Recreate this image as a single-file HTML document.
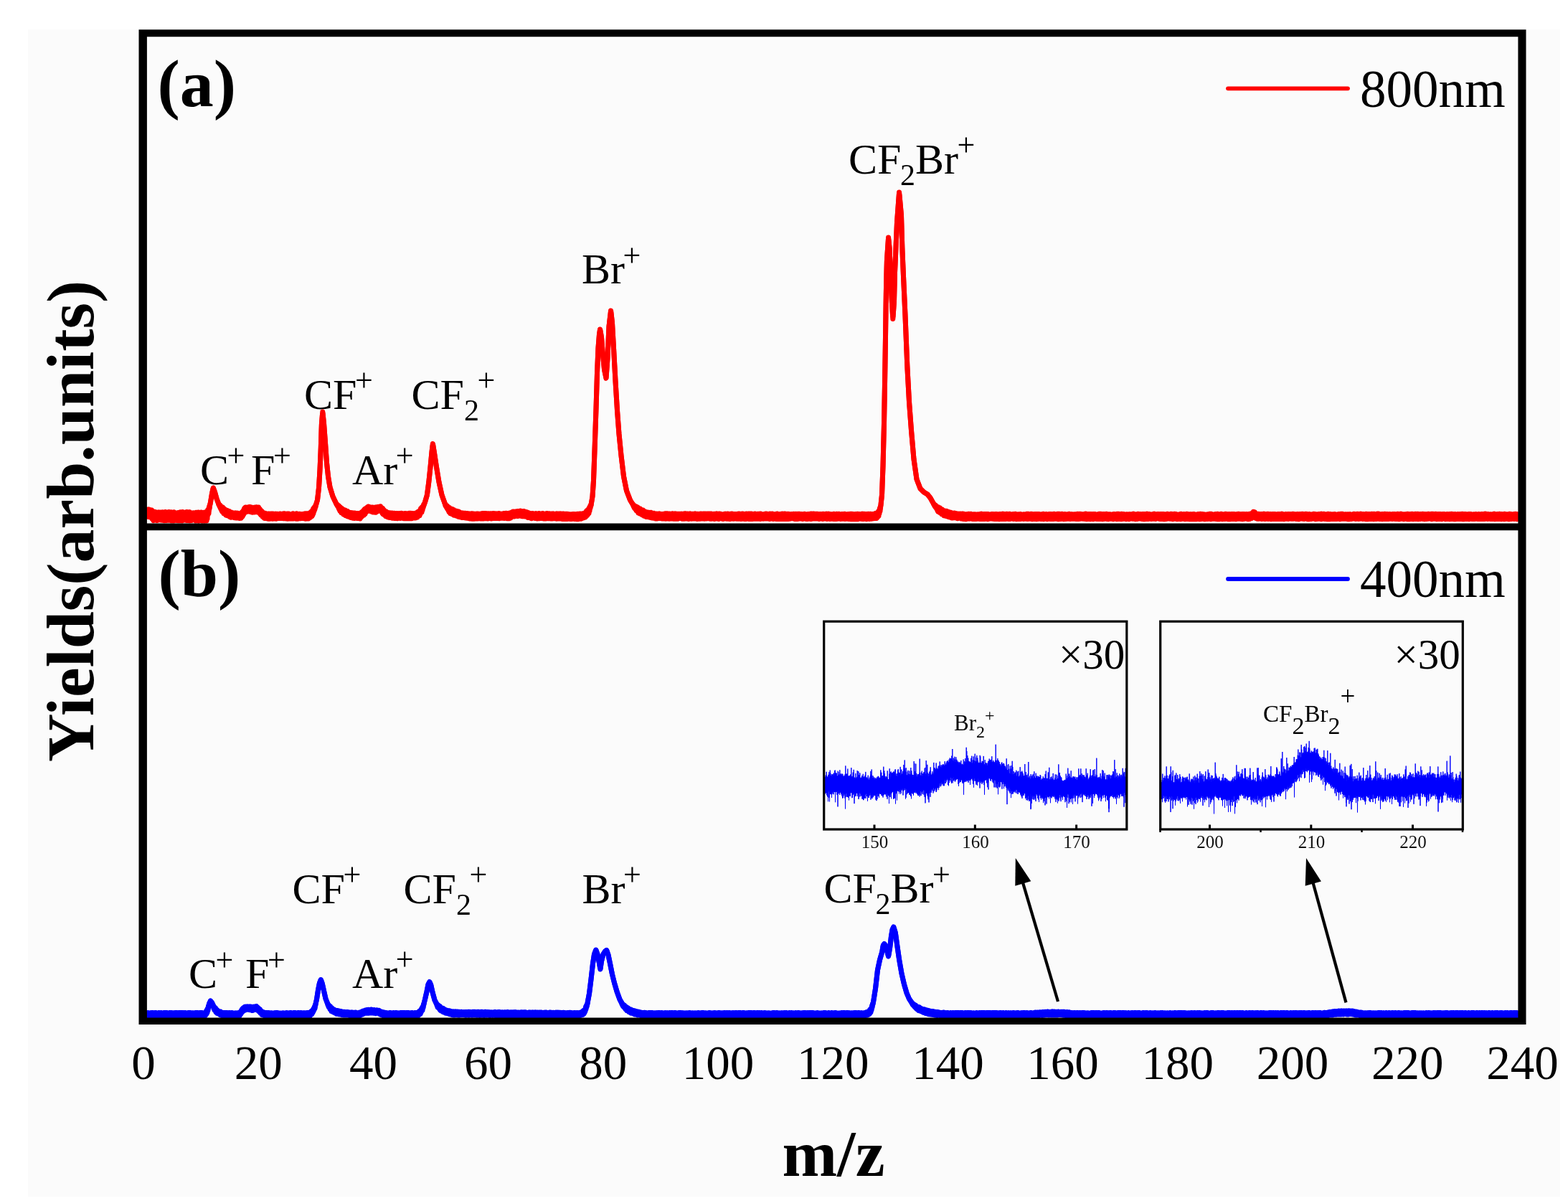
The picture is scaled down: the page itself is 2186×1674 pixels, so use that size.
<!DOCTYPE html>
<html><head><meta charset="utf-8"><title>Mass spectra</title>
<style>html,body{margin:0;padding:0;background:#fff;}svg{display:block}</style></head>
<body><svg width="2186" height="1674" viewBox="0 0 2186 1674">
<rect x="39" y="41" width="2136" height="1627" fill="#fbfbfb"/><path d="M205.5,710.5 L206.0,720.2 L206.5,709.9 L207.0,720.0 L207.5,710.1 L208.0,720.6 L208.5,711.0 L209.0,720.9 L209.5,711.0 L210.0,720.7 L210.5,711.0 L211.0,720.1 L211.5,711.1 L212.0,723.1 L212.5,713.3 L213.0,723.5 L213.5,713.9 L214.0,725.7 L214.5,714.0 L215.0,724.7 L215.5,713.3 L216.0,724.0 L216.5,713.5 L217.0,724.5 L217.5,714.8 L218.0,724.2 L218.5,714.5 L219.0,725.5 L219.5,714.8 L220.0,725.1 L220.5,713.9 L221.0,724.7 L221.5,714.1 L222.0,724.1 L222.5,715.0 L223.0,724.4 L223.5,713.9 L224.0,724.8 L224.5,714.6 L225.0,725.1 L225.5,714.3 L226.0,724.6 L226.5,713.7 L227.0,725.3 L227.5,714.7 L228.0,725.1 L228.5,714.2 L229.0,725.7 L229.5,713.8 L230.0,724.6 L230.5,713.4 L231.0,724.3 L231.5,714.4 L232.0,725.5 L232.5,714.9 L233.0,725.0 L233.5,715.2 L234.0,725.3 L234.5,713.8 L235.0,725.1 L235.5,713.6 L236.0,724.7 L236.5,713.9 L237.0,725.2 L237.5,714.2 L238.0,724.9 L238.5,713.7 L239.0,725.9 L239.5,714.4 L240.0,725.3 L240.5,715.2 L241.0,725.4 L241.5,714.1 L242.0,726.0 L242.5,713.7 L243.0,724.6 L243.5,714.6 L244.0,725.4 L244.5,715.3 L245.0,725.0 L245.5,715.0 L246.0,724.3 L246.5,715.2 L247.0,725.6 L247.5,715.1 L248.0,724.6 L248.5,714.6 L249.0,725.8 L249.5,715.2 L250.0,725.0 L250.5,714.3 L251.0,725.8 L251.5,713.8 L252.0,725.8 L252.5,714.8 L253.0,725.0 L253.5,714.7 L254.0,725.9 L254.5,713.6 L255.0,724.5 L255.5,715.0 L256.0,724.6 L256.5,714.9 L257.0,725.1 L257.5,714.3 L258.0,724.7 L258.5,715.4 L259.0,725.0 L259.5,714.7 L260.0,725.3 L260.5,713.6 L261.0,725.5 L261.5,714.4 L262.0,725.4 L262.5,714.1 L263.0,724.3 L263.5,713.7 L264.0,725.7 L264.5,713.8 L265.0,725.8 L265.5,714.7 L266.0,725.0 L266.5,715.3 L267.0,725.5 L267.5,715.3 L268.0,724.4 L268.5,715.1 L269.0,724.6 L269.5,714.8 L270.0,724.4 L270.5,715.5 L271.0,724.6 L271.5,715.3 L272.0,725.0 L272.5,715.4 L273.0,726.0 L273.5,714.3 L274.0,724.6 L274.5,715.0 L275.0,725.0 L275.5,714.8 L276.0,724.6 L276.5,713.9 L277.0,726.2 L277.5,714.6 L278.0,725.3 L278.5,715.4 L279.0,724.5 L279.5,714.9 L280.0,724.9 L280.5,714.0 L281.0,724.7 L281.5,715.5 L282.0,726.2 L282.5,714.6 L283.0,724.7 L283.5,714.5 L284.0,724.4 L284.5,714.6 L285.0,726.2 L285.5,713.9 L286.0,725.7 L286.5,715.1 L287.0,725.1 L287.5,715.3 L288.0,725.9 L288.5,713.3 L289.0,723.2 L289.5,711.0 L290.0,717.6 L290.5,709.7 L291.0,715.8 L291.5,706.5 L292.0,709.4 L292.5,703.4 L293.0,702.9 L293.5,700.0 L294.0,697.0 L294.5,694.0 L295.0,691.0 L295.5,688.0 L296.0,685.8 L296.5,683.6 L297.0,681.3 L297.5,680.5 L298.0,681.9 L298.5,683.3 L299.0,684.6 L299.5,686.0 L300.0,687.8 L300.5,689.6 L301.0,691.4 L301.5,693.2 L302.0,695.0 L302.5,696.3 L303.0,697.7 L303.5,699.0 L304.0,700.3 L304.5,701.4 L305.0,703.7 L305.5,703.0 L306.0,705.7 L306.5,703.7 L307.0,707.8 L307.5,704.7 L308.0,709.6 L308.5,706.2 L309.0,711.8 L309.5,706.9 L310.0,713.2 L310.5,706.9 L311.0,714.1 L311.5,708.4 L312.0,715.7 L312.5,709.0 L313.0,715.9 L313.5,710.7 L314.0,716.8 L314.5,710.5 L315.0,718.0 L315.5,711.8 L316.0,718.5 L316.5,711.3 L317.0,718.7 L317.5,712.5 L318.0,719.0 L318.5,713.2 L319.0,718.9 L319.5,712.6 L320.0,720.0 L320.5,713.6 L321.0,720.8 L321.5,714.1 L322.0,721.2 L322.5,714.0 L323.0,720.5 L323.5,714.7 L324.0,720.7 L324.5,714.8 L325.0,721.1 L325.5,714.9 L326.0,721.1 L326.5,715.2 L327.0,721.7 L327.5,715.0 L328.0,721.3 L328.5,714.9 L329.0,721.9 L329.5,715.2 L330.0,722.1 L330.5,715.2 L331.0,721.7 L331.5,715.3 L332.0,721.3 L332.5,715.5 L333.0,721.5 L333.5,716.1 L334.0,722.4 L334.5,716.0 L335.0,722.1 L335.5,715.5 L336.0,722.3 L336.5,715.3 L337.0,720.9 L337.5,713.7 L338.0,719.9 L338.5,712.9 L339.0,718.3 L339.5,711.3 L340.0,716.4 L340.5,709.1 L341.0,715.0 L341.5,707.7 L342.0,714.3 L342.5,707.1 L343.0,713.6 L343.5,707.3 L344.0,713.3 L344.5,707.2 L345.0,713.1 L345.5,707.1 L346.0,712.7 L346.5,706.9 L347.0,712.9 L347.5,706.6 L348.0,712.6 L348.5,706.4 L349.0,712.5 L349.5,707.1 L350.0,713.7 L350.5,707.0 L351.0,713.3 L351.5,708.1 L352.0,714.2 L352.5,708.2 L353.0,713.7 L353.5,708.1 L354.0,713.9 L354.5,707.2 L355.0,713.9 L355.5,707.7 L356.0,713.5 L356.5,707.0 L357.0,712.7 L357.5,706.7 L358.0,713.6 L358.5,707.6 L359.0,714.0 L359.5,707.6 L360.0,713.8 L360.5,707.1 L361.0,714.6 L361.5,708.8 L362.0,715.5 L362.5,709.8 L363.0,716.7 L363.5,711.5 L364.0,718.0 L364.5,712.0 L365.0,718.6 L365.5,713.0 L366.0,719.9 L366.5,714.5 L367.0,720.7 L367.5,714.7 L368.0,721.7 L368.5,715.9 L369.0,722.4 L369.5,715.2 L370.0,722.6 L370.5,716.1 L371.0,722.0 L371.5,716.4 L372.0,722.7 L372.5,716.3 L373.0,722.1 L373.5,716.3 L374.0,723.2 L374.5,715.9 L375.0,722.5 L375.5,716.7 L376.0,723.2 L376.5,716.2 L377.0,723.0 L377.5,716.7 L378.0,722.2 L378.5,716.1 L379.0,722.6 L379.5,716.8 L380.0,723.2 L380.5,716.1 L381.0,723.1 L381.5,716.7 L382.0,723.1 L382.5,716.8 L383.0,723.1 L383.5,716.3 L384.0,722.5 L384.5,716.2 L385.0,723.2 L385.5,716.5 L386.0,722.3 L386.5,716.2 L387.0,722.4 L387.5,716.7 L388.0,722.3 L388.5,716.8 L389.0,722.4 L389.5,716.5 L390.0,722.5 L390.5,716.0 L391.0,722.5 L391.5,716.3 L392.0,722.4 L392.5,716.4 L393.0,722.2 L393.5,716.6 L394.0,722.2 L394.5,716.0 L395.0,722.8 L395.5,716.6 L396.0,722.7 L396.5,715.8 L397.0,722.3 L397.5,715.9 L398.0,722.7 L398.5,716.3 L399.0,723.1 L399.5,716.4 L400.0,722.7 L400.5,716.1 L401.0,723.3 L401.5,716.4 L402.0,723.1 L402.5,716.0 L403.0,722.9 L403.5,716.4 L404.0,722.6 L404.5,716.8 L405.0,722.3 L405.5,716.8 L406.0,723.0 L406.5,716.5 L407.0,722.3 L407.5,716.7 L408.0,723.1 L408.5,715.8 L409.0,722.9 L409.5,716.5 L410.0,722.4 L410.5,716.5 L411.0,722.7 L411.5,716.7 L412.0,722.7 L412.5,716.5 L413.0,723.3 L413.5,715.7 L414.0,722.8 L414.5,716.6 L415.0,723.3 L415.5,716.5 L416.0,722.6 L416.5,716.8 L417.0,722.6 L417.5,716.3 L418.0,722.7 L418.5,716.6 L419.0,722.7 L419.5,716.8 L420.0,722.5 L420.5,716.7 L421.0,722.6 L421.5,716.8 L422.0,722.2 L422.5,716.5 L423.0,722.4 L423.5,716.2 L424.0,722.8 L424.5,716.0 L425.0,722.9 L425.5,716.0 L426.0,723.2 L426.5,716.4 L427.0,722.5 L427.5,715.7 L428.0,722.3 L428.5,716.0 L429.0,722.9 L429.5,716.8 L430.0,723.1 L430.5,715.5 L431.0,722.2 L431.5,715.0 L432.0,721.7 L432.5,714.9 L433.0,720.7 L433.5,713.8 L434.0,720.3 L434.5,712.8 L435.0,719.6 L435.5,711.7 L436.0,717.7 L436.5,709.6 L437.0,715.5 L437.5,708.1 L438.0,712.4 L438.5,706.8 L439.0,710.1 L439.5,705.3 L440.0,706.9 L440.5,702.8 L441.0,702.3 L441.5,700.3 L442.0,698.7 L442.5,697.0 L443.0,692.8 L443.5,688.5 L444.0,684.2 L444.5,680.0 L445.0,671.7 L445.5,663.3 L446.0,655.0 L446.5,643.5 L447.0,631.9 L447.5,618.4 L448.0,601.9 L448.5,589.6 L449.0,583.6 L449.5,577.6 L450.0,575.9 L450.5,580.6 L451.0,585.3 L451.5,590.0 L452.0,596.8 L452.5,603.5 L453.0,610.2 L453.5,617.0 L454.0,624.0 L454.5,631.0 L455.0,638.0 L455.5,645.0 L456.0,649.8 L456.5,654.5 L457.0,659.2 L457.5,664.0 L458.0,667.0 L458.5,670.0 L459.0,673.0 L459.5,676.0 L460.0,679.0 L460.5,680.6 L461.0,682.2 L461.5,683.9 L462.0,685.5 L462.5,687.1 L463.0,688.8 L463.5,690.4 L464.0,692.0 L464.5,693.0 L465.0,694.1 L465.5,695.1 L466.0,696.2 L466.5,697.2 L467.0,698.3 L467.5,699.4 L468.0,700.4 L468.5,701.3 L469.0,703.0 L469.5,702.6 L470.0,704.7 L470.5,703.2 L471.0,706.3 L471.5,704.1 L472.0,708.3 L472.5,704.9 L473.0,710.2 L473.5,706.3 L474.0,712.1 L474.5,707.0 L475.0,713.0 L475.5,708.4 L476.0,714.6 L476.5,708.5 L477.0,715.1 L477.5,709.6 L478.0,715.8 L478.5,710.0 L479.0,717.0 L479.5,711.0 L480.0,717.5 L480.5,710.7 L481.0,717.5 L481.5,711.3 L482.0,718.8 L482.5,712.0 L483.0,719.0 L483.5,713.1 L484.0,719.4 L484.5,712.6 L485.0,719.9 L485.5,713.6 L486.0,720.0 L486.5,714.0 L487.0,719.8 L487.5,714.5 L488.0,721.0 L488.5,714.5 L489.0,721.4 L489.5,714.9 L490.0,720.9 L490.5,714.8 L491.0,721.1 L491.5,715.3 L492.0,722.3 L492.5,714.9 L493.0,722.2 L493.5,715.3 L494.0,722.4 L494.5,715.0 L495.0,722.1 L495.5,715.4 L496.0,721.6 L496.5,715.5 L497.0,722.2 L497.5,715.5 L498.0,722.5 L498.5,716.2 L499.0,721.9 L499.5,715.5 L500.0,722.1 L500.5,716.2 L501.0,722.5 L501.5,716.5 L502.0,723.0 L502.5,715.2 L503.0,721.5 L503.5,714.6 L504.0,720.5 L504.5,713.7 L505.0,719.6 L505.5,713.1 L506.0,718.3 L506.5,712.1 L507.0,718.2 L507.5,710.8 L508.0,716.5 L508.5,709.4 L509.0,716.4 L509.5,709.0 L510.0,714.5 L510.5,708.3 L511.0,713.4 L511.5,707.5 L512.0,712.2 L512.5,706.9 L513.0,711.2 L513.5,706.0 L514.0,711.6 L514.5,706.2 L515.0,711.8 L515.5,706.8 L516.0,712.4 L516.5,707.1 L517.0,712.8 L517.5,707.7 L518.0,713.3 L518.5,707.0 L519.0,713.3 L519.5,707.5 L520.0,714.0 L520.5,707.2 L521.0,713.6 L521.5,707.9 L522.0,713.8 L522.5,707.8 L523.0,714.2 L523.5,707.1 L524.0,714.2 L524.5,707.0 L525.0,712.8 L525.5,707.7 L526.0,713.1 L526.5,706.6 L527.0,712.4 L527.5,706.7 L528.0,711.5 L528.5,706.6 L529.0,711.9 L529.5,706.0 L530.0,711.4 L530.5,705.8 L531.0,711.7 L531.5,707.4 L532.0,713.2 L532.5,707.9 L533.0,715.2 L533.5,708.6 L534.0,716.5 L534.5,710.0 L535.0,717.3 L535.5,710.9 L536.0,717.8 L536.5,712.2 L537.0,718.8 L537.5,712.7 L538.0,719.7 L538.5,713.0 L539.0,719.8 L539.5,714.3 L540.0,720.4 L540.5,714.2 L541.0,721.1 L541.5,715.0 L542.0,720.6 L542.5,714.7 L543.0,721.4 L543.5,715.1 L544.0,721.2 L544.5,715.0 L545.0,721.1 L545.5,715.5 L546.0,721.8 L546.5,715.0 L547.0,722.2 L547.5,715.2 L548.0,722.2 L548.5,716.1 L549.0,721.9 L549.5,715.2 L550.0,722.5 L550.5,716.0 L551.0,721.7 L551.5,715.8 L552.0,722.4 L552.5,715.9 L553.0,722.0 L553.5,715.6 L554.0,722.7 L554.5,716.1 L555.0,721.7 L555.5,716.0 L556.0,722.1 L556.5,715.6 L557.0,721.9 L557.5,715.4 L558.0,722.5 L558.5,715.8 L559.0,721.9 L559.5,715.2 L560.0,722.0 L560.5,715.4 L561.0,721.9 L561.5,716.1 L562.0,722.5 L562.5,716.0 L563.0,722.7 L563.5,715.8 L564.0,721.9 L564.5,716.1 L565.0,722.1 L565.5,715.6 L566.0,722.7 L566.5,716.2 L567.0,722.1 L567.5,716.1 L568.0,722.8 L568.5,716.2 L569.0,721.7 L569.5,716.3 L570.0,722.1 L570.5,715.3 L571.0,722.7 L571.5,715.5 L572.0,722.8 L572.5,715.3 L573.0,722.0 L573.5,716.1 L574.0,722.7 L574.5,715.5 L575.0,721.7 L575.5,715.6 L576.0,722.1 L576.5,715.9 L577.0,722.0 L577.5,716.1 L578.0,721.7 L578.5,716.0 L579.0,722.1 L579.5,715.3 L580.0,721.8 L580.5,714.8 L581.0,721.1 L581.5,714.7 L582.0,721.0 L582.5,713.4 L583.0,719.8 L583.5,713.5 L584.0,719.0 L584.5,712.3 L585.0,718.7 L585.5,711.4 L586.0,716.6 L586.5,709.1 L587.0,714.7 L587.5,708.1 L588.0,713.9 L588.5,706.7 L589.0,711.2 L589.5,705.9 L590.0,707.9 L590.5,703.6 L591.0,704.7 L591.5,702.0 L592.0,701.4 L592.5,700.0 L593.0,698.3 L593.5,696.6 L594.0,694.8 L594.5,693.1 L595.0,691.4 L595.5,689.2 L596.0,685.5 L596.5,681.7 L597.0,678.0 L597.5,674.2 L598.0,670.1 L598.5,665.3 L599.0,660.5 L599.5,655.8 L600.0,651.0 L600.5,645.8 L601.0,640.5 L601.5,635.2 L602.0,630.0 L602.5,625.9 L603.0,621.8 L603.5,619.1 L604.0,622.1 L604.5,625.2 L605.0,628.2 L605.5,631.3 L606.0,634.6 L606.5,637.9 L607.0,641.2 L607.5,644.4 L608.0,647.7 L608.5,651.0 L609.0,654.0 L609.5,657.0 L610.0,660.0 L610.5,663.0 L611.0,666.0 L611.5,669.0 L612.0,672.0 L612.5,674.2 L613.0,676.5 L613.5,678.8 L614.0,681.0 L614.5,683.2 L615.0,685.5 L615.5,687.8 L616.0,690.0 L616.5,691.4 L617.0,692.8 L617.5,694.2 L618.0,695.6 L618.5,697.0 L619.0,698.4 L619.5,699.8 L620.0,701.3 L620.5,702.1 L621.0,704.8 L621.5,703.3 L622.0,706.5 L622.5,704.3 L623.0,708.2 L623.5,705.0 L624.0,709.7 L624.5,706.2 L625.0,711.4 L625.5,707.2 L626.0,713.6 L626.5,707.6 L627.0,714.5 L627.5,708.6 L628.0,715.8 L628.5,709.0 L629.0,715.4 L629.5,709.2 L630.0,716.4 L630.5,709.5 L631.0,716.3 L631.5,710.5 L632.0,717.6 L632.5,710.6 L633.0,718.2 L633.5,712.0 L634.0,718.0 L634.5,712.5 L635.0,718.4 L635.5,711.9 L636.0,719.1 L636.5,712.2 L637.0,719.2 L637.5,712.6 L638.0,719.6 L638.5,713.6 L639.0,720.2 L639.5,713.1 L640.0,719.8 L640.5,713.8 L641.0,720.7 L641.5,714.5 L642.0,720.7 L642.5,714.9 L643.0,720.8 L643.5,715.1 L644.0,721.5 L644.5,714.9 L645.0,721.4 L645.5,715.9 L646.0,721.6 L646.5,715.2 L647.0,721.5 L647.5,715.7 L648.0,721.6 L648.5,715.2 L649.0,722.1 L649.5,716.1 L650.0,721.6 L650.5,715.8 L651.0,722.2 L651.5,715.5 L652.0,721.7 L652.5,716.2 L653.0,722.5 L653.5,715.9 L654.0,722.1 L654.5,716.1 L655.0,722.9 L655.5,716.2 L656.0,722.5 L656.5,716.2 L657.0,722.4 L657.5,715.7 L658.0,723.2 L658.5,716.3 L659.0,722.3 L659.5,716.0 L660.0,722.4 L660.5,716.8 L661.0,723.2 L661.5,716.3 L662.0,723.1 L662.5,716.4 L663.0,723.1 L663.5,716.3 L664.0,722.3 L664.5,716.8 L665.0,722.7 L665.5,716.1 L666.0,723.1 L666.5,716.7 L667.0,722.8 L667.5,716.3 L668.0,722.7 L668.5,716.6 L669.0,722.4 L669.5,716.2 L670.0,723.1 L670.5,716.6 L671.0,722.6 L671.5,715.8 L672.0,723.1 L672.5,716.5 L673.0,722.2 L673.5,715.6 L674.0,723.1 L674.5,716.1 L675.0,722.1 L675.5,715.6 L676.0,722.4 L676.5,715.6 L677.0,722.7 L677.5,715.7 L678.0,722.2 L678.5,715.8 L679.0,722.2 L679.5,716.2 L680.0,722.9 L680.5,715.7 L681.0,722.2 L681.5,716.4 L682.0,722.4 L682.5,716.0 L683.0,722.4 L683.5,716.5 L684.0,722.2 L684.5,715.8 L685.0,722.9 L685.5,716.5 L686.0,722.5 L686.5,715.7 L687.0,721.9 L687.5,715.6 L688.0,722.0 L688.5,715.9 L689.0,722.5 L689.5,715.8 L690.0,722.2 L690.5,716.1 L691.0,722.5 L691.5,716.0 L692.0,722.6 L692.5,716.0 L693.0,722.3 L693.5,716.5 L694.0,722.5 L694.5,715.9 L695.0,722.1 L695.5,715.6 L696.0,722.7 L696.5,716.0 L697.0,722.0 L697.5,715.9 L698.0,721.9 L698.5,716.3 L699.0,722.3 L699.5,716.3 L700.0,722.3 L700.5,715.9 L701.0,721.8 L701.5,715.7 L702.0,721.8 L702.5,715.6 L703.0,722.6 L703.5,715.8 L704.0,721.8 L704.5,715.8 L705.0,722.1 L705.5,715.3 L706.0,721.9 L706.5,715.4 L707.0,722.8 L707.5,715.5 L708.0,722.6 L708.5,716.1 L709.0,722.8 L709.5,715.8 L710.0,722.8 L710.5,715.1 L711.0,721.4 L711.5,714.8 L712.0,721.9 L712.5,715.2 L713.0,720.8 L713.5,714.0 L714.0,720.2 L714.5,713.4 L715.0,719.9 L715.5,713.1 L716.0,719.3 L716.5,713.2 L717.0,720.1 L717.5,713.4 L718.0,719.2 L718.5,713.0 L719.0,719.1 L719.5,713.4 L720.0,718.9 L720.5,713.1 L721.0,719.6 L721.5,712.4 L722.0,719.4 L722.5,712.8 L723.0,719.2 L723.5,712.8 L724.0,718.8 L724.5,712.2 L725.0,718.7 L725.5,712.0 L726.0,719.0 L726.5,712.5 L727.0,719.5 L727.5,713.2 L728.0,719.8 L728.5,712.7 L729.0,719.2 L729.5,712.6 L730.0,719.2 L730.5,712.5 L731.0,719.7 L731.5,713.4 L732.0,720.0 L732.5,713.5 L733.0,719.7 L733.5,713.5 L734.0,719.8 L734.5,713.7 L735.0,720.4 L735.5,714.2 L736.0,721.5 L736.5,714.6 L737.0,721.5 L737.5,715.2 L738.0,721.0 L738.5,715.8 L739.0,721.5 L739.5,715.5 L740.0,722.2 L740.5,715.8 L741.0,722.7 L741.5,716.2 L742.0,721.9 L742.5,715.6 L743.0,721.7 L743.5,716.4 L744.0,722.1 L744.5,716.3 L745.0,722.1 L745.5,716.2 L746.0,722.4 L746.5,715.8 L747.0,722.0 L747.5,715.7 L748.0,722.3 L748.5,716.3 L749.0,722.9 L749.5,716.2 L750.0,722.0 L750.5,716.4 L751.0,722.6 L751.5,715.5 L752.0,722.7 L752.5,716.1 L753.0,722.2 L753.5,716.5 L754.0,722.6 L754.5,715.9 L755.0,722.3 L755.5,715.8 L756.0,722.4 L756.5,715.5 L757.0,722.8 L757.5,716.3 L758.0,723.0 L758.5,716.6 L759.0,722.6 L759.5,716.2 L760.0,722.2 L760.5,716.6 L761.0,722.9 L761.5,716.7 L762.0,722.6 L762.5,715.6 L763.0,722.2 L763.5,716.5 L764.0,722.7 L764.5,716.1 L765.0,722.8 L765.5,715.8 L766.0,722.3 L766.5,716.4 L767.0,722.4 L767.5,716.7 L768.0,723.1 L768.5,715.9 L769.0,722.9 L769.5,716.8 L770.0,723.1 L770.5,716.0 L771.0,722.7 L771.5,716.0 L772.0,722.7 L772.5,716.6 L773.0,722.3 L773.5,716.6 L774.0,722.2 L774.5,716.5 L775.0,723.1 L775.5,716.1 L776.0,723.2 L776.5,716.1 L777.0,722.5 L777.5,716.3 L778.0,722.7 L778.5,716.0 L779.0,722.9 L779.5,716.6 L780.0,723.0 L780.5,715.9 L781.0,722.5 L781.5,716.0 L782.0,722.3 L782.5,716.7 L783.0,722.6 L783.5,716.2 L784.0,723.4 L784.5,716.2 L785.0,722.7 L785.5,716.0 L786.0,722.7 L786.5,716.8 L787.0,723.4 L787.5,716.4 L788.0,723.2 L788.5,716.3 L789.0,723.5 L789.5,716.6 L790.0,723.4 L790.5,716.3 L791.0,723.4 L791.5,716.6 L792.0,723.3 L792.5,716.5 L793.0,722.8 L793.5,716.9 L794.0,723.2 L794.5,717.1 L795.0,723.5 L795.5,717.0 L796.0,722.6 L796.5,717.1 L797.0,723.6 L797.5,716.8 L798.0,722.7 L798.5,717.2 L799.0,722.6 L799.5,716.5 L800.0,723.3 L800.5,716.5 L801.0,723.4 L801.5,717.2 L802.0,723.3 L802.5,716.9 L803.0,723.6 L803.5,716.4 L804.0,723.7 L804.5,717.3 L805.0,723.6 L805.5,716.3 L806.0,723.7 L806.5,717.1 L807.0,722.8 L807.5,717.0 L808.0,722.5 L808.5,716.1 L809.0,723.3 L809.5,716.3 L810.0,723.2 L810.5,716.2 L811.0,722.6 L811.5,716.8 L812.0,722.3 L812.5,715.7 L813.0,721.9 L813.5,715.7 L814.0,721.6 L814.5,715.6 L815.0,721.0 L815.5,714.8 L816.0,721.0 L816.5,714.2 L817.0,720.0 L817.5,712.6 L818.0,719.0 L818.5,711.5 L819.0,717.9 L819.5,711.2 L820.0,716.4 L820.5,709.5 L821.0,715.5 L821.5,707.7 L822.0,712.2 L822.5,705.7 L823.0,708.3 L823.5,703.8 L824.0,704.8 L824.5,701.0 L825.0,698.0 L825.5,695.0 L826.0,692.0 L826.5,684.7 L827.0,677.3 L827.5,670.0 L828.0,656.1 L828.5,642.2 L829.0,628.3 L829.5,614.1 L830.0,599.4 L830.5,584.7 L831.0,570.0 L831.5,553.3 L832.0,536.7 L832.5,520.0 L833.0,508.3 L833.5,496.7 L834.0,485.0 L834.5,478.7 L835.0,472.3 L835.5,466.0 L836.0,462.8 L836.5,459.6 L837.0,461.3 L837.5,464.2 L838.0,467.1 L838.5,470.0 L839.0,476.2 L839.5,482.5 L840.0,488.8 L840.5,495.0 L841.0,500.0 L841.5,505.0 L842.0,510.0 L842.5,515.0 L843.0,517.4 L843.5,519.8 L844.0,522.2 L844.5,524.6 L845.0,527.0 L845.5,520.2 L846.0,513.5 L846.5,506.8 L847.0,500.0 L847.5,488.8 L848.0,477.5 L848.5,466.2 L849.0,455.0 L849.5,450.8 L850.0,446.5 L850.5,442.3 L851.0,438.1 L851.5,433.8 L852.0,436.6 L852.5,441.1 L853.0,445.5 L853.5,450.0 L854.0,458.8 L854.5,467.5 L855.0,476.2 L855.5,485.0 L856.0,494.2 L856.5,503.4 L857.0,512.6 L857.5,521.8 L858.0,531.0 L858.5,539.2 L859.0,547.4 L859.5,555.6 L860.0,563.8 L860.5,572.0 L861.0,578.6 L861.5,585.2 L862.0,591.8 L862.5,598.4 L863.0,605.0 L863.5,610.0 L864.0,615.0 L864.5,620.0 L865.0,625.0 L865.5,630.0 L866.0,635.0 L866.5,639.1 L867.0,643.3 L867.5,647.4 L868.0,651.6 L868.5,655.7 L869.0,659.9 L869.5,664.0 L870.0,666.5 L870.5,669.0 L871.0,671.5 L871.5,674.0 L872.0,676.5 L872.5,679.0 L873.0,681.5 L873.5,684.0 L874.0,685.3 L874.5,686.6 L875.0,687.9 L875.5,689.2 L876.0,690.5 L876.5,691.8 L877.0,693.1 L877.5,694.4 L878.0,695.7 L878.5,697.0 L879.0,697.8 L879.5,698.6 L880.0,699.5 L880.5,700.3 L881.0,701.1 L881.5,701.7 L882.0,703.3 L882.5,702.6 L883.0,705.5 L883.5,703.8 L884.0,707.5 L884.5,704.7 L885.0,708.7 L885.5,705.2 L886.0,709.8 L886.5,705.7 L887.0,711.4 L887.5,706.7 L888.0,712.3 L888.5,706.7 L889.0,713.2 L889.5,707.6 L890.0,714.9 L890.5,708.9 L891.0,715.3 L891.5,709.4 L892.0,716.1 L892.5,709.0 L893.0,716.3 L893.5,710.5 L894.0,716.8 L894.5,710.5 L895.0,717.5 L895.5,711.0 L896.0,717.9 L896.5,711.1 L897.0,718.3 L897.5,712.1 L898.0,719.2 L898.5,712.9 L899.0,719.4 L899.5,713.1 L900.0,720.0 L900.5,713.8 L901.0,720.5 L901.5,713.7 L902.0,719.6 L902.5,714.0 L903.0,720.2 L903.5,714.5 L904.0,720.4 L904.5,714.3 L905.0,721.0 L905.5,714.5 L906.0,720.7 L906.5,714.9 L907.0,721.4 L907.5,714.3 L908.0,721.4 L908.5,715.3 L909.0,721.9 L909.5,715.3 L910.0,721.4 L910.5,715.8 L911.0,722.2 L911.5,715.2 L912.0,722.3 L912.5,715.8 L913.0,722.4 L913.5,716.3 L914.0,723.1 L914.5,716.3 L915.0,722.9 L915.5,715.9 L916.0,723.1 L916.5,716.3 L917.0,722.5 L917.5,716.2 L918.0,722.3 L918.5,715.9 L919.0,722.6 L919.5,715.9 L920.0,722.5 L920.5,716.4 L921.0,722.5 L921.5,716.4 L922.0,722.4 L922.5,716.8 L923.0,723.0 L923.5,716.5 L924.0,722.5 L924.5,716.5 L925.0,722.7 L925.5,716.4 L926.0,722.9 L926.5,716.1 L927.0,722.6 L927.5,715.8 L928.0,723.2 L928.5,716.8 L929.0,723.1 L929.5,715.8 L930.0,723.1 L930.5,716.7 L931.0,723.1 L931.5,716.1 L932.0,722.2 L932.5,716.9 L933.0,723.3 L933.5,716.1 L934.0,722.5 L934.5,716.8 L935.0,722.4 L935.5,716.6 L936.0,723.1 L936.5,716.5 L937.0,722.4 L937.5,715.8 L938.0,723.1 L938.5,716.7 L939.0,723.2 L939.5,716.2 L940.0,723.1 L940.5,716.1 L941.0,723.2 L941.5,716.0 L942.0,723.2 L942.5,716.7 L943.0,723.0 L943.5,716.3 L944.0,723.1 L944.5,716.4 L945.0,723.2 L945.5,716.3 L946.0,722.5 L946.5,716.6 L947.0,722.4 L947.5,716.3 L948.0,722.3 L948.5,716.4 L949.0,722.4 L949.5,716.3 L950.0,722.8 L950.5,716.3 L951.0,723.2 L951.5,716.9 L952.0,723.2 L952.5,716.4 L953.0,722.9 L953.5,716.1 L954.0,723.2 L954.5,716.5 L955.0,722.7 L955.5,715.8 L956.0,722.3 L956.5,716.2 L957.0,723.0 L957.5,716.9 L958.0,722.9 L958.5,716.1 L959.0,723.3 L959.5,716.5 L960.0,723.4 L960.5,716.3 L961.0,722.8 L961.5,715.9 L962.0,722.3 L962.5,716.1 L963.0,723.0 L963.5,716.5 L964.0,723.2 L964.5,716.5 L965.0,722.8 L965.5,716.3 L966.0,723.1 L966.5,716.7 L967.0,722.7 L967.5,716.4 L968.0,722.9 L968.5,716.0 L969.0,722.6 L969.5,716.0 L970.0,722.7 L970.5,716.4 L971.0,722.6 L971.5,716.4 L972.0,723.4 L972.5,716.2 L973.0,723.2 L973.5,716.6 L974.0,722.6 L974.5,716.6 L975.0,722.9 L975.5,716.2 L976.0,723.2 L976.5,716.9 L977.0,723.1 L977.5,715.9 L978.0,722.9 L978.5,716.9 L979.0,722.6 L979.5,716.9 L980.0,722.5 L980.5,715.9 L981.0,723.0 L981.5,716.2 L982.0,723.2 L982.5,715.9 L983.0,723.0 L983.5,716.3 L984.0,723.0 L984.5,716.2 L985.0,723.0 L985.5,716.2 L986.0,722.5 L986.5,716.2 L987.0,722.8 L987.5,716.1 L988.0,722.4 L988.5,716.8 L989.0,722.3 L989.5,716.1 L990.0,723.3 L990.5,716.2 L991.0,722.7 L991.5,716.0 L992.0,723.2 L992.5,716.3 L993.0,722.6 L993.5,716.6 L994.0,722.8 L994.5,716.6 L995.0,722.8 L995.5,716.2 L996.0,723.4 L996.5,716.9 L997.0,722.9 L997.5,716.9 L998.0,722.4 L998.5,716.1 L999.0,723.0 L999.5,715.9 L1000.0,722.8 L1000.5,717.0 L1001.0,722.7 L1001.5,716.3 L1002.0,723.4 L1002.5,715.9 L1003.0,722.8 L1003.5,716.5 L1004.0,722.4 L1004.5,716.3 L1005.0,722.6 L1005.5,716.8 L1006.0,722.3 L1006.5,717.0 L1007.0,723.1 L1007.5,716.9 L1008.0,723.4 L1008.5,716.9 L1009.0,723.3 L1009.5,716.9 L1010.0,722.3 L1010.5,716.2 L1011.0,722.6 L1011.5,716.2 L1012.0,722.5 L1012.5,716.9 L1013.0,723.2 L1013.5,716.2 L1014.0,723.3 L1014.5,716.2 L1015.0,722.4 L1015.5,716.3 L1016.0,723.1 L1016.5,716.5 L1017.0,723.4 L1017.5,716.7 L1018.0,723.4 L1018.5,716.2 L1019.0,722.3 L1019.5,717.0 L1020.0,723.1 L1020.5,716.1 L1021.0,722.4 L1021.5,716.7 L1022.0,723.2 L1022.5,716.8 L1023.0,723.3 L1023.5,716.5 L1024.0,722.4 L1024.5,716.6 L1025.0,723.0 L1025.5,716.5 L1026.0,723.1 L1026.5,716.9 L1027.0,723.3 L1027.5,716.6 L1028.0,723.1 L1028.5,716.3 L1029.0,722.8 L1029.5,716.6 L1030.0,723.2 L1030.5,716.0 L1031.0,723.2 L1031.5,716.4 L1032.0,722.7 L1032.5,717.0 L1033.0,723.5 L1033.5,716.2 L1034.0,723.3 L1034.5,716.7 L1035.0,723.1 L1035.5,715.9 L1036.0,723.3 L1036.5,716.4 L1037.0,722.7 L1037.5,716.6 L1038.0,723.4 L1038.5,716.6 L1039.0,723.1 L1039.5,716.4 L1040.0,723.4 L1040.5,716.1 L1041.0,722.7 L1041.5,717.0 L1042.0,722.7 L1042.5,716.6 L1043.0,723.0 L1043.5,716.1 L1044.0,723.4 L1044.5,717.0 L1045.0,723.3 L1045.5,716.1 L1046.0,723.4 L1046.5,716.4 L1047.0,722.7 L1047.5,716.1 L1048.0,723.3 L1048.5,716.3 L1049.0,723.4 L1049.5,716.7 L1050.0,722.5 L1050.5,716.4 L1051.0,723.3 L1051.5,716.8 L1052.0,723.2 L1052.5,716.0 L1053.0,722.7 L1053.5,716.4 L1054.0,723.2 L1054.5,716.5 L1055.0,722.6 L1055.5,716.8 L1056.0,723.3 L1056.5,716.2 L1057.0,722.9 L1057.5,717.0 L1058.0,723.3 L1058.5,716.2 L1059.0,722.7 L1059.5,716.4 L1060.0,723.4 L1060.5,716.1 L1061.0,723.0 L1061.5,716.5 L1062.0,723.1 L1062.5,716.9 L1063.0,722.6 L1063.5,716.9 L1064.0,723.2 L1064.5,716.7 L1065.0,723.1 L1065.5,716.6 L1066.0,723.0 L1066.5,716.9 L1067.0,722.5 L1067.5,716.0 L1068.0,722.8 L1068.5,717.0 L1069.0,723.1 L1069.5,716.2 L1070.0,722.6 L1070.5,716.4 L1071.0,722.8 L1071.5,716.5 L1072.0,722.4 L1072.5,717.1 L1073.0,723.6 L1073.5,716.1 L1074.0,723.0 L1074.5,716.5 L1075.0,722.7 L1075.5,716.2 L1076.0,722.9 L1076.5,716.0 L1077.0,723.3 L1077.5,716.2 L1078.0,723.5 L1078.5,716.8 L1079.0,722.5 L1079.5,716.9 L1080.0,722.6 L1080.5,717.0 L1081.0,722.5 L1081.5,716.5 L1082.0,723.4 L1082.5,716.6 L1083.0,723.5 L1083.5,716.1 L1084.0,722.5 L1084.5,716.4 L1085.0,722.9 L1085.5,717.0 L1086.0,723.5 L1086.5,716.8 L1087.0,723.1 L1087.5,716.4 L1088.0,723.5 L1088.5,716.4 L1089.0,722.9 L1089.5,716.6 L1090.0,722.6 L1090.5,716.0 L1091.0,723.6 L1091.5,716.9 L1092.0,722.5 L1092.5,716.8 L1093.0,722.9 L1093.5,716.1 L1094.0,723.5 L1094.5,716.2 L1095.0,722.5 L1095.5,716.2 L1096.0,723.3 L1096.5,716.4 L1097.0,723.6 L1097.5,717.1 L1098.0,722.6 L1098.5,716.3 L1099.0,723.5 L1099.5,716.4 L1100.0,722.8 L1100.5,716.5 L1101.0,723.3 L1101.5,717.0 L1102.0,722.8 L1102.5,716.9 L1103.0,722.6 L1103.5,716.6 L1104.0,722.7 L1104.5,716.9 L1105.0,722.6 L1105.5,716.4 L1106.0,722.5 L1106.5,716.3 L1107.0,722.7 L1107.5,717.1 L1108.0,723.5 L1108.5,716.9 L1109.0,723.5 L1109.5,716.2 L1110.0,723.5 L1110.5,717.0 L1111.0,723.0 L1111.5,717.1 L1112.0,723.5 L1112.5,716.2 L1113.0,723.2 L1113.5,716.7 L1114.0,722.9 L1114.5,716.2 L1115.0,723.0 L1115.5,716.5 L1116.0,722.7 L1116.5,716.9 L1117.0,722.6 L1117.5,716.4 L1118.0,723.1 L1118.5,717.0 L1119.0,723.5 L1119.5,716.9 L1120.0,723.0 L1120.5,717.0 L1121.0,722.8 L1121.5,716.2 L1122.0,722.9 L1122.5,717.0 L1123.0,723.1 L1123.5,716.8 L1124.0,723.5 L1124.5,717.1 L1125.0,723.6 L1125.5,717.1 L1126.0,723.5 L1126.5,716.4 L1127.0,722.8 L1127.5,716.6 L1128.0,722.8 L1128.5,716.9 L1129.0,722.7 L1129.5,716.8 L1130.0,723.6 L1130.5,716.1 L1131.0,723.6 L1131.5,717.1 L1132.0,722.9 L1132.5,716.2 L1133.0,722.6 L1133.5,716.4 L1134.0,722.9 L1134.5,716.1 L1135.0,722.5 L1135.5,716.3 L1136.0,722.9 L1136.5,717.0 L1137.0,722.5 L1137.5,716.3 L1138.0,723.1 L1138.5,717.0 L1139.0,723.0 L1139.5,716.2 L1140.0,722.8 L1140.5,716.6 L1141.0,722.7 L1141.5,717.0 L1142.0,723.4 L1142.5,716.4 L1143.0,722.8 L1143.5,717.1 L1144.0,722.6 L1144.5,716.5 L1145.0,723.1 L1145.5,716.9 L1146.0,722.8 L1146.5,716.5 L1147.0,723.4 L1147.5,716.3 L1148.0,723.2 L1148.5,717.0 L1149.0,722.6 L1149.5,716.4 L1150.0,723.0 L1150.5,716.4 L1151.0,722.6 L1151.5,716.3 L1152.0,722.9 L1152.5,716.3 L1153.0,723.5 L1153.5,716.7 L1154.0,722.6 L1154.5,716.2 L1155.0,723.1 L1155.5,716.2 L1156.0,722.9 L1156.5,717.0 L1157.0,723.5 L1157.5,716.8 L1158.0,722.8 L1158.5,716.8 L1159.0,723.2 L1159.5,717.2 L1160.0,723.2 L1160.5,716.7 L1161.0,723.2 L1161.5,717.1 L1162.0,723.4 L1162.5,716.3 L1163.0,723.6 L1163.5,716.9 L1164.0,723.4 L1164.5,716.8 L1165.0,723.4 L1165.5,717.2 L1166.0,723.6 L1166.5,716.2 L1167.0,723.1 L1167.5,716.7 L1168.0,723.2 L1168.5,716.6 L1169.0,722.6 L1169.5,716.2 L1170.0,722.8 L1170.5,717.1 L1171.0,722.7 L1171.5,717.0 L1172.0,723.5 L1172.5,717.2 L1173.0,722.7 L1173.5,716.5 L1174.0,722.8 L1174.5,717.3 L1175.0,723.3 L1175.5,716.6 L1176.0,723.2 L1176.5,716.5 L1177.0,722.7 L1177.5,716.3 L1178.0,723.4 L1178.5,717.2 L1179.0,722.7 L1179.5,716.7 L1180.0,723.2 L1180.5,717.0 L1181.0,722.7 L1181.5,716.8 L1182.0,722.8 L1182.5,716.6 L1183.0,723.6 L1183.5,717.1 L1184.0,723.3 L1184.5,716.4 L1185.0,722.8 L1185.5,716.3 L1186.0,723.7 L1186.5,716.8 L1187.0,723.1 L1187.5,716.3 L1188.0,723.2 L1188.5,716.8 L1189.0,723.7 L1189.5,716.4 L1190.0,723.0 L1190.5,717.0 L1191.0,723.0 L1191.5,716.8 L1192.0,723.7 L1192.5,716.4 L1193.0,723.7 L1193.5,716.4 L1194.0,723.6 L1194.5,717.2 L1195.0,723.2 L1195.5,716.2 L1196.0,723.7 L1196.5,717.0 L1197.0,723.1 L1197.5,716.6 L1198.0,723.0 L1198.5,716.7 L1199.0,722.7 L1199.5,716.8 L1200.0,723.2 L1200.5,717.3 L1201.0,722.8 L1201.5,716.2 L1202.0,723.5 L1202.5,716.3 L1203.0,723.4 L1203.5,716.4 L1204.0,723.6 L1204.5,716.3 L1205.0,722.7 L1205.5,716.6 L1206.0,722.9 L1206.5,716.6 L1207.0,723.0 L1207.5,716.7 L1208.0,723.7 L1208.5,716.6 L1209.0,722.9 L1209.5,716.7 L1210.0,723.1 L1210.5,716.2 L1211.0,723.0 L1211.5,717.0 L1212.0,723.4 L1212.5,717.2 L1213.0,723.3 L1213.5,716.2 L1214.0,723.2 L1214.5,717.0 L1215.0,723.2 L1215.5,716.7 L1216.0,722.7 L1216.5,717.0 L1217.0,722.5 L1217.5,716.6 L1218.0,722.7 L1218.5,716.5 L1219.0,722.4 L1219.5,716.6 L1220.0,722.6 L1220.5,715.6 L1221.0,722.5 L1221.5,715.8 L1222.0,722.4 L1222.5,715.6 L1223.0,721.5 L1223.5,714.3 L1224.0,720.3 L1224.5,713.1 L1225.0,719.2 L1225.5,711.4 L1226.0,715.7 L1226.5,708.3 L1227.0,712.4 L1227.5,705.8 L1228.0,704.3 L1228.5,699.0 L1229.0,694.5 L1229.5,690.0 L1230.0,676.7 L1230.5,663.3 L1231.0,650.0 L1231.5,630.0 L1232.0,610.0 L1232.5,590.0 L1233.0,562.7 L1233.5,535.5 L1234.0,503.3 L1234.5,470.0 L1235.0,432.5 L1235.5,401.0 L1236.0,378.5 L1236.5,362.0 L1237.0,354.7 L1237.5,347.3 L1238.0,339.9 L1238.5,332.5 L1239.0,335.0 L1239.5,340.0 L1240.0,345.0 L1240.5,356.7 L1241.0,368.3 L1241.5,380.0 L1242.0,391.1 L1242.5,402.2 L1243.0,413.3 L1243.5,423.3 L1244.0,431.4 L1244.5,439.6 L1245.0,441.6 L1245.5,434.4 L1246.0,427.2 L1246.5,420.0 L1247.0,400.0 L1247.5,380.0 L1248.0,368.3 L1248.5,356.7 L1249.0,345.0 L1249.5,333.3 L1250.0,321.7 L1250.5,310.0 L1251.0,303.2 L1251.5,296.5 L1252.0,289.7 L1252.5,282.9 L1253.0,276.1 L1253.5,269.4 L1254.0,272.4 L1254.5,277.9 L1255.0,283.4 L1255.5,289.0 L1256.0,294.5 L1256.5,300.0 L1257.0,317.3 L1257.5,334.6 L1258.0,349.7 L1258.5,361.5 L1259.0,373.2 L1259.5,385.0 L1260.0,396.0 L1260.5,407.0 L1261.0,418.0 L1261.5,429.0 L1262.0,440.0 L1262.5,452.5 L1263.0,465.0 L1263.5,477.5 L1264.0,490.0 L1264.5,502.5 L1265.0,513.7 L1265.5,523.0 L1266.0,532.2 L1266.5,541.5 L1267.0,550.7 L1267.5,560.0 L1268.0,566.7 L1268.5,573.3 L1269.0,580.0 L1269.5,586.7 L1270.0,593.3 L1270.5,600.0 L1271.0,605.7 L1271.5,611.4 L1272.0,617.1 L1272.5,622.9 L1273.0,628.6 L1273.5,634.3 L1274.0,640.0 L1274.5,643.5 L1275.0,647.0 L1275.5,650.5 L1276.0,654.0 L1276.5,657.5 L1277.0,661.0 L1277.5,664.5 L1278.0,668.0 L1278.5,669.3 L1279.0,670.6 L1279.5,671.9 L1280.0,673.2 L1280.5,674.5 L1281.0,675.8 L1281.5,677.1 L1282.0,678.4 L1282.5,679.7 L1283.0,681.0 L1283.5,681.5 L1284.0,682.0 L1284.5,682.5 L1285.0,683.0 L1285.5,683.5 L1286.0,684.0 L1286.5,684.5 L1287.0,685.0 L1287.5,685.5 L1288.0,686.0 L1288.5,686.3 L1289.0,686.6 L1289.5,686.9 L1290.0,687.2 L1290.5,687.5 L1291.0,687.8 L1291.5,688.1 L1292.0,688.4 L1292.5,688.7 L1293.0,689.0 L1293.5,689.6 L1294.0,690.2 L1294.5,690.9 L1295.0,691.5 L1295.5,692.1 L1296.0,692.8 L1296.5,693.4 L1297.0,694.0 L1297.5,694.9 L1298.0,695.8 L1298.5,696.7 L1299.0,697.6 L1299.5,698.5 L1300.0,699.4 L1300.5,700.3 L1301.0,701.3 L1301.5,701.7 L1302.0,703.8 L1302.5,702.7 L1303.0,705.2 L1303.5,703.7 L1304.0,706.6 L1304.5,704.2 L1305.0,708.0 L1305.5,705.4 L1306.0,709.6 L1306.5,705.9 L1307.0,711.7 L1307.5,706.6 L1308.0,713.2 L1308.5,707.8 L1309.0,713.2 L1309.5,707.4 L1310.0,714.3 L1310.5,708.1 L1311.0,714.9 L1311.5,709.3 L1312.0,715.5 L1312.5,710.0 L1313.0,716.8 L1313.5,710.1 L1314.0,716.8 L1314.5,710.9 L1315.0,717.5 L1315.5,712.0 L1316.0,718.7 L1316.5,711.8 L1317.0,719.0 L1317.5,712.3 L1318.0,719.0 L1318.5,712.8 L1319.0,718.6 L1319.5,712.3 L1320.0,719.8 L1320.5,713.3 L1321.0,720.1 L1321.5,713.0 L1322.0,719.8 L1322.5,713.5 L1323.0,720.8 L1323.5,714.0 L1324.0,721.1 L1324.5,714.5 L1325.0,720.7 L1325.5,714.3 L1326.0,720.8 L1326.5,715.1 L1327.0,721.9 L1327.5,715.1 L1328.0,722.1 L1328.5,715.6 L1329.0,721.4 L1329.5,715.6 L1330.0,721.5 L1330.5,715.0 L1331.0,721.8 L1331.5,715.5 L1332.0,721.6 L1332.5,715.6 L1333.0,722.0 L1333.5,715.9 L1334.0,721.8 L1334.5,716.3 L1335.0,722.7 L1335.5,716.1 L1336.0,722.1 L1336.5,716.4 L1337.0,722.3 L1337.5,716.4 L1338.0,722.1 L1338.5,716.0 L1339.0,722.5 L1339.5,716.7 L1340.0,723.0 L1340.5,716.8 L1341.0,722.6 L1341.5,716.1 L1342.0,722.5 L1342.5,716.6 L1343.0,723.4 L1343.5,716.3 L1344.0,722.8 L1344.5,716.9 L1345.0,723.5 L1345.5,716.9 L1346.0,723.8 L1346.5,717.1 L1347.0,723.7 L1347.5,716.8 L1348.0,722.9 L1348.5,716.8 L1349.0,722.8 L1349.5,716.5 L1350.0,723.0 L1350.5,716.3 L1351.0,723.3 L1351.5,716.9 L1352.0,722.9 L1352.5,716.6 L1353.0,722.9 L1353.5,716.3 L1354.0,722.8 L1354.5,716.8 L1355.0,723.3 L1355.5,717.0 L1356.0,723.5 L1356.5,716.9 L1357.0,723.4 L1357.5,716.7 L1358.0,723.0 L1358.5,716.9 L1359.0,722.8 L1359.5,717.1 L1360.0,723.6 L1360.5,717.0 L1361.0,723.4 L1361.5,717.2 L1362.0,723.3 L1362.5,716.9 L1363.0,723.2 L1363.5,717.0 L1364.0,722.7 L1364.5,717.0 L1365.0,722.9 L1365.5,717.2 L1366.0,723.5 L1366.5,717.0 L1367.0,723.1 L1367.5,716.3 L1368.0,723.5 L1368.5,716.3 L1369.0,723.6 L1369.5,717.2 L1370.0,723.0 L1370.5,717.3 L1371.0,723.4 L1371.5,716.6 L1372.0,723.1 L1372.5,716.9 L1373.0,723.4 L1373.5,716.5 L1374.0,722.9 L1374.5,716.4 L1375.0,723.1 L1375.5,716.6 L1376.0,722.9 L1376.5,717.2 L1377.0,723.7 L1377.5,716.5 L1378.0,723.5 L1378.5,717.3 L1379.0,722.7 L1379.5,717.2 L1380.0,722.9 L1380.5,717.0 L1381.0,723.1 L1381.5,717.3 L1382.0,723.0 L1382.5,716.6 L1383.0,722.9 L1383.5,716.4 L1384.0,723.3 L1384.5,716.5 L1385.0,723.0 L1385.5,716.8 L1386.0,723.4 L1386.5,716.9 L1387.0,722.7 L1387.5,716.4 L1388.0,723.5 L1388.5,717.0 L1389.0,722.7 L1389.5,716.4 L1390.0,723.4 L1390.5,717.3 L1391.0,722.9 L1391.5,717.2 L1392.0,723.6 L1392.5,717.1 L1393.0,723.7 L1393.5,716.5 L1394.0,722.8 L1394.5,716.5 L1395.0,723.1 L1395.5,716.5 L1396.0,723.6 L1396.5,717.0 L1397.0,722.8 L1397.5,716.3 L1398.0,723.1 L1398.5,716.3 L1399.0,723.4 L1399.5,716.5 L1400.0,723.6 L1400.5,716.6 L1401.0,723.2 L1401.5,717.3 L1402.0,723.5 L1402.5,716.9 L1403.0,723.2 L1403.5,716.3 L1404.0,722.8 L1404.5,716.5 L1405.0,722.7 L1405.5,716.5 L1406.0,723.6 L1406.5,717.0 L1407.0,723.3 L1407.5,716.2 L1408.0,723.4 L1408.5,716.7 L1409.0,722.9 L1409.5,717.3 L1410.0,723.1 L1410.5,716.9 L1411.0,722.9 L1411.5,717.0 L1412.0,722.8 L1412.5,716.5 L1413.0,723.4 L1413.5,717.1 L1414.0,722.9 L1414.5,716.8 L1415.0,723.2 L1415.5,716.3 L1416.0,723.1 L1416.5,717.0 L1417.0,723.7 L1417.5,717.2 L1418.0,723.3 L1418.5,717.0 L1419.0,723.6 L1419.5,716.7 L1420.0,723.5 L1420.5,717.1 L1421.0,723.4 L1421.5,716.7 L1422.0,723.2 L1422.5,716.5 L1423.0,723.6 L1423.5,717.2 L1424.0,723.0 L1424.5,716.9 L1425.0,722.9 L1425.5,717.3 L1426.0,723.0 L1426.5,717.1 L1427.0,723.5 L1427.5,716.8 L1428.0,722.8 L1428.5,717.0 L1429.0,723.2 L1429.5,716.9 L1430.0,722.9 L1430.5,717.3 L1431.0,722.7 L1431.5,716.2 L1432.0,723.5 L1432.5,717.2 L1433.0,723.5 L1433.5,716.2 L1434.0,723.3 L1434.5,717.2 L1435.0,723.2 L1435.5,716.8 L1436.0,722.9 L1436.5,716.7 L1437.0,722.7 L1437.5,716.3 L1438.0,723.4 L1438.5,716.6 L1439.0,723.7 L1439.5,716.6 L1440.0,722.9 L1440.5,717.1 L1441.0,722.8 L1441.5,717.3 L1442.0,723.5 L1442.5,716.4 L1443.0,723.0 L1443.5,717.1 L1444.0,723.4 L1444.5,716.4 L1445.0,723.7 L1445.5,717.1 L1446.0,723.6 L1446.5,716.4 L1447.0,723.5 L1447.5,717.0 L1448.0,722.9 L1448.5,716.4 L1449.0,723.0 L1449.5,716.9 L1450.0,723.3 L1450.5,716.9 L1451.0,723.6 L1451.5,717.1 L1452.0,722.7 L1452.5,716.7 L1453.0,723.4 L1453.5,716.4 L1454.0,723.5 L1454.5,716.3 L1455.0,723.7 L1455.5,716.8 L1456.0,723.2 L1456.5,717.2 L1457.0,723.0 L1457.5,716.7 L1458.0,722.8 L1458.5,716.6 L1459.0,722.8 L1459.5,716.8 L1460.0,723.8 L1460.5,717.2 L1461.0,722.7 L1461.5,716.8 L1462.0,722.9 L1462.5,716.5 L1463.0,722.7 L1463.5,716.4 L1464.0,723.6 L1464.5,716.4 L1465.0,723.1 L1465.5,717.0 L1466.0,723.4 L1466.5,716.8 L1467.0,723.1 L1467.5,717.0 L1468.0,723.2 L1468.5,716.6 L1469.0,723.6 L1469.5,716.3 L1470.0,722.8 L1470.5,717.0 L1471.0,723.2 L1471.5,716.7 L1472.0,723.1 L1472.5,717.1 L1473.0,722.8 L1473.5,717.0 L1474.0,723.2 L1474.5,716.2 L1475.0,723.7 L1475.5,716.4 L1476.0,723.8 L1476.5,716.2 L1477.0,723.4 L1477.5,716.4 L1478.0,722.7 L1478.5,716.6 L1479.0,723.4 L1479.5,717.0 L1480.0,723.3 L1480.5,716.3 L1481.0,723.2 L1481.5,716.6 L1482.0,723.0 L1482.5,716.9 L1483.0,723.7 L1483.5,717.3 L1484.0,722.9 L1484.5,716.6 L1485.0,723.2 L1485.5,717.2 L1486.0,723.4 L1486.5,716.9 L1487.0,723.3 L1487.5,716.9 L1488.0,723.3 L1488.5,716.7 L1489.0,723.1 L1489.5,717.2 L1490.0,722.9 L1490.5,716.3 L1491.0,723.3 L1491.5,717.2 L1492.0,723.6 L1492.5,717.1 L1493.0,722.8 L1493.5,716.7 L1494.0,722.9 L1494.5,716.8 L1495.0,723.3 L1495.5,717.1 L1496.0,723.3 L1496.5,717.2 L1497.0,723.2 L1497.5,716.7 L1498.0,722.8 L1498.5,716.9 L1499.0,722.7 L1499.5,716.8 L1500.0,723.6 L1500.5,716.7 L1501.0,723.5 L1501.5,716.5 L1502.0,722.8 L1502.5,716.2 L1503.0,723.5 L1503.5,717.2 L1504.0,723.6 L1504.5,716.9 L1505.0,722.9 L1505.5,716.2 L1506.0,723.3 L1506.5,716.5 L1507.0,722.8 L1507.5,716.5 L1508.0,722.7 L1508.5,717.1 L1509.0,723.1 L1509.5,717.3 L1510.0,723.3 L1510.5,717.1 L1511.0,723.0 L1511.5,716.5 L1512.0,723.1 L1512.5,716.3 L1513.0,723.4 L1513.5,716.3 L1514.0,723.3 L1514.5,716.3 L1515.0,723.7 L1515.5,717.1 L1516.0,723.5 L1516.5,717.0 L1517.0,723.5 L1517.5,716.6 L1518.0,723.6 L1518.5,717.2 L1519.0,723.1 L1519.5,716.5 L1520.0,723.7 L1520.5,716.5 L1521.0,722.7 L1521.5,716.7 L1522.0,722.8 L1522.5,716.7 L1523.0,723.6 L1523.5,717.2 L1524.0,723.7 L1524.5,716.6 L1525.0,723.0 L1525.5,717.1 L1526.0,723.2 L1526.5,716.4 L1527.0,723.3 L1527.5,717.2 L1528.0,722.7 L1528.5,717.2 L1529.0,723.6 L1529.5,717.1 L1530.0,723.3 L1530.5,717.0 L1531.0,723.4 L1531.5,716.9 L1532.0,722.8 L1532.5,716.3 L1533.0,723.3 L1533.5,716.6 L1534.0,723.6 L1534.5,716.3 L1535.0,722.7 L1535.5,716.9 L1536.0,722.8 L1536.5,716.8 L1537.0,723.7 L1537.5,716.4 L1538.0,722.7 L1538.5,717.1 L1539.0,723.6 L1539.5,716.6 L1540.0,723.1 L1540.5,716.8 L1541.0,722.8 L1541.5,716.4 L1542.0,723.1 L1542.5,716.3 L1543.0,723.4 L1543.5,717.3 L1544.0,723.0 L1544.5,717.1 L1545.0,723.7 L1545.5,716.7 L1546.0,722.7 L1546.5,717.1 L1547.0,723.1 L1547.5,716.8 L1548.0,723.3 L1548.5,716.9 L1549.0,723.1 L1549.5,717.3 L1550.0,723.3 L1550.5,717.0 L1551.0,722.7 L1551.5,716.8 L1552.0,723.8 L1552.5,717.3 L1553.0,722.8 L1553.5,716.6 L1554.0,723.0 L1554.5,717.0 L1555.0,723.2 L1555.5,717.0 L1556.0,723.3 L1556.5,716.7 L1557.0,723.8 L1557.5,716.2 L1558.0,722.7 L1558.5,716.7 L1559.0,723.5 L1559.5,716.3 L1560.0,723.5 L1560.5,716.6 L1561.0,723.4 L1561.5,716.9 L1562.0,723.0 L1562.5,716.4 L1563.0,723.7 L1563.5,716.3 L1564.0,723.4 L1564.5,717.0 L1565.0,723.5 L1565.5,716.5 L1566.0,723.2 L1566.5,716.6 L1567.0,723.1 L1567.5,716.7 L1568.0,723.1 L1568.5,717.3 L1569.0,723.0 L1569.5,717.0 L1570.0,723.8 L1570.5,716.8 L1571.0,723.1 L1571.5,717.1 L1572.0,722.9 L1572.5,716.9 L1573.0,722.8 L1573.5,717.3 L1574.0,723.7 L1574.5,716.8 L1575.0,723.2 L1575.5,716.7 L1576.0,723.0 L1576.5,717.1 L1577.0,722.7 L1577.5,717.0 L1578.0,723.0 L1578.5,716.5 L1579.0,723.3 L1579.5,716.3 L1580.0,723.0 L1580.5,716.3 L1581.0,723.3 L1581.5,717.2 L1582.0,722.9 L1582.5,716.7 L1583.0,723.8 L1583.5,716.9 L1584.0,723.5 L1584.5,716.9 L1585.0,723.6 L1585.5,717.3 L1586.0,723.2 L1586.5,716.3 L1587.0,723.0 L1587.5,717.0 L1588.0,722.7 L1588.5,717.2 L1589.0,723.0 L1589.5,716.5 L1590.0,722.9 L1590.5,716.9 L1591.0,722.9 L1591.5,716.7 L1592.0,723.6 L1592.5,716.6 L1593.0,722.9 L1593.5,716.5 L1594.0,723.8 L1594.5,716.7 L1595.0,722.8 L1595.5,716.4 L1596.0,723.7 L1596.5,717.0 L1597.0,722.8 L1597.5,717.1 L1598.0,723.3 L1598.5,716.3 L1599.0,723.4 L1599.5,716.3 L1600.0,722.9 L1600.5,717.0 L1601.0,723.5 L1601.5,716.6 L1602.0,723.1 L1602.5,716.6 L1603.0,723.0 L1603.5,717.3 L1604.0,723.1 L1604.5,717.3 L1605.0,723.4 L1605.5,717.0 L1606.0,723.2 L1606.5,716.7 L1607.0,723.0 L1607.5,716.8 L1608.0,722.7 L1608.5,716.3 L1609.0,723.3 L1609.5,716.2 L1610.0,722.7 L1610.5,716.6 L1611.0,723.5 L1611.5,717.0 L1612.0,722.8 L1612.5,717.2 L1613.0,722.8 L1613.5,716.5 L1614.0,722.8 L1614.5,716.4 L1615.0,723.1 L1615.5,716.7 L1616.0,723.3 L1616.5,716.7 L1617.0,723.4 L1617.5,716.7 L1618.0,723.0 L1618.5,716.5 L1619.0,723.0 L1619.5,716.5 L1620.0,723.5 L1620.5,716.5 L1621.0,723.0 L1621.5,716.5 L1622.0,723.8 L1622.5,716.8 L1623.0,723.0 L1623.5,716.7 L1624.0,723.7 L1624.5,717.2 L1625.0,722.7 L1625.5,716.8 L1626.0,723.4 L1626.5,716.5 L1627.0,723.1 L1627.5,716.2 L1628.0,722.9 L1628.5,716.5 L1629.0,722.8 L1629.5,717.3 L1630.0,722.8 L1630.5,717.3 L1631.0,723.2 L1631.5,716.7 L1632.0,722.9 L1632.5,716.3 L1633.0,723.1 L1633.5,717.2 L1634.0,722.9 L1634.5,716.5 L1635.0,723.7 L1635.5,717.2 L1636.0,722.7 L1636.5,716.5 L1637.0,722.9 L1637.5,716.2 L1638.0,723.2 L1638.5,716.6 L1639.0,723.1 L1639.5,716.4 L1640.0,723.2 L1640.5,717.0 L1641.0,723.7 L1641.5,717.2 L1642.0,723.5 L1642.5,717.3 L1643.0,723.4 L1643.5,716.9 L1644.0,723.6 L1644.5,717.3 L1645.0,723.3 L1645.5,716.9 L1646.0,723.7 L1646.5,716.3 L1647.0,723.4 L1647.5,717.1 L1648.0,722.9 L1648.5,717.0 L1649.0,723.2 L1649.5,717.1 L1650.0,722.9 L1650.5,716.5 L1651.0,723.4 L1651.5,717.0 L1652.0,723.8 L1652.5,717.1 L1653.0,723.3 L1653.5,717.2 L1654.0,723.6 L1654.5,716.3 L1655.0,723.0 L1655.5,716.5 L1656.0,723.6 L1656.5,717.0 L1657.0,723.0 L1657.5,716.8 L1658.0,723.7 L1658.5,717.2 L1659.0,723.4 L1659.5,716.7 L1660.0,723.2 L1660.5,716.7 L1661.0,723.7 L1661.5,717.1 L1662.0,723.7 L1662.5,716.9 L1663.0,723.5 L1663.5,716.4 L1664.0,722.9 L1664.5,716.4 L1665.0,723.8 L1665.5,717.0 L1666.0,722.7 L1666.5,717.2 L1667.0,723.8 L1667.5,717.3 L1668.0,723.7 L1668.5,717.2 L1669.0,723.5 L1669.5,717.2 L1670.0,722.9 L1670.5,716.6 L1671.0,722.8 L1671.5,717.0 L1672.0,723.7 L1672.5,716.5 L1673.0,723.7 L1673.5,716.2 L1674.0,722.7 L1674.5,717.1 L1675.0,723.6 L1675.5,716.6 L1676.0,722.7 L1676.5,716.8 L1677.0,722.9 L1677.5,716.8 L1678.0,722.8 L1678.5,717.3 L1679.0,723.8 L1679.5,717.0 L1680.0,723.7 L1680.5,717.2 L1681.0,723.2 L1681.5,717.2 L1682.0,723.1 L1682.5,717.1 L1683.0,723.4 L1683.5,717.2 L1684.0,723.5 L1684.5,716.8 L1685.0,722.8 L1685.5,716.9 L1686.0,723.2 L1686.5,716.3 L1687.0,723.1 L1687.5,717.1 L1688.0,723.8 L1688.5,716.3 L1689.0,723.5 L1689.5,717.0 L1690.0,722.9 L1690.5,717.0 L1691.0,722.7 L1691.5,717.3 L1692.0,723.2 L1692.5,716.9 L1693.0,723.3 L1693.5,716.9 L1694.0,722.7 L1694.5,716.6 L1695.0,723.4 L1695.5,716.7 L1696.0,723.3 L1696.5,716.6 L1697.0,723.8 L1697.5,716.3 L1698.0,723.5 L1698.5,716.9 L1699.0,723.0 L1699.5,716.9 L1700.0,723.8 L1700.5,716.9 L1701.0,723.1 L1701.5,716.9 L1702.0,722.8 L1702.5,716.2 L1703.0,722.7 L1703.5,716.6 L1704.0,723.7 L1704.5,717.0 L1705.0,723.4 L1705.5,716.9 L1706.0,722.9 L1706.5,717.1 L1707.0,722.8 L1707.5,716.4 L1708.0,723.6 L1708.5,716.3 L1709.0,722.7 L1709.5,716.5 L1710.0,723.0 L1710.5,716.6 L1711.0,723.3 L1711.5,717.0 L1712.0,723.8 L1712.5,717.3 L1713.0,723.5 L1713.5,716.4 L1714.0,723.2 L1714.5,716.7 L1715.0,723.8 L1715.5,717.1 L1716.0,723.4 L1716.5,716.5 L1717.0,723.1 L1717.5,716.5 L1718.0,723.1 L1718.5,716.7 L1719.0,723.4 L1719.5,716.6 L1720.0,723.0 L1720.5,716.6 L1721.0,723.3 L1721.5,717.1 L1722.0,723.4 L1722.5,717.0 L1723.0,723.7 L1723.5,716.8 L1724.0,723.5 L1724.5,716.7 L1725.0,723.2 L1725.5,717.1 L1726.0,722.8 L1726.5,716.3 L1727.0,723.3 L1727.5,716.7 L1728.0,723.3 L1728.5,716.4 L1729.0,722.9 L1729.5,717.1 L1730.0,723.6 L1730.5,716.8 L1731.0,723.4 L1731.5,716.4 L1732.0,723.7 L1732.5,716.4 L1733.0,722.7 L1733.5,716.9 L1734.0,723.6 L1734.5,716.4 L1735.0,722.8 L1735.5,717.2 L1736.0,722.9 L1736.5,717.2 L1737.0,723.1 L1737.5,716.4 L1738.0,723.3 L1738.5,716.8 L1739.0,722.8 L1739.5,716.9 L1740.0,723.8 L1740.5,716.5 L1741.0,723.1 L1741.5,716.6 L1742.0,723.4 L1742.5,716.2 L1743.0,722.5 L1743.5,716.2 L1744.0,722.7 L1744.5,716.3 L1745.0,722.4 L1745.5,715.8 L1746.0,721.2 L1746.5,714.4 L1747.0,719.5 L1747.5,713.3 L1748.0,718.8 L1748.5,713.4 L1749.0,719.7 L1749.5,714.0 L1750.0,721.1 L1750.5,715.8 L1751.0,722.4 L1751.5,715.9 L1752.0,722.4 L1752.5,716.3 L1753.0,723.3 L1753.5,716.9 L1754.0,722.9 L1754.5,716.3 L1755.0,723.3 L1755.5,716.9 L1756.0,722.7 L1756.5,716.8 L1757.0,723.1 L1757.5,716.5 L1758.0,723.0 L1758.5,716.9 L1759.0,723.4 L1759.5,716.4 L1760.0,723.1 L1760.5,716.9 L1761.0,723.3 L1761.5,716.3 L1762.0,722.9 L1762.5,716.2 L1763.0,723.5 L1763.5,716.9 L1764.0,723.4 L1764.5,717.0 L1765.0,722.7 L1765.5,716.5 L1766.0,723.1 L1766.5,716.7 L1767.0,723.2 L1767.5,716.3 L1768.0,723.5 L1768.5,717.3 L1769.0,723.3 L1769.5,716.8 L1770.0,723.2 L1770.5,716.4 L1771.0,723.1 L1771.5,716.8 L1772.0,723.7 L1772.5,716.8 L1773.0,723.2 L1773.5,716.8 L1774.0,723.6 L1774.5,716.6 L1775.0,723.5 L1775.5,716.9 L1776.0,722.7 L1776.5,716.6 L1777.0,723.3 L1777.5,716.5 L1778.0,723.5 L1778.5,717.2 L1779.0,722.9 L1779.5,717.3 L1780.0,723.6 L1780.5,717.2 L1781.0,722.8 L1781.5,716.5 L1782.0,723.3 L1782.5,717.3 L1783.0,723.4 L1783.5,716.5 L1784.0,723.2 L1784.5,717.3 L1785.0,723.4 L1785.5,716.9 L1786.0,723.3 L1786.5,716.2 L1787.0,723.6 L1787.5,716.3 L1788.0,722.8 L1788.5,717.0 L1789.0,723.3 L1789.5,717.3 L1790.0,723.8 L1790.5,717.0 L1791.0,723.0 L1791.5,717.0 L1792.0,723.0 L1792.5,716.4 L1793.0,723.3 L1793.5,716.8 L1794.0,723.1 L1794.5,717.3 L1795.0,723.0 L1795.5,716.4 L1796.0,723.6 L1796.5,716.4 L1797.0,723.0 L1797.5,717.1 L1798.0,722.7 L1798.5,716.7 L1799.0,723.1 L1799.5,716.8 L1800.0,723.2 L1800.5,716.7 L1801.0,723.1 L1801.5,716.4 L1802.0,722.9 L1802.5,716.3 L1803.0,723.3 L1803.5,717.3 L1804.0,723.0 L1804.5,716.7 L1805.0,723.1 L1805.5,716.7 L1806.0,723.0 L1806.5,717.0 L1807.0,723.6 L1807.5,717.0 L1808.0,723.5 L1808.5,716.4 L1809.0,723.3 L1809.5,716.8 L1810.0,723.7 L1810.5,716.8 L1811.0,723.7 L1811.5,717.3 L1812.0,723.2 L1812.5,716.6 L1813.0,722.7 L1813.5,716.4 L1814.0,722.7 L1814.5,716.7 L1815.0,722.9 L1815.5,716.3 L1816.0,723.3 L1816.5,716.4 L1817.0,723.2 L1817.5,716.6 L1818.0,723.4 L1818.5,717.0 L1819.0,722.9 L1819.5,716.4 L1820.0,722.8 L1820.5,716.3 L1821.0,722.9 L1821.5,717.2 L1822.0,722.8 L1822.5,716.4 L1823.0,723.7 L1823.5,716.9 L1824.0,723.4 L1824.5,717.0 L1825.0,723.7 L1825.5,716.6 L1826.0,722.8 L1826.5,717.3 L1827.0,723.5 L1827.5,717.3 L1828.0,723.6 L1828.5,717.0 L1829.0,722.9 L1829.5,716.7 L1830.0,723.0 L1830.5,716.7 L1831.0,722.8 L1831.5,716.3 L1832.0,723.0 L1832.5,716.4 L1833.0,722.8 L1833.5,716.4 L1834.0,723.8 L1834.5,716.9 L1835.0,722.7 L1835.5,716.9 L1836.0,723.4 L1836.5,717.1 L1837.0,723.3 L1837.5,717.2 L1838.0,723.2 L1838.5,716.5 L1839.0,723.2 L1839.5,716.6 L1840.0,722.8 L1840.5,716.4 L1841.0,722.8 L1841.5,716.3 L1842.0,723.8 L1842.5,716.3 L1843.0,723.3 L1843.5,717.0 L1844.0,723.1 L1844.5,716.5 L1845.0,723.2 L1845.5,716.3 L1846.0,722.8 L1846.5,716.8 L1847.0,723.6 L1847.5,716.7 L1848.0,723.3 L1848.5,717.2 L1849.0,722.8 L1849.5,717.0 L1850.0,723.7 L1850.5,716.4 L1851.0,722.9 L1851.5,716.3 L1852.0,722.7 L1852.5,716.7 L1853.0,723.8 L1853.5,716.9 L1854.0,723.7 L1854.5,716.6 L1855.0,722.7 L1855.5,717.0 L1856.0,723.2 L1856.5,717.1 L1857.0,723.5 L1857.5,717.1 L1858.0,723.6 L1858.5,717.0 L1859.0,722.7 L1859.5,716.7 L1860.0,722.8 L1860.5,716.7 L1861.0,723.6 L1861.5,716.7 L1862.0,723.2 L1862.5,717.3 L1863.0,723.2 L1863.5,717.2 L1864.0,723.4 L1864.5,717.2 L1865.0,723.3 L1865.5,716.9 L1866.0,723.1 L1866.5,716.6 L1867.0,722.8 L1867.5,717.1 L1868.0,723.7 L1868.5,717.0 L1869.0,723.6 L1869.5,716.3 L1870.0,723.2 L1870.5,717.2 L1871.0,722.8 L1871.5,716.3 L1872.0,722.8 L1872.5,716.8 L1873.0,723.3 L1873.5,717.2 L1874.0,723.2 L1874.5,717.2 L1875.0,723.3 L1875.5,716.8 L1876.0,723.1 L1876.5,717.1 L1877.0,723.1 L1877.5,717.1 L1878.0,722.8 L1878.5,717.1 L1879.0,723.7 L1879.5,716.8 L1880.0,723.7 L1880.5,717.3 L1881.0,723.7 L1881.5,716.8 L1882.0,723.6 L1882.5,716.7 L1883.0,723.4 L1883.5,717.1 L1884.0,723.5 L1884.5,717.2 L1885.0,723.0 L1885.5,717.3 L1886.0,723.1 L1886.5,716.7 L1887.0,723.0 L1887.5,716.3 L1888.0,722.8 L1888.5,716.7 L1889.0,722.9 L1889.5,716.7 L1890.0,723.6 L1890.5,716.5 L1891.0,722.7 L1891.5,717.1 L1892.0,723.3 L1892.5,716.2 L1893.0,722.7 L1893.5,716.6 L1894.0,723.4 L1894.5,716.4 L1895.0,723.0 L1895.5,716.4 L1896.0,723.2 L1896.5,716.3 L1897.0,722.7 L1897.5,716.3 L1898.0,723.1 L1898.5,716.9 L1899.0,722.8 L1899.5,717.1 L1900.0,723.5 L1900.5,716.6 L1901.0,722.8 L1901.5,716.9 L1902.0,722.8 L1902.5,717.1 L1903.0,722.9 L1903.5,717.0 L1904.0,723.8 L1904.5,716.2 L1905.0,723.6 L1905.5,716.8 L1906.0,723.2 L1906.5,716.5 L1907.0,723.7 L1907.5,716.5 L1908.0,723.4 L1908.5,717.1 L1909.0,723.4 L1909.5,716.4 L1910.0,723.6 L1910.5,717.2 L1911.0,723.5 L1911.5,716.9 L1912.0,722.8 L1912.5,716.2 L1913.0,723.4 L1913.5,716.5 L1914.0,722.8 L1914.5,716.4 L1915.0,723.7 L1915.5,716.3 L1916.0,723.5 L1916.5,716.4 L1917.0,723.6 L1917.5,716.7 L1918.0,723.2 L1918.5,716.4 L1919.0,723.6 L1919.5,716.3 L1920.0,723.0 L1920.5,716.2 L1921.0,723.3 L1921.5,716.3 L1922.0,722.8 L1922.5,716.2 L1923.0,723.6 L1923.5,717.1 L1924.0,723.6 L1924.5,717.1 L1925.0,722.9 L1925.5,716.8 L1926.0,722.9 L1926.5,716.8 L1927.0,723.7 L1927.5,716.6 L1928.0,723.5 L1928.5,716.9 L1929.0,723.6 L1929.5,716.4 L1930.0,723.4 L1930.5,716.3 L1931.0,723.6 L1931.5,716.9 L1932.0,722.8 L1932.5,716.6 L1933.0,723.6 L1933.5,717.0 L1934.0,723.3 L1934.5,716.4 L1935.0,723.6 L1935.5,717.3 L1936.0,723.2 L1936.5,717.3 L1937.0,722.8 L1937.5,716.4 L1938.0,723.1 L1938.5,716.7 L1939.0,723.2 L1939.5,717.0 L1940.0,722.9 L1940.5,716.9 L1941.0,723.6 L1941.5,716.6 L1942.0,723.0 L1942.5,717.2 L1943.0,723.0 L1943.5,716.5 L1944.0,723.2 L1944.5,716.6 L1945.0,723.6 L1945.5,717.2 L1946.0,723.4 L1946.5,717.3 L1947.0,723.6 L1947.5,717.1 L1948.0,723.0 L1948.5,716.2 L1949.0,723.1 L1949.5,717.1 L1950.0,723.7 L1950.5,716.6 L1951.0,723.7 L1951.5,716.9 L1952.0,723.2 L1952.5,716.3 L1953.0,723.2 L1953.5,716.2 L1954.0,722.9 L1954.5,716.4 L1955.0,722.8 L1955.5,716.7 L1956.0,722.7 L1956.5,717.1 L1957.0,723.7 L1957.5,716.8 L1958.0,723.6 L1958.5,717.1 L1959.0,723.1 L1959.5,717.2 L1960.0,723.3 L1960.5,716.4 L1961.0,723.2 L1961.5,716.9 L1962.0,723.7 L1962.5,716.3 L1963.0,723.4 L1963.5,717.3 L1964.0,723.4 L1964.5,716.8 L1965.0,723.8 L1965.5,716.9 L1966.0,723.4 L1966.5,716.6 L1967.0,723.1 L1967.5,716.7 L1968.0,723.4 L1968.5,716.3 L1969.0,723.2 L1969.5,716.9 L1970.0,723.8 L1970.5,717.3 L1971.0,723.6 L1971.5,716.6 L1972.0,723.3 L1972.5,716.8 L1973.0,723.5 L1973.5,716.3 L1974.0,723.5 L1974.5,716.5 L1975.0,722.7 L1975.5,717.0 L1976.0,722.8 L1976.5,716.3 L1977.0,723.7 L1977.5,717.2 L1978.0,723.3 L1978.5,716.7 L1979.0,722.7 L1979.5,716.9 L1980.0,723.5 L1980.5,716.6 L1981.0,723.0 L1981.5,716.5 L1982.0,723.0 L1982.5,716.7 L1983.0,723.1 L1983.5,716.2 L1984.0,723.4 L1984.5,716.4 L1985.0,723.4 L1985.5,716.9 L1986.0,723.8 L1986.5,716.5 L1987.0,723.4 L1987.5,717.0 L1988.0,722.8 L1988.5,716.7 L1989.0,723.6 L1989.5,716.4 L1990.0,723.1 L1990.5,717.2 L1991.0,723.2 L1991.5,716.3 L1992.0,722.8 L1992.5,716.5 L1993.0,722.9 L1993.5,717.0 L1994.0,722.7 L1994.5,717.0 L1995.0,723.1 L1995.5,716.2 L1996.0,723.8 L1996.5,717.1 L1997.0,723.0 L1997.5,716.3 L1998.0,722.9 L1998.5,717.0 L1999.0,723.2 L1999.5,717.2 L2000.0,723.0 L2000.5,716.9 L2001.0,723.1 L2001.5,716.2 L2002.0,723.0 L2002.5,717.1 L2003.0,723.7 L2003.5,716.8 L2004.0,723.6 L2004.5,716.6 L2005.0,723.5 L2005.5,717.0 L2006.0,722.8 L2006.5,716.5 L2007.0,723.2 L2007.5,716.7 L2008.0,723.4 L2008.5,716.5 L2009.0,723.0 L2009.5,716.9 L2010.0,723.7 L2010.5,716.7 L2011.0,723.0 L2011.5,716.6 L2012.0,723.0 L2012.5,716.5 L2013.0,722.7 L2013.5,716.4 L2014.0,723.3 L2014.5,716.9 L2015.0,723.7 L2015.5,717.0 L2016.0,722.9 L2016.5,717.3 L2017.0,723.3 L2017.5,716.5 L2018.0,723.4 L2018.5,716.9 L2019.0,723.6 L2019.5,717.2 L2020.0,723.0 L2020.5,716.6 L2021.0,723.8 L2021.5,716.6 L2022.0,723.4 L2022.5,716.5 L2023.0,723.1 L2023.5,716.3 L2024.0,723.5 L2024.5,717.0 L2025.0,723.1 L2025.5,716.4 L2026.0,723.1 L2026.5,717.1 L2027.0,723.7 L2027.5,716.7 L2028.0,723.3 L2028.5,716.6 L2029.0,723.7 L2029.5,717.2 L2030.0,723.0 L2030.5,717.3 L2031.0,723.1 L2031.5,716.8 L2032.0,723.6 L2032.5,716.6 L2033.0,723.3 L2033.5,716.9 L2034.0,723.3 L2034.5,717.0 L2035.0,723.6 L2035.5,716.4 L2036.0,723.6 L2036.5,717.2 L2037.0,723.4 L2037.5,716.5 L2038.0,723.2 L2038.5,716.3 L2039.0,723.7 L2039.5,716.5 L2040.0,723.6 L2040.5,716.6 L2041.0,723.7 L2041.5,717.2 L2042.0,723.5 L2042.5,716.5 L2043.0,723.4 L2043.5,717.0 L2044.0,722.7 L2044.5,716.7 L2045.0,723.6 L2045.5,717.0 L2046.0,722.9 L2046.5,717.1 L2047.0,722.8 L2047.5,716.6 L2048.0,723.8 L2048.5,716.4 L2049.0,723.1 L2049.5,716.5 L2050.0,722.7 L2050.5,716.4 L2051.0,723.0 L2051.5,717.3 L2052.0,723.4 L2052.5,717.2 L2053.0,723.0 L2053.5,717.3 L2054.0,723.2 L2054.5,716.7 L2055.0,723.6 L2055.5,717.3 L2056.0,723.6 L2056.5,717.2 L2057.0,722.9 L2057.5,716.6 L2058.0,723.0 L2058.5,717.0 L2059.0,723.3 L2059.5,717.1 L2060.0,723.6 L2060.5,717.1 L2061.0,723.6 L2061.5,716.4 L2062.0,723.3 L2062.5,717.3 L2063.0,723.5 L2063.5,717.3 L2064.0,723.2 L2064.5,716.9 L2065.0,722.7 L2065.5,716.6 L2066.0,723.5 L2066.5,716.7 L2067.0,723.1 L2067.5,716.8 L2068.0,723.3 L2068.5,717.1 L2069.0,723.6 L2069.5,716.2 L2070.0,723.6 L2070.5,716.2 L2071.0,723.0 L2071.5,716.2 L2072.0,722.7 L2072.5,716.8 L2073.0,722.8 L2073.5,716.8 L2074.0,723.4 L2074.5,716.5 L2075.0,723.2 L2075.5,717.0 L2076.0,722.9 L2076.5,716.9 L2077.0,723.0 L2077.5,717.1 L2078.0,723.5 L2078.5,716.8 L2079.0,723.2 L2079.5,717.1 L2080.0,723.5 L2080.5,717.1 L2081.0,723.0 L2081.5,716.7 L2082.0,723.5 L2082.5,716.2 L2083.0,723.5 L2083.5,716.3 L2084.0,723.7 L2084.5,716.5 L2085.0,723.5 L2085.5,717.3 L2086.0,722.9 L2086.5,717.3 L2087.0,723.6 L2087.5,716.5 L2088.0,723.4 L2088.5,717.0 L2089.0,723.1 L2089.5,717.2 L2090.0,723.4 L2090.5,716.2 L2091.0,723.0 L2091.5,717.3 L2092.0,722.9 L2092.5,716.9 L2093.0,723.7 L2093.5,716.4 L2094.0,723.2 L2094.5,717.2 L2095.0,722.8 L2095.5,717.2 L2096.0,723.5 L2096.5,716.8 L2097.0,723.8 L2097.5,716.3 L2098.0,723.6 L2098.5,716.8 L2099.0,723.6 L2099.5,717.2 L2100.0,722.8 L2100.5,716.7 L2101.0,723.2 L2101.5,717.1 L2102.0,722.9 L2102.5,717.3 L2103.0,723.7 L2103.5,716.5 L2104.0,723.7 L2104.5,716.2 L2105.0,723.2 L2105.5,716.5 L2106.0,723.1 L2106.5,716.4 L2107.0,723.6 L2107.5,717.2 L2108.0,722.7 L2108.5,717.1 L2109.0,723.3 L2109.5,716.9 L2110.0,722.7 L2110.5,716.4 L2111.0,723.6 L2111.5,716.8 L2112.0,722.7 L2112.5,716.3 L2113.0,723.3 L2113.5,717.3 L2114.0,723.0 L2114.5,716.6 L2115.0,723.7 L2115.5,716.8 L2116.0,723.4" fill="none" stroke="#f00" stroke-width="7" stroke-linejoin="round"/><path d="M211.0,715.5 L213.5,719.5 L288.0,720.0 L291.0,712.0 L293.5,700.0 L295.5,688.0 L297.3,680.0 L299.5,686.0 L302.0,695.0 L305.0,703.0 L309.0,709.0 L314.0,714.0 L322.0,717.5 L336.0,719.0 L339.0,715.0 L341.5,711.0 L345.0,710.0 L348.0,709.5 L352.0,711.0 L357.5,710.0 L361.0,711.0 L364.0,715.0 L368.0,718.5 L374.0,719.5 L430.0,719.5 L435.0,716.0 L439.5,707.0 L442.5,697.0 L444.5,680.0 L446.0,655.0 L447.3,625.0 L448.3,592.0 L449.8,574.0 L451.5,590.0 L453.5,617.0 L455.5,645.0 L457.5,664.0 L460.0,679.0 L464.0,692.0 L469.0,702.5 L475.4,711.0 L483.0,716.0 L492.0,718.5 L502.0,719.5 L507.0,714.5 L513.4,708.5 L518.0,710.5 L523.0,711.0 L530.4,708.5 L534.0,713.0 L540.0,717.5 L548.0,719.0 L580.0,719.0 L585.0,715.0 L589.0,709.0 L592.5,700.0 L595.4,690.0 L597.8,672.0 L600.0,651.0 L602.0,630.0 L603.4,618.5 L605.3,630.0 L608.5,651.0 L612.0,672.0 L616.0,690.0 L621.0,704.0 L627.0,711.5 L635.0,715.5 L645.0,718.5 L660.0,719.5 L710.0,719.0 L716.0,716.5 L724.0,715.5 L732.0,716.5 L740.0,719.0 L805.0,720.0 L812.0,719.5 L817.0,717.0 L821.0,712.0 L824.0,704.0 L826.0,692.0 L827.5,670.0 L829.3,620.0 L831.0,570.0 L832.5,520.0 L834.0,485.0 L835.5,466.0 L836.6,459.0 L838.5,470.0 L840.5,495.0 L842.5,515.0 L845.0,527.0 L847.0,500.0 L849.0,455.0 L851.6,433.0 L853.5,450.0 L855.5,485.0 L858.0,531.0 L860.5,572.0 L863.0,605.0 L866.0,635.0 L869.5,664.0 L873.5,684.0 L878.5,697.0 L884.0,706.0 L891.0,712.0 L900.0,716.5 L915.0,719.5 L1215.0,720.0 L1222.0,719.0 L1225.0,716.0 L1227.5,708.0 L1229.5,690.0 L1231.0,650.0 L1232.5,590.0 L1233.6,530.0 L1234.5,470.0 L1235.3,410.0 L1236.3,365.0 L1238.6,331.0 L1240.0,345.0 L1241.5,380.0 L1243.3,420.0 L1244.8,444.5 L1246.5,420.0 L1247.5,380.0 L1249.0,345.0 L1250.5,310.0 L1253.6,268.0 L1256.5,300.0 L1257.8,345.0 L1259.5,385.0 L1262.0,440.0 L1264.8,510.0 L1267.5,560.0 L1270.5,600.0 L1274.0,640.0 L1278.0,668.0 L1283.0,681.0 L1288.0,686.0 L1293.0,689.0 L1297.0,694.0 L1302.0,703.0 L1308.0,710.0 L1316.0,715.0 L1328.0,718.5 L1345.0,720.0 L1740.0,720.0 L1745.0,719.5 L1748.0,715.5 L1751.0,719.5 L1756.0,720.0" fill="none" stroke="#f00" stroke-width="7" stroke-linejoin="round"/><path d="M205.5,1412.0 L206.0,1416.0 L206.5,1411.5 L207.0,1416.1 L207.5,1412.1 L208.0,1416.3 L208.5,1412.1 L209.0,1416.0 L209.5,1411.8 L210.0,1416.3 L210.5,1411.7 L211.0,1416.4 L211.5,1411.8 L212.0,1415.9 L212.5,1411.6 L213.0,1415.9 L213.5,1411.8 L214.0,1416.1 L214.5,1411.7 L215.0,1416.4 L215.5,1412.0 L216.0,1416.3 L216.5,1411.6 L217.0,1416.2 L217.5,1412.1 L218.0,1416.5 L218.5,1411.7 L219.0,1415.9 L219.5,1412.0 L220.0,1416.6 L220.5,1412.0 L221.0,1416.1 L221.5,1411.6 L222.0,1416.5 L222.5,1411.7 L223.0,1416.4 L223.5,1412.2 L224.0,1415.9 L224.5,1411.4 L225.0,1416.4 L225.5,1412.2 L226.0,1415.9 L226.5,1412.0 L227.0,1416.5 L227.5,1412.0 L228.0,1416.3 L228.5,1411.5 L229.0,1416.3 L229.5,1411.5 L230.0,1416.0 L230.5,1412.1 L231.0,1415.8 L231.5,1411.6 L232.0,1415.9 L232.5,1411.4 L233.0,1416.4 L233.5,1412.0 L234.0,1416.4 L234.5,1412.1 L235.0,1416.2 L235.5,1412.1 L236.0,1416.4 L236.5,1411.5 L237.0,1416.5 L237.5,1412.2 L238.0,1416.5 L238.5,1411.7 L239.0,1416.5 L239.5,1411.8 L240.0,1416.3 L240.5,1411.7 L241.0,1416.4 L241.5,1412.1 L242.0,1415.9 L242.5,1411.8 L243.0,1416.0 L243.5,1411.9 L244.0,1415.8 L244.5,1411.6 L245.0,1415.8 L245.5,1411.5 L246.0,1416.5 L246.5,1411.8 L247.0,1415.9 L247.5,1411.7 L248.0,1416.0 L248.5,1411.8 L249.0,1415.9 L249.5,1411.4 L250.0,1416.2 L250.5,1411.9 L251.0,1415.9 L251.5,1411.6 L252.0,1416.5 L252.5,1411.5 L253.0,1415.9 L253.5,1411.9 L254.0,1416.1 L254.5,1411.6 L255.0,1415.9 L255.5,1411.7 L256.0,1416.6 L256.5,1411.6 L257.0,1415.8 L257.5,1412.1 L258.0,1415.9 L258.5,1411.6 L259.0,1416.3 L259.5,1411.8 L260.0,1416.2 L260.5,1411.9 L261.0,1416.3 L261.5,1411.7 L262.0,1416.5 L262.5,1411.6 L263.0,1416.4 L263.5,1411.5 L264.0,1416.5 L264.5,1411.6 L265.0,1415.8 L265.5,1411.6 L266.0,1416.5 L266.5,1411.8 L267.0,1416.5 L267.5,1412.0 L268.0,1416.6 L268.5,1411.8 L269.0,1416.4 L269.5,1412.0 L270.0,1416.1 L270.5,1411.9 L271.0,1416.1 L271.5,1412.1 L272.0,1416.2 L272.5,1411.4 L273.0,1416.3 L273.5,1411.5 L274.0,1416.4 L274.5,1411.5 L275.0,1416.6 L275.5,1411.6 L276.0,1416.0 L276.5,1412.0 L277.0,1416.1 L277.5,1412.2 L278.0,1416.0 L278.5,1411.5 L279.0,1416.5 L279.5,1411.9 L280.0,1416.4 L280.5,1411.6 L281.0,1416.5 L281.5,1411.6 L282.0,1416.2 L282.5,1412.1 L283.0,1416.5 L283.5,1411.9 L284.0,1416.3 L284.5,1411.9 L285.0,1416.2 L285.5,1411.4 L286.0,1415.9 L286.5,1410.9 L287.0,1414.6 L287.5,1409.2 L288.0,1413.1 L288.5,1407.6 L289.0,1411.4 L289.5,1405.6 L290.0,1408.6 L290.5,1402.3 L291.0,1403.4 L291.5,1399.0 L292.0,1399.6 L292.5,1396.9 L293.0,1396.3 L293.5,1395.1 L294.0,1396.1 L294.5,1396.3 L295.0,1397.8 L295.5,1397.3 L296.0,1400.2 L296.5,1399.1 L297.0,1403.2 L297.5,1401.2 L298.0,1405.8 L298.5,1402.9 L299.0,1407.8 L299.5,1404.2 L300.0,1408.9 L300.5,1405.0 L301.0,1410.6 L301.5,1406.7 L302.0,1411.7 L302.5,1407.4 L303.0,1412.4 L303.5,1408.3 L304.0,1412.5 L304.5,1409.1 L305.0,1413.2 L305.5,1409.6 L306.0,1413.9 L306.5,1410.3 L307.0,1414.5 L307.5,1409.9 L308.0,1415.0 L308.5,1410.8 L309.0,1415.4 L309.5,1411.2 L310.0,1415.2 L310.5,1411.4 L311.0,1415.8 L311.5,1411.5 L312.0,1416.2 L312.5,1411.6 L313.0,1415.9 L313.5,1411.5 L314.0,1416.1 L314.5,1411.5 L315.0,1415.8 L315.5,1411.5 L316.0,1416.0 L316.5,1411.5 L317.0,1416.4 L317.5,1411.7 L318.0,1416.0 L318.5,1412.2 L319.0,1416.0 L319.5,1411.5 L320.0,1415.9 L320.5,1411.7 L321.0,1416.3 L321.5,1411.7 L322.0,1416.0 L322.5,1412.1 L323.0,1415.9 L323.5,1411.4 L324.0,1416.1 L324.5,1411.7 L325.0,1416.3 L325.5,1412.0 L326.0,1415.9 L326.5,1412.2 L327.0,1416.5 L327.5,1412.1 L328.0,1416.6 L328.5,1411.9 L329.0,1416.4 L329.5,1412.1 L330.0,1416.4 L330.5,1412.0 L331.0,1416.1 L331.5,1411.8 L332.0,1415.9 L332.5,1412.0 L333.0,1416.4 L333.5,1412.0 L334.0,1416.1 L334.5,1410.9 L335.0,1414.6 L335.5,1409.9 L336.0,1413.1 L336.5,1408.3 L337.0,1411.8 L337.5,1406.7 L338.0,1410.7 L338.5,1405.5 L339.0,1409.4 L339.5,1404.7 L340.0,1409.0 L340.5,1404.0 L341.0,1407.3 L341.5,1403.3 L342.0,1407.3 L342.5,1403.2 L343.0,1407.7 L343.5,1403.4 L344.0,1407.1 L344.5,1403.0 L345.0,1407.1 L345.5,1403.1 L346.0,1407.2 L346.5,1403.2 L347.0,1407.0 L347.5,1403.1 L348.0,1407.5 L348.5,1402.9 L349.0,1407.8 L349.5,1403.7 L350.0,1407.7 L350.5,1403.3 L351.0,1408.1 L351.5,1403.4 L352.0,1408.6 L352.5,1403.4 L353.0,1407.7 L353.5,1403.2 L354.0,1407.9 L354.5,1403.5 L355.0,1407.4 L355.5,1402.9 L356.0,1407.3 L356.5,1403.3 L357.0,1407.1 L357.5,1402.5 L358.0,1407.6 L358.5,1403.4 L359.0,1408.0 L359.5,1404.3 L360.0,1408.9 L360.5,1405.3 L361.0,1410.0 L361.5,1405.9 L362.0,1410.5 L362.5,1406.6 L363.0,1411.9 L363.5,1408.3 L364.0,1412.7 L364.5,1409.1 L365.0,1414.2 L365.5,1410.4 L366.0,1414.6 L366.5,1410.2 L367.0,1415.0 L367.5,1411.0 L368.0,1415.4 L368.5,1411.1 L369.0,1415.9 L369.5,1411.9 L370.0,1416.4 L370.5,1411.4 L371.0,1416.4 L371.5,1411.5 L372.0,1416.1 L372.5,1411.5 L373.0,1416.0 L373.5,1412.0 L374.0,1416.3 L374.5,1411.5 L375.0,1415.9 L375.5,1412.0 L376.0,1415.8 L376.5,1411.8 L377.0,1415.9 L377.5,1412.0 L378.0,1416.4 L378.5,1411.7 L379.0,1416.6 L379.5,1411.9 L380.0,1416.3 L380.5,1412.2 L381.0,1416.6 L381.5,1412.0 L382.0,1416.2 L382.5,1411.8 L383.0,1416.6 L383.5,1411.8 L384.0,1416.6 L384.5,1411.7 L385.0,1416.0 L385.5,1411.5 L386.0,1416.0 L386.5,1411.4 L387.0,1416.2 L387.5,1412.0 L388.0,1416.6 L388.5,1411.9 L389.0,1416.1 L389.5,1411.9 L390.0,1416.3 L390.5,1412.2 L391.0,1416.1 L391.5,1412.1 L392.0,1416.5 L392.5,1412.2 L393.0,1416.3 L393.5,1412.0 L394.0,1416.2 L394.5,1411.7 L395.0,1416.4 L395.5,1412.1 L396.0,1416.0 L396.5,1412.1 L397.0,1416.6 L397.5,1412.1 L398.0,1415.9 L398.5,1411.8 L399.0,1416.3 L399.5,1411.5 L400.0,1415.9 L400.5,1412.0 L401.0,1416.0 L401.5,1411.7 L402.0,1416.2 L402.5,1411.9 L403.0,1416.5 L403.5,1411.7 L404.0,1416.5 L404.5,1411.4 L405.0,1416.0 L405.5,1411.4 L406.0,1416.1 L406.5,1412.1 L407.0,1416.5 L407.5,1412.1 L408.0,1415.8 L408.5,1412.0 L409.0,1416.0 L409.5,1411.4 L410.0,1416.5 L410.5,1411.9 L411.0,1416.2 L411.5,1411.5 L412.0,1416.4 L412.5,1411.7 L413.0,1416.2 L413.5,1412.1 L414.0,1416.0 L414.5,1411.7 L415.0,1416.3 L415.5,1411.6 L416.0,1416.5 L416.5,1411.4 L417.0,1416.0 L417.5,1412.1 L418.0,1416.5 L418.5,1411.7 L419.0,1416.0 L419.5,1411.6 L420.0,1416.0 L420.5,1412.0 L421.0,1416.1 L421.5,1411.8 L422.0,1416.3 L422.5,1412.1 L423.0,1416.4 L423.5,1411.7 L424.0,1416.2 L424.5,1411.7 L425.0,1416.4 L425.5,1412.2 L426.0,1416.2 L426.5,1411.7 L427.0,1416.4 L427.5,1411.7 L428.0,1416.0 L428.5,1411.4 L429.0,1416.4 L429.5,1412.0 L430.0,1416.2 L430.5,1411.4 L431.0,1416.0 L431.5,1411.9 L432.0,1416.6 L432.5,1411.0 L433.0,1415.0 L433.5,1410.1 L434.0,1414.1 L434.5,1409.2 L435.0,1413.4 L435.5,1408.6 L436.0,1412.0 L436.5,1407.0 L437.0,1410.0 L437.5,1405.2 L438.0,1407.9 L438.5,1402.9 L439.0,1405.9 L439.5,1400.5 L440.0,1400.6 L440.5,1396.8 L441.0,1395.2 L441.5,1393.0 L442.0,1389.8 L442.5,1386.5 L443.0,1383.2 L443.5,1380.0 L444.0,1377.5 L444.5,1375.0 L445.0,1372.5 L445.5,1370.0 L446.0,1368.8 L446.5,1367.5 L447.0,1366.2 L447.5,1366.0 L448.0,1367.4 L448.5,1368.8 L449.0,1370.2 L449.5,1371.9 L450.0,1374.2 L450.5,1376.5 L451.0,1378.7 L451.5,1381.0 L452.0,1383.2 L452.5,1385.4 L453.0,1387.6 L453.5,1389.8 L454.0,1392.0 L454.5,1393.3 L455.0,1394.6 L455.5,1395.7 L456.0,1397.6 L456.5,1397.8 L457.0,1400.6 L457.5,1399.8 L458.0,1403.2 L458.5,1401.0 L459.0,1404.6 L459.5,1401.9 L460.0,1406.5 L460.5,1402.4 L461.0,1407.5 L461.5,1404.4 L462.0,1409.5 L462.5,1404.7 L463.0,1409.5 L463.5,1405.8 L464.0,1410.4 L464.5,1406.4 L465.0,1410.9 L465.5,1406.8 L466.0,1411.4 L466.5,1407.8 L467.0,1411.8 L467.5,1408.3 L468.0,1412.4 L468.5,1408.3 L469.0,1413.1 L469.5,1408.8 L470.0,1413.3 L470.5,1408.6 L471.0,1413.2 L471.5,1409.0 L472.0,1413.3 L472.5,1408.9 L473.0,1413.8 L473.5,1409.7 L474.0,1413.6 L474.5,1409.4 L475.0,1414.0 L475.5,1409.6 L476.0,1414.1 L476.5,1409.8 L477.0,1414.7 L477.5,1410.5 L478.0,1414.8 L478.5,1410.6 L479.0,1414.9 L479.5,1410.2 L480.0,1415.1 L480.5,1410.7 L481.0,1414.6 L481.5,1410.4 L482.0,1415.0 L482.5,1410.9 L483.0,1414.8 L483.5,1410.6 L484.0,1414.8 L484.5,1410.6 L485.0,1415.0 L485.5,1411.0 L486.0,1415.2 L486.5,1410.8 L487.0,1415.5 L487.5,1411.3 L488.0,1415.6 L488.5,1411.2 L489.0,1415.3 L489.5,1411.0 L490.0,1415.7 L490.5,1411.1 L491.0,1415.9 L491.5,1411.4 L492.0,1415.5 L492.5,1411.2 L493.0,1415.5 L493.5,1411.6 L494.0,1415.6 L494.5,1411.2 L495.0,1416.1 L495.5,1411.3 L496.0,1416.3 L496.5,1411.3 L497.0,1415.9 L497.5,1411.8 L498.0,1416.2 L498.5,1412.0 L499.0,1416.2 L499.5,1412.1 L500.0,1415.9 L500.5,1411.6 L501.0,1415.5 L501.5,1410.9 L502.0,1415.7 L502.5,1410.8 L503.0,1414.8 L503.5,1410.7 L504.0,1414.6 L504.5,1410.0 L505.0,1414.1 L505.5,1409.4 L506.0,1413.8 L506.5,1409.0 L507.0,1413.1 L507.5,1409.1 L508.0,1412.9 L508.5,1408.4 L509.0,1412.4 L509.5,1407.9 L510.0,1412.0 L510.5,1407.9 L511.0,1412.1 L511.5,1407.5 L512.0,1412.3 L512.5,1407.7 L513.0,1412.0 L513.5,1407.2 L514.0,1412.3 L514.5,1407.4 L515.0,1411.5 L515.5,1407.4 L516.0,1411.9 L516.5,1407.5 L517.0,1411.3 L517.5,1407.0 L518.0,1412.1 L518.5,1407.7 L519.0,1411.9 L519.5,1407.4 L520.0,1411.8 L520.5,1407.9 L521.0,1412.2 L521.5,1407.5 L522.0,1412.1 L522.5,1408.1 L523.0,1412.1 L523.5,1408.2 L524.0,1412.7 L524.5,1408.3 L525.0,1412.2 L525.5,1407.8 L526.0,1412.2 L526.5,1408.4 L527.0,1412.3 L527.5,1408.5 L528.0,1412.7 L528.5,1408.3 L529.0,1413.0 L529.5,1409.3 L530.0,1413.9 L530.5,1409.6 L531.0,1414.1 L531.5,1410.3 L532.0,1414.5 L532.5,1410.2 L533.0,1414.9 L533.5,1411.0 L534.0,1415.5 L534.5,1410.7 L535.0,1415.8 L535.5,1411.2 L536.0,1416.0 L536.5,1411.2 L537.0,1415.6 L537.5,1411.5 L538.0,1416.1 L538.5,1411.4 L539.0,1415.8 L539.5,1412.0 L540.0,1416.6 L540.5,1412.1 L541.0,1416.5 L541.5,1411.9 L542.0,1416.0 L542.5,1412.0 L543.0,1416.2 L543.5,1411.4 L544.0,1415.9 L544.5,1411.5 L545.0,1416.1 L545.5,1412.0 L546.0,1416.4 L546.5,1411.9 L547.0,1416.0 L547.5,1411.9 L548.0,1416.5 L548.5,1411.5 L549.0,1416.3 L549.5,1412.2 L550.0,1416.4 L550.5,1411.7 L551.0,1416.5 L551.5,1411.4 L552.0,1416.1 L552.5,1411.5 L553.0,1416.5 L553.5,1412.0 L554.0,1416.1 L554.5,1411.9 L555.0,1416.1 L555.5,1411.9 L556.0,1415.9 L556.5,1412.0 L557.0,1416.5 L557.5,1411.9 L558.0,1416.3 L558.5,1411.5 L559.0,1416.4 L559.5,1412.0 L560.0,1416.5 L560.5,1411.6 L561.0,1416.6 L561.5,1411.6 L562.0,1416.4 L562.5,1411.5 L563.0,1416.0 L563.5,1411.7 L564.0,1416.1 L564.5,1411.5 L565.0,1415.9 L565.5,1411.8 L566.0,1416.1 L566.5,1411.5 L567.0,1416.1 L567.5,1411.5 L568.0,1416.5 L568.5,1411.5 L569.0,1415.9 L569.5,1411.4 L570.0,1416.4 L570.5,1411.7 L571.0,1416.3 L571.5,1412.1 L572.0,1416.5 L572.5,1411.8 L573.0,1416.2 L573.5,1411.9 L574.0,1416.4 L574.5,1411.6 L575.0,1416.5 L575.5,1412.0 L576.0,1416.1 L576.5,1412.0 L577.0,1415.9 L577.5,1411.9 L578.0,1415.8 L578.5,1411.6 L579.0,1416.0 L579.5,1412.1 L580.0,1415.9 L580.5,1411.6 L581.0,1416.0 L581.5,1411.8 L582.0,1416.1 L582.5,1411.2 L583.0,1415.8 L583.5,1410.8 L584.0,1414.8 L584.5,1409.6 L585.0,1413.9 L585.5,1408.9 L586.0,1413.4 L586.5,1408.1 L587.0,1411.8 L587.5,1406.2 L588.0,1409.5 L588.5,1404.4 L589.0,1408.3 L589.5,1402.8 L590.0,1404.8 L590.5,1399.7 L591.0,1400.0 L591.5,1396.5 L592.0,1395.0 L592.5,1393.0 L593.0,1390.8 L593.5,1388.6 L594.0,1386.4 L594.5,1384.2 L595.0,1382.0 L595.5,1379.5 L596.0,1377.0 L596.5,1374.5 L597.0,1372.0 L597.5,1371.0 L598.0,1370.1 L598.5,1369.1 L599.0,1369.0 L599.5,1370.1 L600.0,1371.2 L600.5,1372.3 L601.0,1373.9 L601.5,1376.2 L602.0,1378.5 L602.5,1380.7 L603.0,1383.0 L603.5,1384.8 L604.0,1386.7 L604.5,1388.5 L605.0,1390.3 L605.5,1392.2 L606.0,1394.0 L606.5,1395.0 L607.0,1396.2 L607.5,1396.6 L608.0,1398.7 L608.5,1398.1 L609.0,1401.2 L609.5,1399.8 L610.0,1403.8 L610.5,1400.5 L611.0,1404.7 L611.5,1401.3 L612.0,1405.5 L612.5,1401.9 L613.0,1406.9 L613.5,1402.7 L614.0,1408.1 L614.5,1403.9 L615.0,1409.0 L615.5,1404.8 L616.0,1408.8 L616.5,1405.0 L617.0,1410.0 L617.5,1405.2 L618.0,1410.6 L618.5,1406.0 L619.0,1411.0 L619.5,1406.5 L620.0,1410.9 L620.5,1406.9 L621.0,1411.9 L621.5,1407.6 L622.0,1412.3 L622.5,1408.1 L623.0,1412.3 L623.5,1408.2 L624.0,1412.7 L624.5,1408.4 L625.0,1412.6 L625.5,1409.1 L626.0,1413.1 L626.5,1408.7 L627.0,1413.7 L627.5,1409.4 L628.0,1413.5 L628.5,1409.4 L629.0,1413.7 L629.5,1409.6 L630.0,1414.5 L630.5,1410.1 L631.0,1414.5 L631.5,1410.0 L632.0,1414.9 L632.5,1410.1 L633.0,1414.9 L633.5,1410.5 L634.0,1415.0 L634.5,1410.0 L635.0,1414.4 L635.5,1410.0 L636.0,1414.7 L636.5,1410.7 L637.0,1414.4 L637.5,1410.1 L638.0,1414.9 L638.5,1410.6 L639.0,1414.7 L639.5,1410.2 L640.0,1415.2 L640.5,1410.5 L641.0,1415.0 L641.5,1410.6 L642.0,1414.6 L642.5,1410.6 L643.0,1414.7 L643.5,1410.3 L644.0,1414.7 L644.5,1410.7 L645.0,1414.6 L645.5,1410.7 L646.0,1414.6 L646.5,1410.6 L647.0,1414.8 L647.5,1410.7 L648.0,1414.8 L648.5,1410.5 L649.0,1415.2 L649.5,1410.5 L650.0,1415.2 L650.5,1410.5 L651.0,1414.6 L651.5,1410.4 L652.0,1414.6 L652.5,1410.7 L653.0,1414.6 L653.5,1410.3 L654.0,1415.3 L654.5,1410.6 L655.0,1414.8 L655.5,1410.6 L656.0,1414.8 L656.5,1410.4 L657.0,1414.8 L657.5,1410.8 L658.0,1415.2 L658.5,1410.5 L659.0,1414.6 L659.5,1410.3 L660.0,1415.1 L660.5,1410.7 L661.0,1415.1 L661.5,1410.2 L662.0,1414.9 L662.5,1410.6 L663.0,1414.8 L663.5,1410.5 L664.0,1415.1 L664.5,1410.4 L665.0,1415.3 L665.5,1410.9 L666.0,1414.9 L666.5,1410.3 L667.0,1415.2 L667.5,1410.5 L668.0,1415.2 L668.5,1410.7 L669.0,1415.4 L669.5,1410.6 L670.0,1415.0 L670.5,1410.9 L671.0,1414.7 L671.5,1410.3 L672.0,1415.3 L672.5,1411.0 L673.0,1414.9 L673.5,1410.7 L674.0,1415.1 L674.5,1410.8 L675.0,1415.4 L675.5,1410.8 L676.0,1415.1 L676.5,1410.3 L677.0,1415.2 L677.5,1410.7 L678.0,1415.0 L678.5,1410.8 L679.0,1415.2 L679.5,1410.5 L680.0,1414.9 L680.5,1410.8 L681.0,1415.0 L681.5,1410.8 L682.0,1415.5 L682.5,1410.7 L683.0,1415.0 L683.5,1410.9 L684.0,1415.4 L684.5,1411.0 L685.0,1415.3 L685.5,1411.1 L686.0,1414.9 L686.5,1411.1 L687.0,1415.4 L687.5,1411.0 L688.0,1415.0 L688.5,1411.1 L689.0,1415.0 L689.5,1410.6 L690.0,1415.4 L690.5,1410.5 L691.0,1415.6 L691.5,1410.8 L692.0,1415.6 L692.5,1411.1 L693.0,1415.6 L693.5,1410.9 L694.0,1415.0 L694.5,1410.6 L695.0,1415.5 L695.5,1410.9 L696.0,1414.9 L696.5,1410.6 L697.0,1415.5 L697.5,1410.8 L698.0,1415.7 L698.5,1411.2 L699.0,1414.9 L699.5,1411.2 L700.0,1414.9 L700.5,1410.7 L701.0,1415.4 L701.5,1411.2 L702.0,1415.1 L702.5,1411.2 L703.0,1415.4 L703.5,1410.8 L704.0,1415.7 L704.5,1411.0 L705.0,1415.7 L705.5,1411.0 L706.0,1415.3 L706.5,1411.1 L707.0,1415.2 L707.5,1410.6 L708.0,1415.8 L708.5,1410.8 L709.0,1415.1 L709.5,1411.2 L710.0,1415.1 L710.5,1411.1 L711.0,1415.6 L711.5,1411.3 L712.0,1415.4 L712.5,1410.8 L713.0,1415.0 L713.5,1411.0 L714.0,1415.6 L714.5,1410.9 L715.0,1415.4 L715.5,1410.7 L716.0,1415.5 L716.5,1411.1 L717.0,1415.4 L717.5,1410.7 L718.0,1415.7 L718.5,1410.7 L719.0,1415.5 L719.5,1411.3 L720.0,1415.2 L720.5,1411.1 L721.0,1415.6 L721.5,1411.5 L722.0,1415.7 L722.5,1410.9 L723.0,1415.5 L723.5,1411.5 L724.0,1415.7 L724.5,1411.2 L725.0,1415.6 L725.5,1411.0 L726.0,1415.7 L726.5,1411.2 L727.0,1415.9 L727.5,1410.8 L728.0,1415.9 L728.5,1411.0 L729.0,1415.4 L729.5,1411.2 L730.0,1415.4 L730.5,1410.8 L731.0,1415.8 L731.5,1410.9 L732.0,1415.8 L732.5,1410.8 L733.0,1415.7 L733.5,1411.3 L734.0,1415.8 L734.5,1411.4 L735.0,1415.7 L735.5,1411.5 L736.0,1415.9 L736.5,1411.2 L737.0,1415.4 L737.5,1410.9 L738.0,1415.3 L738.5,1410.9 L739.0,1415.8 L739.5,1411.5 L740.0,1415.9 L740.5,1411.2 L741.0,1416.0 L741.5,1411.2 L742.0,1415.6 L742.5,1410.9 L743.0,1415.4 L743.5,1411.0 L744.0,1415.4 L744.5,1411.4 L745.0,1415.4 L745.5,1411.0 L746.0,1415.7 L746.5,1411.1 L747.0,1415.5 L747.5,1411.1 L748.0,1415.8 L748.5,1411.6 L749.0,1415.7 L749.5,1411.1 L750.0,1415.5 L750.5,1411.2 L751.0,1415.6 L751.5,1411.4 L752.0,1416.1 L752.5,1411.0 L753.0,1416.1 L753.5,1411.4 L754.0,1415.8 L754.5,1411.1 L755.0,1416.0 L755.5,1411.4 L756.0,1416.1 L756.5,1411.4 L757.0,1416.1 L757.5,1411.4 L758.0,1415.5 L758.5,1411.2 L759.0,1415.5 L759.5,1411.3 L760.0,1415.5 L760.5,1411.0 L761.0,1415.9 L761.5,1411.2 L762.0,1415.5 L762.5,1411.3 L763.0,1415.7 L763.5,1411.6 L764.0,1416.1 L764.5,1411.8 L765.0,1415.8 L765.5,1411.8 L766.0,1416.1 L766.5,1411.1 L767.0,1415.5 L767.5,1411.5 L768.0,1415.9 L768.5,1411.3 L769.0,1416.1 L769.5,1411.6 L770.0,1416.2 L770.5,1411.7 L771.0,1415.6 L771.5,1411.3 L772.0,1415.6 L772.5,1411.8 L773.0,1415.9 L773.5,1411.6 L774.0,1415.7 L774.5,1411.2 L775.0,1415.9 L775.5,1411.3 L776.0,1415.8 L776.5,1411.2 L777.0,1415.7 L777.5,1411.2 L778.0,1416.1 L778.5,1411.2 L779.0,1416.2 L779.5,1411.5 L780.0,1416.0 L780.5,1411.3 L781.0,1416.0 L781.5,1411.9 L782.0,1416.3 L782.5,1411.4 L783.0,1416.2 L783.5,1411.4 L784.0,1415.8 L784.5,1411.6 L785.0,1416.3 L785.5,1411.3 L786.0,1416.4 L786.5,1411.9 L787.0,1416.2 L787.5,1411.6 L788.0,1416.0 L788.5,1411.9 L789.0,1415.8 L789.5,1411.7 L790.0,1416.1 L790.5,1411.8 L791.0,1416.0 L791.5,1411.6 L792.0,1416.3 L792.5,1411.6 L793.0,1415.8 L793.5,1411.4 L794.0,1416.0 L794.5,1411.3 L795.0,1416.5 L795.5,1412.0 L796.0,1416.2 L796.5,1411.4 L797.0,1416.1 L797.5,1411.7 L798.0,1416.0 L798.5,1412.1 L799.0,1415.9 L799.5,1412.0 L800.0,1416.0 L800.5,1411.6 L801.0,1416.2 L801.5,1411.4 L802.0,1416.3 L802.5,1411.9 L803.0,1416.5 L803.5,1411.7 L804.0,1416.2 L804.5,1411.5 L805.0,1416.3 L805.5,1411.8 L806.0,1416.1 L806.5,1411.7 L807.0,1416.2 L807.5,1411.6 L808.0,1416.1 L808.5,1411.5 L809.0,1415.2 L809.5,1411.0 L810.0,1415.1 L810.5,1410.9 L811.0,1414.9 L811.5,1410.2 L812.0,1414.6 L812.5,1409.5 L813.0,1414.0 L813.5,1408.5 L814.0,1413.1 L814.5,1408.0 L815.0,1411.8 L815.5,1406.9 L816.0,1409.6 L816.5,1403.6 L817.0,1406.9 L817.5,1401.6 L818.0,1403.6 L818.5,1399.7 L819.0,1399.2 L819.5,1395.5 L820.0,1393.0 L820.5,1390.3 L821.0,1387.7 L821.5,1385.0 L822.0,1381.0 L822.5,1377.0 L823.0,1373.0 L823.5,1369.0 L824.0,1365.0 L824.5,1360.6 L825.0,1356.2 L825.5,1351.8 L826.0,1347.4 L826.5,1343.0 L827.0,1339.8 L827.5,1336.5 L828.0,1333.2 L828.5,1330.0 L829.0,1328.7 L829.5,1327.4 L830.0,1326.1 L830.5,1324.8 L831.0,1324.5 L831.5,1325.9 L832.0,1327.3 L832.5,1328.6 L833.0,1330.0 L833.5,1332.5 L834.0,1335.0 L834.5,1337.5 L835.0,1340.0 L835.5,1342.9 L836.0,1345.8 L836.5,1348.7 L837.0,1350.3 L837.5,1346.9 L838.0,1343.4 L838.5,1340.0 L839.0,1338.0 L839.5,1336.0 L840.0,1334.0 L840.5,1332.0 L841.0,1330.0 L841.5,1329.2 L842.0,1328.4 L842.5,1327.6 L843.0,1326.8 L843.5,1326.0 L844.0,1325.7 L844.5,1325.3 L845.0,1325.0 L845.5,1324.6 L846.0,1325.3 L846.5,1326.8 L847.0,1328.2 L847.5,1329.6 L848.0,1331.0 L848.5,1333.4 L849.0,1335.8 L849.5,1338.2 L850.0,1340.6 L850.5,1343.0 L851.0,1345.5 L851.5,1348.0 L852.0,1350.5 L852.5,1353.0 L853.0,1355.5 L853.5,1358.0 L854.0,1360.0 L854.5,1362.0 L855.0,1364.0 L855.5,1366.0 L856.0,1368.0 L856.5,1370.0 L857.0,1371.7 L857.5,1373.4 L858.0,1375.1 L858.5,1376.9 L859.0,1378.6 L859.5,1380.3 L860.0,1382.0 L860.5,1383.4 L861.0,1384.8 L861.5,1386.1 L862.0,1387.5 L862.5,1388.9 L863.0,1390.2 L863.5,1391.6 L864.0,1393.0 L864.5,1393.9 L865.0,1394.9 L865.5,1395.6 L866.0,1397.1 L866.5,1397.0 L867.0,1399.5 L867.5,1398.6 L868.0,1401.6 L868.5,1399.6 L869.0,1402.9 L869.5,1400.4 L870.0,1403.9 L870.5,1401.0 L871.0,1405.0 L871.5,1402.2 L872.0,1406.5 L872.5,1403.0 L873.0,1407.3 L873.5,1403.4 L874.0,1408.7 L874.5,1404.4 L875.0,1408.8 L875.5,1404.8 L876.0,1409.5 L876.5,1405.8 L877.0,1410.6 L877.5,1406.5 L878.0,1410.9 L878.5,1407.3 L879.0,1411.6 L879.5,1406.9 L880.0,1412.3 L880.5,1408.0 L881.0,1412.3 L881.5,1408.0 L882.0,1412.4 L882.5,1408.3 L883.0,1413.0 L883.5,1408.5 L884.0,1413.2 L884.5,1408.8 L885.0,1414.0 L885.5,1409.4 L886.0,1413.6 L886.5,1409.6 L887.0,1413.8 L887.5,1409.6 L888.0,1414.5 L888.5,1409.9 L889.0,1414.9 L889.5,1410.5 L890.0,1414.9 L890.5,1410.2 L891.0,1414.6 L891.5,1410.7 L892.0,1414.8 L892.5,1410.7 L893.0,1415.5 L893.5,1411.1 L894.0,1415.7 L894.5,1411.3 L895.0,1415.9 L895.5,1411.5 L896.0,1416.1 L896.5,1411.4 L897.0,1415.4 L897.5,1411.7 L898.0,1416.0 L898.5,1411.2 L899.0,1416.0 L899.5,1411.8 L900.0,1416.3 L900.5,1411.4 L901.0,1415.7 L901.5,1411.7 L902.0,1416.2 L902.5,1412.1 L903.0,1415.8 L903.5,1411.8 L904.0,1416.5 L904.5,1411.4 L905.0,1416.1 L905.5,1411.5 L906.0,1416.4 L906.5,1411.5 L907.0,1416.3 L907.5,1411.4 L908.0,1416.3 L908.5,1411.4 L909.0,1416.3 L909.5,1412.0 L910.0,1416.2 L910.5,1411.8 L911.0,1416.1 L911.5,1411.9 L912.0,1416.2 L912.5,1411.7 L913.0,1416.0 L913.5,1412.0 L914.0,1416.2 L914.5,1411.8 L915.0,1416.1 L915.5,1411.7 L916.0,1416.0 L916.5,1411.8 L917.0,1416.0 L917.5,1411.6 L918.0,1416.4 L918.5,1411.6 L919.0,1416.2 L919.5,1412.0 L920.0,1416.5 L920.5,1411.8 L921.0,1416.1 L921.5,1412.0 L922.0,1416.1 L922.5,1411.6 L923.0,1416.5 L923.5,1411.8 L924.0,1416.4 L924.5,1412.0 L925.0,1416.2 L925.5,1411.9 L926.0,1416.1 L926.5,1411.9 L927.0,1416.4 L927.5,1411.6 L928.0,1416.0 L928.5,1412.0 L929.0,1416.4 L929.5,1411.7 L930.0,1416.3 L930.5,1411.7 L931.0,1416.4 L931.5,1412.0 L932.0,1415.9 L932.5,1411.9 L933.0,1415.8 L933.5,1411.4 L934.0,1416.2 L934.5,1411.7 L935.0,1416.6 L935.5,1411.6 L936.0,1416.0 L936.5,1411.9 L937.0,1415.9 L937.5,1411.6 L938.0,1416.4 L938.5,1411.8 L939.0,1416.1 L939.5,1412.0 L940.0,1416.2 L940.5,1411.6 L941.0,1416.5 L941.5,1411.5 L942.0,1416.5 L942.5,1411.8 L943.0,1416.1 L943.5,1411.9 L944.0,1416.6 L944.5,1412.0 L945.0,1415.9 L945.5,1412.0 L946.0,1416.5 L946.5,1411.5 L947.0,1416.1 L947.5,1411.5 L948.0,1416.5 L948.5,1411.8 L949.0,1416.0 L949.5,1411.6 L950.0,1416.1 L950.5,1412.1 L951.0,1416.5 L951.5,1411.8 L952.0,1416.1 L952.5,1411.7 L953.0,1416.0 L953.5,1412.2 L954.0,1416.1 L954.5,1411.9 L955.0,1415.8 L955.5,1411.9 L956.0,1416.4 L956.5,1411.9 L957.0,1416.4 L957.5,1411.7 L958.0,1416.0 L958.5,1412.2 L959.0,1416.3 L959.5,1411.7 L960.0,1416.0 L960.5,1412.0 L961.0,1416.5 L961.5,1411.5 L962.0,1416.0 L962.5,1411.7 L963.0,1416.3 L963.5,1411.9 L964.0,1415.8 L964.5,1411.9 L965.0,1416.3 L965.5,1411.7 L966.0,1416.2 L966.5,1412.1 L967.0,1416.0 L967.5,1411.9 L968.0,1416.1 L968.5,1411.9 L969.0,1416.5 L969.5,1412.1 L970.0,1416.6 L970.5,1412.0 L971.0,1416.5 L971.5,1412.0 L972.0,1416.3 L972.5,1411.9 L973.0,1415.8 L973.5,1411.6 L974.0,1416.5 L974.5,1412.0 L975.0,1416.4 L975.5,1411.8 L976.0,1416.6 L976.5,1412.1 L977.0,1416.1 L977.5,1412.0 L978.0,1416.3 L978.5,1411.6 L979.0,1416.5 L979.5,1411.8 L980.0,1416.1 L980.5,1411.6 L981.0,1415.9 L981.5,1412.0 L982.0,1416.4 L982.5,1411.8 L983.0,1416.6 L983.5,1412.1 L984.0,1416.2 L984.5,1412.0 L985.0,1415.8 L985.5,1412.1 L986.0,1415.9 L986.5,1411.9 L987.0,1416.2 L987.5,1411.8 L988.0,1416.0 L988.5,1411.6 L989.0,1416.2 L989.5,1411.4 L990.0,1416.0 L990.5,1411.8 L991.0,1416.2 L991.5,1411.9 L992.0,1416.5 L992.5,1412.0 L993.0,1416.5 L993.5,1411.9 L994.0,1416.1 L994.5,1411.7 L995.0,1416.3 L995.5,1412.0 L996.0,1415.9 L996.5,1411.4 L997.0,1416.1 L997.5,1412.1 L998.0,1416.3 L998.5,1411.8 L999.0,1416.1 L999.5,1411.9 L1000.0,1416.5 L1000.5,1411.9 L1001.0,1416.1 L1001.5,1411.4 L1002.0,1416.1 L1002.5,1411.9 L1003.0,1415.9 L1003.5,1411.7 L1004.0,1416.3 L1004.5,1411.8 L1005.0,1416.1 L1005.5,1412.0 L1006.0,1416.4 L1006.5,1411.8 L1007.0,1416.5 L1007.5,1411.9 L1008.0,1416.4 L1008.5,1412.2 L1009.0,1416.0 L1009.5,1411.4 L1010.0,1416.4 L1010.5,1411.7 L1011.0,1416.2 L1011.5,1411.8 L1012.0,1416.0 L1012.5,1412.0 L1013.0,1416.3 L1013.5,1411.6 L1014.0,1416.0 L1014.5,1411.7 L1015.0,1415.9 L1015.5,1411.7 L1016.0,1416.0 L1016.5,1411.8 L1017.0,1416.1 L1017.5,1411.8 L1018.0,1415.9 L1018.5,1411.8 L1019.0,1416.3 L1019.5,1412.1 L1020.0,1416.1 L1020.5,1411.7 L1021.0,1416.2 L1021.5,1411.7 L1022.0,1416.4 L1022.5,1411.7 L1023.0,1416.0 L1023.5,1411.8 L1024.0,1416.5 L1024.5,1411.7 L1025.0,1416.4 L1025.5,1411.9 L1026.0,1416.2 L1026.5,1411.4 L1027.0,1416.5 L1027.5,1411.7 L1028.0,1415.9 L1028.5,1411.7 L1029.0,1415.8 L1029.5,1411.5 L1030.0,1416.6 L1030.5,1411.6 L1031.0,1416.0 L1031.5,1411.5 L1032.0,1416.0 L1032.5,1411.5 L1033.0,1416.2 L1033.5,1412.2 L1034.0,1416.5 L1034.5,1411.8 L1035.0,1416.5 L1035.5,1411.6 L1036.0,1416.2 L1036.5,1411.5 L1037.0,1416.0 L1037.5,1411.5 L1038.0,1416.1 L1038.5,1412.2 L1039.0,1416.1 L1039.5,1412.1 L1040.0,1415.9 L1040.5,1411.7 L1041.0,1415.9 L1041.5,1412.1 L1042.0,1416.0 L1042.5,1412.0 L1043.0,1416.5 L1043.5,1411.5 L1044.0,1416.5 L1044.5,1411.4 L1045.0,1416.2 L1045.5,1411.6 L1046.0,1416.0 L1046.5,1411.5 L1047.0,1416.5 L1047.5,1411.6 L1048.0,1416.0 L1048.5,1412.1 L1049.0,1416.5 L1049.5,1411.7 L1050.0,1416.3 L1050.5,1411.5 L1051.0,1415.9 L1051.5,1411.6 L1052.0,1416.2 L1052.5,1411.6 L1053.0,1416.2 L1053.5,1412.0 L1054.0,1416.6 L1054.5,1412.0 L1055.0,1416.4 L1055.5,1411.5 L1056.0,1416.0 L1056.5,1411.6 L1057.0,1416.1 L1057.5,1412.0 L1058.0,1416.0 L1058.5,1411.4 L1059.0,1416.1 L1059.5,1411.8 L1060.0,1416.2 L1060.5,1412.2 L1061.0,1416.4 L1061.5,1411.6 L1062.0,1416.5 L1062.5,1411.9 L1063.0,1416.0 L1063.5,1411.9 L1064.0,1416.4 L1064.5,1411.7 L1065.0,1416.1 L1065.5,1411.8 L1066.0,1415.9 L1066.5,1411.5 L1067.0,1416.2 L1067.5,1411.8 L1068.0,1416.4 L1068.5,1412.0 L1069.0,1416.4 L1069.5,1411.9 L1070.0,1416.5 L1070.5,1412.1 L1071.0,1416.0 L1071.5,1411.7 L1072.0,1416.2 L1072.5,1411.9 L1073.0,1416.3 L1073.5,1412.0 L1074.0,1416.2 L1074.5,1412.2 L1075.0,1416.4 L1075.5,1412.0 L1076.0,1416.5 L1076.5,1411.7 L1077.0,1416.3 L1077.5,1411.7 L1078.0,1415.9 L1078.5,1411.6 L1079.0,1416.0 L1079.5,1411.5 L1080.0,1416.4 L1080.5,1411.7 L1081.0,1416.5 L1081.5,1411.8 L1082.0,1416.3 L1082.5,1411.4 L1083.0,1416.0 L1083.5,1412.1 L1084.0,1416.1 L1084.5,1411.8 L1085.0,1415.9 L1085.5,1412.0 L1086.0,1416.5 L1086.5,1411.9 L1087.0,1415.9 L1087.5,1412.0 L1088.0,1416.3 L1088.5,1412.0 L1089.0,1416.2 L1089.5,1411.8 L1090.0,1416.2 L1090.5,1411.8 L1091.0,1416.5 L1091.5,1412.2 L1092.0,1416.5 L1092.5,1412.0 L1093.0,1415.8 L1093.5,1411.6 L1094.0,1416.3 L1094.5,1411.8 L1095.0,1416.0 L1095.5,1411.6 L1096.0,1416.1 L1096.5,1411.6 L1097.0,1416.0 L1097.5,1411.7 L1098.0,1416.3 L1098.5,1411.9 L1099.0,1416.2 L1099.5,1412.1 L1100.0,1416.3 L1100.5,1411.6 L1101.0,1415.9 L1101.5,1411.8 L1102.0,1416.4 L1102.5,1412.1 L1103.0,1416.5 L1103.5,1411.5 L1104.0,1415.9 L1104.5,1412.0 L1105.0,1415.9 L1105.5,1412.0 L1106.0,1415.9 L1106.5,1411.8 L1107.0,1416.0 L1107.5,1411.9 L1108.0,1416.2 L1108.5,1411.9 L1109.0,1416.4 L1109.5,1411.6 L1110.0,1415.9 L1110.5,1412.0 L1111.0,1415.8 L1111.5,1411.9 L1112.0,1415.9 L1112.5,1411.6 L1113.0,1416.4 L1113.5,1411.4 L1114.0,1416.0 L1114.5,1412.2 L1115.0,1416.4 L1115.5,1411.9 L1116.0,1416.5 L1116.5,1411.9 L1117.0,1416.1 L1117.5,1412.1 L1118.0,1416.6 L1118.5,1411.8 L1119.0,1416.2 L1119.5,1411.8 L1120.0,1416.4 L1120.5,1411.5 L1121.0,1416.2 L1121.5,1412.0 L1122.0,1416.1 L1122.5,1411.5 L1123.0,1416.1 L1123.5,1411.7 L1124.0,1416.3 L1124.5,1411.8 L1125.0,1416.3 L1125.5,1412.0 L1126.0,1416.3 L1126.5,1411.5 L1127.0,1415.9 L1127.5,1411.9 L1128.0,1416.5 L1128.5,1411.4 L1129.0,1415.8 L1129.5,1411.7 L1130.0,1416.3 L1130.5,1411.5 L1131.0,1416.2 L1131.5,1412.1 L1132.0,1416.1 L1132.5,1411.6 L1133.0,1416.4 L1133.5,1412.0 L1134.0,1416.3 L1134.5,1411.7 L1135.0,1416.3 L1135.5,1412.2 L1136.0,1416.2 L1136.5,1411.9 L1137.0,1416.3 L1137.5,1411.9 L1138.0,1415.9 L1138.5,1411.7 L1139.0,1416.0 L1139.5,1411.6 L1140.0,1416.1 L1140.5,1411.8 L1141.0,1416.5 L1141.5,1412.1 L1142.0,1416.4 L1142.5,1412.1 L1143.0,1416.6 L1143.5,1412.2 L1144.0,1416.4 L1144.5,1411.9 L1145.0,1416.0 L1145.5,1411.9 L1146.0,1416.2 L1146.5,1411.9 L1147.0,1415.9 L1147.5,1411.8 L1148.0,1416.1 L1148.5,1411.4 L1149.0,1416.1 L1149.5,1411.8 L1150.0,1416.0 L1150.5,1411.4 L1151.0,1416.1 L1151.5,1411.7 L1152.0,1416.5 L1152.5,1411.9 L1153.0,1416.4 L1153.5,1412.0 L1154.0,1415.9 L1154.5,1412.1 L1155.0,1416.2 L1155.5,1411.5 L1156.0,1416.0 L1156.5,1411.8 L1157.0,1416.4 L1157.5,1412.0 L1158.0,1415.9 L1158.5,1411.8 L1159.0,1416.2 L1159.5,1411.4 L1160.0,1416.5 L1160.5,1412.0 L1161.0,1416.3 L1161.5,1411.9 L1162.0,1415.8 L1162.5,1411.8 L1163.0,1416.5 L1163.5,1411.9 L1164.0,1416.3 L1164.5,1411.6 L1165.0,1415.9 L1165.5,1411.5 L1166.0,1415.9 L1166.5,1411.9 L1167.0,1416.4 L1167.5,1412.2 L1168.0,1416.1 L1168.5,1412.1 L1169.0,1416.2 L1169.5,1412.2 L1170.0,1415.9 L1170.5,1412.0 L1171.0,1415.9 L1171.5,1412.1 L1172.0,1416.0 L1172.5,1411.8 L1173.0,1415.9 L1173.5,1411.5 L1174.0,1416.1 L1174.5,1412.0 L1175.0,1416.0 L1175.5,1411.5 L1176.0,1415.9 L1176.5,1411.6 L1177.0,1415.9 L1177.5,1411.4 L1178.0,1416.1 L1178.5,1411.7 L1179.0,1416.5 L1179.5,1412.1 L1180.0,1415.9 L1180.5,1411.6 L1181.0,1416.3 L1181.5,1411.6 L1182.0,1416.0 L1182.5,1411.8 L1183.0,1416.0 L1183.5,1411.8 L1184.0,1416.0 L1184.5,1411.7 L1185.0,1416.1 L1185.5,1412.0 L1186.0,1416.3 L1186.5,1412.1 L1187.0,1416.4 L1187.5,1411.8 L1188.0,1416.0 L1188.5,1412.1 L1189.0,1416.2 L1189.5,1411.8 L1190.0,1416.4 L1190.5,1411.9 L1191.0,1416.1 L1191.5,1411.5 L1192.0,1416.0 L1192.5,1411.4 L1193.0,1416.5 L1193.5,1411.4 L1194.0,1416.6 L1194.5,1412.0 L1195.0,1416.5 L1195.5,1411.7 L1196.0,1416.0 L1196.5,1411.4 L1197.0,1416.3 L1197.5,1411.5 L1198.0,1416.3 L1198.5,1412.1 L1199.0,1416.5 L1199.5,1412.0 L1200.0,1416.0 L1200.5,1411.7 L1201.0,1416.0 L1201.5,1411.8 L1202.0,1416.4 L1202.5,1412.1 L1203.0,1416.3 L1203.5,1412.1 L1204.0,1416.2 L1204.5,1411.7 L1205.0,1416.4 L1205.5,1412.1 L1206.0,1416.0 L1206.5,1411.2 L1207.0,1415.7 L1207.5,1411.2 L1208.0,1415.3 L1208.5,1410.6 L1209.0,1415.2 L1209.5,1410.3 L1210.0,1414.5 L1210.5,1409.9 L1211.0,1414.2 L1211.5,1409.5 L1212.0,1413.4 L1212.5,1407.7 L1213.0,1412.1 L1213.5,1406.5 L1214.0,1410.8 L1214.5,1405.5 L1215.0,1408.2 L1215.5,1402.1 L1216.0,1404.3 L1216.5,1399.2 L1217.0,1399.8 L1217.5,1396.5 L1218.0,1393.8 L1218.5,1390.7 L1219.0,1387.5 L1219.5,1384.3 L1220.0,1381.2 L1220.5,1378.0 L1221.0,1373.7 L1221.5,1369.3 L1222.0,1365.0 L1222.5,1360.7 L1223.0,1356.3 L1223.5,1352.0 L1224.0,1349.7 L1224.5,1347.3 L1225.0,1345.0 L1225.5,1342.7 L1226.0,1340.3 L1226.5,1338.0 L1227.0,1336.3 L1227.5,1334.6 L1228.0,1332.8 L1228.5,1331.1 L1229.0,1329.4 L1229.5,1327.7 L1230.0,1325.2 L1230.5,1322.2 L1231.0,1319.2 L1231.5,1317.5 L1232.0,1316.8 L1232.5,1316.0 L1233.0,1315.8 L1233.5,1316.5 L1234.0,1317.3 L1234.5,1318.0 L1235.0,1319.8 L1235.5,1321.5 L1236.0,1323.2 L1236.5,1325.0 L1237.0,1326.9 L1237.5,1328.8 L1238.0,1330.7 L1238.5,1332.6 L1239.0,1330.7 L1239.5,1327.8 L1240.0,1324.9 L1240.5,1322.0 L1241.0,1317.8 L1241.5,1313.5 L1242.0,1309.2 L1242.5,1305.0 L1243.0,1302.0 L1243.5,1299.0 L1244.0,1296.0 L1244.5,1294.9 L1245.0,1293.8 L1245.5,1292.7 L1246.0,1292.6 L1246.5,1294.2 L1247.0,1295.8 L1247.5,1297.4 L1248.0,1299.0 L1248.5,1301.4 L1249.0,1305.0 L1249.5,1308.6 L1250.0,1312.2 L1250.5,1315.8 L1251.0,1319.4 L1251.5,1322.8 L1252.0,1326.3 L1252.5,1329.7 L1253.0,1333.2 L1253.5,1336.6 L1254.0,1339.7 L1254.5,1342.6 L1255.0,1345.5 L1255.5,1348.4 L1256.0,1351.2 L1256.5,1354.1 L1257.0,1357.0 L1257.5,1359.1 L1258.0,1361.3 L1258.5,1363.4 L1259.0,1365.6 L1259.5,1367.7 L1260.0,1369.9 L1260.5,1372.0 L1261.0,1373.7 L1261.5,1375.4 L1262.0,1377.1 L1262.5,1378.9 L1263.0,1380.6 L1263.5,1382.3 L1264.0,1384.0 L1264.5,1385.2 L1265.0,1386.4 L1265.5,1387.5 L1266.0,1388.7 L1266.5,1389.9 L1267.0,1391.1 L1267.5,1392.2 L1268.0,1392.9 L1268.5,1393.7 L1269.0,1394.4 L1269.5,1395.2 L1270.0,1396.2 L1270.5,1396.3 L1271.0,1398.1 L1271.5,1397.5 L1272.0,1399.9 L1272.5,1398.6 L1273.0,1400.9 L1273.5,1399.2 L1274.0,1402.1 L1274.5,1399.8 L1275.0,1403.2 L1275.5,1400.7 L1276.0,1404.4 L1276.5,1401.0 L1277.0,1405.3 L1277.5,1402.2 L1278.0,1406.2 L1278.5,1402.9 L1279.0,1406.9 L1279.5,1403.1 L1280.0,1408.0 L1280.5,1403.4 L1281.0,1408.6 L1281.5,1403.8 L1282.0,1408.8 L1282.5,1404.5 L1283.0,1408.8 L1283.5,1405.1 L1284.0,1409.5 L1284.5,1405.4 L1285.0,1409.9 L1285.5,1406.0 L1286.0,1410.6 L1286.5,1406.4 L1287.0,1410.9 L1287.5,1407.1 L1288.0,1411.5 L1288.5,1406.8 L1289.0,1411.7 L1289.5,1407.6 L1290.0,1412.0 L1290.5,1407.4 L1291.0,1412.6 L1291.5,1407.7 L1292.0,1412.2 L1292.5,1407.9 L1293.0,1412.9 L1293.5,1408.7 L1294.0,1413.4 L1294.5,1408.6 L1295.0,1413.7 L1295.5,1409.3 L1296.0,1413.8 L1296.5,1409.5 L1297.0,1413.7 L1297.5,1409.3 L1298.0,1414.1 L1298.5,1409.8 L1299.0,1414.2 L1299.5,1409.5 L1300.0,1414.3 L1300.5,1409.6 L1301.0,1414.5 L1301.5,1409.7 L1302.0,1414.2 L1302.5,1410.2 L1303.0,1414.8 L1303.5,1410.2 L1304.0,1415.2 L1304.5,1410.4 L1305.0,1415.0 L1305.5,1410.5 L1306.0,1415.2 L1306.5,1410.6 L1307.0,1415.6 L1307.5,1411.3 L1308.0,1415.3 L1308.5,1410.8 L1309.0,1415.2 L1309.5,1411.0 L1310.0,1415.3 L1310.5,1411.2 L1311.0,1416.0 L1311.5,1411.5 L1312.0,1415.7 L1312.5,1411.6 L1313.0,1416.0 L1313.5,1411.4 L1314.0,1415.9 L1314.5,1411.6 L1315.0,1415.9 L1315.5,1411.1 L1316.0,1416.1 L1316.5,1411.2 L1317.0,1415.7 L1317.5,1411.5 L1318.0,1415.9 L1318.5,1411.7 L1319.0,1416.2 L1319.5,1411.9 L1320.0,1416.1 L1320.5,1411.4 L1321.0,1416.4 L1321.5,1412.0 L1322.0,1415.9 L1322.5,1411.7 L1323.0,1416.5 L1323.5,1412.0 L1324.0,1416.4 L1324.5,1411.9 L1325.0,1416.2 L1325.5,1411.5 L1326.0,1415.9 L1326.5,1411.9 L1327.0,1415.9 L1327.5,1412.1 L1328.0,1416.1 L1328.5,1411.6 L1329.0,1416.3 L1329.5,1412.1 L1330.0,1416.4 L1330.5,1411.8 L1331.0,1415.9 L1331.5,1411.5 L1332.0,1416.5 L1332.5,1412.0 L1333.0,1416.6 L1333.5,1411.5 L1334.0,1416.0 L1334.5,1412.2 L1335.0,1416.5 L1335.5,1411.5 L1336.0,1415.9 L1336.5,1411.6 L1337.0,1416.4 L1337.5,1411.7 L1338.0,1416.5 L1338.5,1411.4 L1339.0,1416.1 L1339.5,1411.5 L1340.0,1416.5 L1340.5,1411.9 L1341.0,1416.4 L1341.5,1411.6 L1342.0,1416.5 L1342.5,1411.7 L1343.0,1416.0 L1343.5,1412.0 L1344.0,1416.2 L1344.5,1412.1 L1345.0,1416.5 L1345.5,1411.5 L1346.0,1416.0 L1346.5,1411.6 L1347.0,1416.3 L1347.5,1412.1 L1348.0,1416.4 L1348.5,1411.6 L1349.0,1416.1 L1349.5,1412.1 L1350.0,1416.0 L1350.5,1411.6 L1351.0,1416.2 L1351.5,1411.5 L1352.0,1415.9 L1352.5,1412.1 L1353.0,1416.1 L1353.5,1411.5 L1354.0,1415.9 L1354.5,1412.1 L1355.0,1416.4 L1355.5,1412.1 L1356.0,1416.3 L1356.5,1412.1 L1357.0,1416.0 L1357.5,1411.7 L1358.0,1416.5 L1358.5,1411.9 L1359.0,1416.2 L1359.5,1412.2 L1360.0,1416.1 L1360.5,1412.0 L1361.0,1416.4 L1361.5,1411.6 L1362.0,1416.4 L1362.5,1411.8 L1363.0,1416.4 L1363.5,1412.1 L1364.0,1416.1 L1364.5,1412.0 L1365.0,1416.0 L1365.5,1411.6 L1366.0,1416.0 L1366.5,1411.9 L1367.0,1416.0 L1367.5,1411.5 L1368.0,1416.3 L1368.5,1411.8 L1369.0,1416.1 L1369.5,1411.5 L1370.0,1416.6 L1370.5,1411.8 L1371.0,1416.3 L1371.5,1411.5 L1372.0,1416.0 L1372.5,1412.0 L1373.0,1415.9 L1373.5,1411.8 L1374.0,1416.4 L1374.5,1412.1 L1375.0,1416.2 L1375.5,1411.4 L1376.0,1416.2 L1376.5,1411.9 L1377.0,1416.5 L1377.5,1411.5 L1378.0,1416.1 L1378.5,1412.1 L1379.0,1416.3 L1379.5,1411.6 L1380.0,1416.5 L1380.5,1411.7 L1381.0,1416.1 L1381.5,1411.8 L1382.0,1416.0 L1382.5,1411.8 L1383.0,1416.2 L1383.5,1411.5 L1384.0,1416.5 L1384.5,1411.5 L1385.0,1416.2 L1385.5,1411.4 L1386.0,1415.9 L1386.5,1411.5 L1387.0,1416.3 L1387.5,1411.5 L1388.0,1416.1 L1388.5,1411.4 L1389.0,1415.8 L1389.5,1411.5 L1390.0,1416.5 L1390.5,1411.9 L1391.0,1416.5 L1391.5,1412.0 L1392.0,1416.4 L1392.5,1411.8 L1393.0,1416.1 L1393.5,1412.0 L1394.0,1416.4 L1394.5,1411.6 L1395.0,1415.9 L1395.5,1411.4 L1396.0,1416.0 L1396.5,1411.9 L1397.0,1416.1 L1397.5,1411.7 L1398.0,1416.5 L1398.5,1411.4 L1399.0,1416.3 L1399.5,1411.9 L1400.0,1415.9 L1400.5,1412.1 L1401.0,1416.2 L1401.5,1411.7 L1402.0,1416.2 L1402.5,1411.4 L1403.0,1416.1 L1403.5,1411.9 L1404.0,1416.1 L1404.5,1412.0 L1405.0,1416.6 L1405.5,1411.7 L1406.0,1416.2 L1406.5,1411.8 L1407.0,1416.0 L1407.5,1411.9 L1408.0,1416.2 L1408.5,1411.8 L1409.0,1416.6 L1409.5,1411.7 L1410.0,1416.0 L1410.5,1412.1 L1411.0,1415.9 L1411.5,1411.9 L1412.0,1416.4 L1412.5,1411.5 L1413.0,1416.0 L1413.5,1411.6 L1414.0,1416.2 L1414.5,1411.8 L1415.0,1416.2 L1415.5,1412.1 L1416.0,1415.9 L1416.5,1411.7 L1417.0,1416.4 L1417.5,1411.9 L1418.0,1416.5 L1418.5,1411.5 L1419.0,1416.1 L1419.5,1412.1 L1420.0,1416.3 L1420.5,1411.7 L1421.0,1416.0 L1421.5,1412.1 L1422.0,1416.2 L1422.5,1412.2 L1423.0,1416.4 L1423.5,1411.7 L1424.0,1416.0 L1424.5,1411.8 L1425.0,1416.0 L1425.5,1412.0 L1426.0,1416.0 L1426.5,1411.5 L1427.0,1416.2 L1427.5,1411.6 L1428.0,1416.1 L1428.5,1411.6 L1429.0,1416.3 L1429.5,1411.7 L1430.0,1416.1 L1430.5,1411.7 L1431.0,1416.0 L1431.5,1411.4 L1432.0,1416.3 L1432.5,1411.8 L1433.0,1416.3 L1433.5,1412.1 L1434.0,1416.1 L1434.5,1412.0 L1435.0,1416.5 L1435.5,1412.2 L1436.0,1416.2 L1436.5,1411.5 L1437.0,1416.4 L1437.5,1411.6 L1438.0,1416.1 L1438.5,1412.0 L1439.0,1416.4 L1439.5,1411.9 L1440.0,1416.4 L1440.5,1411.9 L1441.0,1416.3 L1441.5,1411.6 L1442.0,1416.3 L1442.5,1411.2 L1443.0,1415.9 L1443.5,1411.1 L1444.0,1415.5 L1444.5,1411.2 L1445.0,1415.5 L1445.5,1411.3 L1446.0,1415.7 L1446.5,1411.1 L1447.0,1415.5 L1447.5,1411.5 L1448.0,1415.8 L1448.5,1411.1 L1449.0,1415.7 L1449.5,1411.1 L1450.0,1415.1 L1450.5,1410.8 L1451.0,1415.2 L1451.5,1410.9 L1452.0,1414.9 L1452.5,1411.0 L1453.0,1415.4 L1453.5,1410.6 L1454.0,1415.3 L1454.5,1410.7 L1455.0,1415.3 L1455.5,1410.5 L1456.0,1414.8 L1456.5,1410.5 L1457.0,1415.0 L1457.5,1410.3 L1458.0,1414.6 L1458.5,1410.6 L1459.0,1414.7 L1459.5,1410.6 L1460.0,1414.6 L1460.5,1410.1 L1461.0,1414.8 L1461.5,1410.5 L1462.0,1414.9 L1462.5,1410.6 L1463.0,1414.9 L1463.5,1410.6 L1464.0,1414.4 L1464.5,1410.5 L1465.0,1414.7 L1465.5,1410.5 L1466.0,1415.0 L1466.5,1409.9 L1467.0,1414.5 L1467.5,1410.1 L1468.0,1414.9 L1468.5,1410.2 L1469.0,1414.5 L1469.5,1409.9 L1470.0,1415.1 L1470.5,1410.7 L1471.0,1414.6 L1471.5,1410.4 L1472.0,1414.5 L1472.5,1410.3 L1473.0,1415.0 L1473.5,1410.7 L1474.0,1415.0 L1474.5,1410.4 L1475.0,1414.3 L1475.5,1410.0 L1476.0,1414.5 L1476.5,1410.5 L1477.0,1414.4 L1477.5,1410.4 L1478.0,1414.4 L1478.5,1410.5 L1479.0,1414.5 L1479.5,1410.2 L1480.0,1414.7 L1480.5,1410.5 L1481.0,1414.8 L1481.5,1410.2 L1482.0,1415.0 L1482.5,1410.6 L1483.0,1415.3 L1483.5,1410.3 L1484.0,1415.1 L1484.5,1410.6 L1485.0,1415.0 L1485.5,1411.0 L1486.0,1415.5 L1486.5,1410.7 L1487.0,1414.9 L1487.5,1410.5 L1488.0,1415.6 L1488.5,1411.3 L1489.0,1415.5 L1489.5,1411.2 L1490.0,1415.5 L1490.5,1410.8 L1491.0,1415.4 L1491.5,1411.2 L1492.0,1415.7 L1492.5,1411.5 L1493.0,1415.8 L1493.5,1411.4 L1494.0,1416.1 L1494.5,1411.6 L1495.0,1416.0 L1495.5,1411.8 L1496.0,1415.7 L1496.5,1411.8 L1497.0,1415.7 L1497.5,1411.6 L1498.0,1415.8 L1498.5,1411.4 L1499.0,1415.8 L1499.5,1411.7 L1500.0,1416.5 L1500.5,1412.1 L1501.0,1416.0 L1501.5,1411.6 L1502.0,1416.2 L1502.5,1411.5 L1503.0,1416.1 L1503.5,1411.9 L1504.0,1416.6 L1504.5,1411.9 L1505.0,1416.6 L1505.5,1411.5 L1506.0,1416.0 L1506.5,1411.8 L1507.0,1416.6 L1507.5,1412.1 L1508.0,1416.5 L1508.5,1411.6 L1509.0,1416.4 L1509.5,1411.7 L1510.0,1415.9 L1510.5,1411.4 L1511.0,1415.9 L1511.5,1411.6 L1512.0,1416.4 L1512.5,1411.9 L1513.0,1416.4 L1513.5,1411.9 L1514.0,1416.4 L1514.5,1412.1 L1515.0,1416.5 L1515.5,1411.9 L1516.0,1416.4 L1516.5,1411.8 L1517.0,1416.5 L1517.5,1411.9 L1518.0,1416.2 L1518.5,1412.2 L1519.0,1416.2 L1519.5,1412.1 L1520.0,1416.5 L1520.5,1411.7 L1521.0,1416.2 L1521.5,1411.4 L1522.0,1416.6 L1522.5,1411.4 L1523.0,1415.9 L1523.5,1411.6 L1524.0,1416.4 L1524.5,1411.7 L1525.0,1415.8 L1525.5,1411.5 L1526.0,1416.2 L1526.5,1411.7 L1527.0,1416.5 L1527.5,1412.0 L1528.0,1415.8 L1528.5,1411.5 L1529.0,1416.0 L1529.5,1412.1 L1530.0,1415.9 L1530.5,1411.4 L1531.0,1416.4 L1531.5,1412.0 L1532.0,1415.9 L1532.5,1411.5 L1533.0,1416.3 L1533.5,1411.7 L1534.0,1415.9 L1534.5,1411.9 L1535.0,1416.6 L1535.5,1412.2 L1536.0,1416.1 L1536.5,1412.1 L1537.0,1416.6 L1537.5,1412.1 L1538.0,1416.6 L1538.5,1411.5 L1539.0,1416.4 L1539.5,1412.1 L1540.0,1416.4 L1540.5,1411.8 L1541.0,1416.2 L1541.5,1412.1 L1542.0,1416.2 L1542.5,1411.6 L1543.0,1415.9 L1543.5,1411.5 L1544.0,1416.1 L1544.5,1412.0 L1545.0,1416.0 L1545.5,1411.8 L1546.0,1416.3 L1546.5,1411.7 L1547.0,1416.5 L1547.5,1411.8 L1548.0,1416.2 L1548.5,1411.4 L1549.0,1416.0 L1549.5,1412.2 L1550.0,1416.1 L1550.5,1411.9 L1551.0,1415.9 L1551.5,1411.9 L1552.0,1415.8 L1552.5,1411.5 L1553.0,1416.2 L1553.5,1411.5 L1554.0,1416.4 L1554.5,1411.6 L1555.0,1416.4 L1555.5,1411.9 L1556.0,1416.4 L1556.5,1412.0 L1557.0,1416.3 L1557.5,1411.7 L1558.0,1416.4 L1558.5,1412.0 L1559.0,1416.1 L1559.5,1411.5 L1560.0,1416.4 L1560.5,1411.4 L1561.0,1415.9 L1561.5,1412.0 L1562.0,1415.9 L1562.5,1411.6 L1563.0,1416.4 L1563.5,1411.7 L1564.0,1416.4 L1564.5,1411.8 L1565.0,1416.3 L1565.5,1411.5 L1566.0,1416.3 L1566.5,1411.7 L1567.0,1416.3 L1567.5,1411.8 L1568.0,1416.4 L1568.5,1411.7 L1569.0,1415.9 L1569.5,1411.8 L1570.0,1416.1 L1570.5,1411.8 L1571.0,1416.3 L1571.5,1411.9 L1572.0,1416.1 L1572.5,1411.8 L1573.0,1416.1 L1573.5,1411.4 L1574.0,1415.9 L1574.5,1412.2 L1575.0,1416.4 L1575.5,1411.9 L1576.0,1416.2 L1576.5,1411.7 L1577.0,1416.1 L1577.5,1412.0 L1578.0,1415.8 L1578.5,1411.5 L1579.0,1416.6 L1579.5,1412.0 L1580.0,1416.2 L1580.5,1411.9 L1581.0,1415.9 L1581.5,1411.5 L1582.0,1416.5 L1582.5,1412.0 L1583.0,1416.0 L1583.5,1411.6 L1584.0,1416.4 L1584.5,1411.8 L1585.0,1416.1 L1585.5,1412.0 L1586.0,1416.4 L1586.5,1411.5 L1587.0,1416.5 L1587.5,1412.1 L1588.0,1416.3 L1588.5,1411.4 L1589.0,1416.4 L1589.5,1411.8 L1590.0,1415.9 L1590.5,1412.1 L1591.0,1416.4 L1591.5,1412.1 L1592.0,1416.5 L1592.5,1411.7 L1593.0,1416.2 L1593.5,1411.5 L1594.0,1416.5 L1594.5,1411.7 L1595.0,1415.9 L1595.5,1411.7 L1596.0,1416.1 L1596.5,1412.0 L1597.0,1416.5 L1597.5,1411.6 L1598.0,1415.9 L1598.5,1412.0 L1599.0,1416.1 L1599.5,1411.7 L1600.0,1416.1 L1600.5,1411.8 L1601.0,1416.5 L1601.5,1412.0 L1602.0,1416.4 L1602.5,1411.9 L1603.0,1416.6 L1603.5,1411.4 L1604.0,1416.1 L1604.5,1411.7 L1605.0,1415.9 L1605.5,1411.9 L1606.0,1416.3 L1606.5,1411.7 L1607.0,1416.1 L1607.5,1412.2 L1608.0,1415.9 L1608.5,1411.7 L1609.0,1416.0 L1609.5,1411.9 L1610.0,1416.3 L1610.5,1411.5 L1611.0,1416.2 L1611.5,1412.0 L1612.0,1416.3 L1612.5,1412.0 L1613.0,1416.4 L1613.5,1412.1 L1614.0,1416.0 L1614.5,1411.8 L1615.0,1416.5 L1615.5,1412.1 L1616.0,1416.0 L1616.5,1412.1 L1617.0,1416.0 L1617.5,1411.9 L1618.0,1416.1 L1618.5,1411.6 L1619.0,1416.1 L1619.5,1411.8 L1620.0,1416.1 L1620.5,1411.6 L1621.0,1416.5 L1621.5,1411.8 L1622.0,1416.5 L1622.5,1412.0 L1623.0,1416.6 L1623.5,1411.8 L1624.0,1416.4 L1624.5,1411.9 L1625.0,1416.0 L1625.5,1412.1 L1626.0,1416.5 L1626.5,1411.9 L1627.0,1416.4 L1627.5,1411.8 L1628.0,1416.2 L1628.5,1412.0 L1629.0,1416.0 L1629.5,1411.9 L1630.0,1416.4 L1630.5,1411.8 L1631.0,1415.8 L1631.5,1411.6 L1632.0,1416.2 L1632.5,1412.1 L1633.0,1416.0 L1633.5,1412.0 L1634.0,1416.5 L1634.5,1411.8 L1635.0,1416.1 L1635.5,1412.0 L1636.0,1416.0 L1636.5,1412.0 L1637.0,1416.1 L1637.5,1411.6 L1638.0,1416.4 L1638.5,1411.6 L1639.0,1416.5 L1639.5,1411.7 L1640.0,1415.9 L1640.5,1412.1 L1641.0,1415.9 L1641.5,1412.0 L1642.0,1416.2 L1642.5,1411.5 L1643.0,1416.3 L1643.5,1411.8 L1644.0,1416.0 L1644.5,1411.4 L1645.0,1416.4 L1645.5,1411.9 L1646.0,1415.9 L1646.5,1411.4 L1647.0,1416.0 L1647.5,1411.5 L1648.0,1415.9 L1648.5,1411.7 L1649.0,1416.1 L1649.5,1411.5 L1650.0,1416.1 L1650.5,1412.1 L1651.0,1416.0 L1651.5,1411.6 L1652.0,1416.6 L1652.5,1411.7 L1653.0,1416.4 L1653.5,1412.0 L1654.0,1416.0 L1654.5,1412.1 L1655.0,1416.6 L1655.5,1412.1 L1656.0,1416.3 L1656.5,1411.9 L1657.0,1416.0 L1657.5,1411.8 L1658.0,1416.5 L1658.5,1412.0 L1659.0,1415.9 L1659.5,1411.7 L1660.0,1416.3 L1660.5,1411.8 L1661.0,1416.0 L1661.5,1411.5 L1662.0,1415.9 L1662.5,1412.0 L1663.0,1416.0 L1663.5,1411.8 L1664.0,1416.2 L1664.5,1411.7 L1665.0,1416.4 L1665.5,1411.5 L1666.0,1416.2 L1666.5,1412.1 L1667.0,1416.5 L1667.5,1412.2 L1668.0,1416.1 L1668.5,1412.1 L1669.0,1416.3 L1669.5,1411.6 L1670.0,1415.9 L1670.5,1412.0 L1671.0,1416.5 L1671.5,1411.6 L1672.0,1415.9 L1672.5,1411.6 L1673.0,1416.4 L1673.5,1411.9 L1674.0,1415.9 L1674.5,1411.7 L1675.0,1416.1 L1675.5,1412.1 L1676.0,1415.9 L1676.5,1411.9 L1677.0,1415.9 L1677.5,1411.9 L1678.0,1416.3 L1678.5,1411.7 L1679.0,1416.1 L1679.5,1411.6 L1680.0,1415.9 L1680.5,1411.9 L1681.0,1416.5 L1681.5,1411.5 L1682.0,1416.5 L1682.5,1411.6 L1683.0,1416.2 L1683.5,1411.6 L1684.0,1416.3 L1684.5,1412.1 L1685.0,1416.0 L1685.5,1412.1 L1686.0,1416.5 L1686.5,1411.9 L1687.0,1416.1 L1687.5,1411.8 L1688.0,1415.9 L1688.5,1411.6 L1689.0,1416.4 L1689.5,1411.6 L1690.0,1416.5 L1690.5,1411.9 L1691.0,1415.9 L1691.5,1411.6 L1692.0,1416.4 L1692.5,1411.9 L1693.0,1416.1 L1693.5,1412.1 L1694.0,1416.5 L1694.5,1411.8 L1695.0,1416.5 L1695.5,1411.9 L1696.0,1416.1 L1696.5,1411.8 L1697.0,1416.4 L1697.5,1411.5 L1698.0,1416.1 L1698.5,1411.6 L1699.0,1416.1 L1699.5,1411.5 L1700.0,1416.4 L1700.5,1411.7 L1701.0,1416.1 L1701.5,1412.0 L1702.0,1416.5 L1702.5,1411.6 L1703.0,1416.1 L1703.5,1412.1 L1704.0,1416.0 L1704.5,1411.4 L1705.0,1415.9 L1705.5,1411.5 L1706.0,1416.2 L1706.5,1411.7 L1707.0,1416.2 L1707.5,1411.9 L1708.0,1416.3 L1708.5,1412.1 L1709.0,1416.5 L1709.5,1412.1 L1710.0,1415.9 L1710.5,1411.7 L1711.0,1416.3 L1711.5,1411.6 L1712.0,1416.4 L1712.5,1411.5 L1713.0,1415.9 L1713.5,1412.2 L1714.0,1416.0 L1714.5,1411.6 L1715.0,1415.9 L1715.5,1411.8 L1716.0,1416.4 L1716.5,1412.1 L1717.0,1416.2 L1717.5,1411.5 L1718.0,1416.4 L1718.5,1411.9 L1719.0,1416.2 L1719.5,1412.0 L1720.0,1416.6 L1720.5,1411.6 L1721.0,1416.4 L1721.5,1411.9 L1722.0,1416.4 L1722.5,1411.8 L1723.0,1416.4 L1723.5,1411.9 L1724.0,1416.5 L1724.5,1411.6 L1725.0,1416.2 L1725.5,1411.7 L1726.0,1416.4 L1726.5,1411.8 L1727.0,1416.6 L1727.5,1412.2 L1728.0,1416.5 L1728.5,1411.6 L1729.0,1416.2 L1729.5,1411.5 L1730.0,1415.9 L1730.5,1411.9 L1731.0,1416.4 L1731.5,1411.5 L1732.0,1416.1 L1732.5,1411.4 L1733.0,1416.3 L1733.5,1412.1 L1734.0,1415.9 L1734.5,1412.1 L1735.0,1416.3 L1735.5,1411.9 L1736.0,1416.0 L1736.5,1411.8 L1737.0,1415.9 L1737.5,1411.5 L1738.0,1416.5 L1738.5,1411.7 L1739.0,1416.2 L1739.5,1411.9 L1740.0,1416.3 L1740.5,1411.9 L1741.0,1416.6 L1741.5,1411.4 L1742.0,1416.4 L1742.5,1411.5 L1743.0,1415.9 L1743.5,1412.1 L1744.0,1416.1 L1744.5,1412.1 L1745.0,1416.1 L1745.5,1411.4 L1746.0,1416.5 L1746.5,1411.4 L1747.0,1416.0 L1747.5,1412.0 L1748.0,1415.8 L1748.5,1412.0 L1749.0,1415.9 L1749.5,1411.8 L1750.0,1416.1 L1750.5,1411.7 L1751.0,1416.3 L1751.5,1411.7 L1752.0,1416.1 L1752.5,1411.6 L1753.0,1416.4 L1753.5,1411.6 L1754.0,1416.2 L1754.5,1411.8 L1755.0,1416.0 L1755.5,1412.1 L1756.0,1416.2 L1756.5,1411.7 L1757.0,1416.0 L1757.5,1411.5 L1758.0,1416.5 L1758.5,1411.5 L1759.0,1416.5 L1759.5,1411.8 L1760.0,1416.0 L1760.5,1412.0 L1761.0,1416.4 L1761.5,1411.4 L1762.0,1415.9 L1762.5,1412.2 L1763.0,1416.1 L1763.5,1411.9 L1764.0,1416.3 L1764.5,1412.1 L1765.0,1416.5 L1765.5,1411.9 L1766.0,1416.5 L1766.5,1411.9 L1767.0,1416.1 L1767.5,1412.0 L1768.0,1416.6 L1768.5,1411.7 L1769.0,1416.5 L1769.5,1412.1 L1770.0,1416.2 L1770.5,1411.6 L1771.0,1416.6 L1771.5,1411.4 L1772.0,1415.9 L1772.5,1411.9 L1773.0,1416.6 L1773.5,1411.8 L1774.0,1416.6 L1774.5,1412.0 L1775.0,1415.8 L1775.5,1411.4 L1776.0,1416.0 L1776.5,1411.7 L1777.0,1416.1 L1777.5,1411.7 L1778.0,1416.5 L1778.5,1411.4 L1779.0,1416.5 L1779.5,1412.0 L1780.0,1416.5 L1780.5,1412.2 L1781.0,1416.1 L1781.5,1411.4 L1782.0,1416.0 L1782.5,1411.9 L1783.0,1416.3 L1783.5,1412.0 L1784.0,1416.4 L1784.5,1411.7 L1785.0,1415.9 L1785.5,1411.5 L1786.0,1415.9 L1786.5,1411.6 L1787.0,1416.1 L1787.5,1412.1 L1788.0,1415.9 L1788.5,1411.4 L1789.0,1416.4 L1789.5,1411.8 L1790.0,1416.4 L1790.5,1411.4 L1791.0,1416.5 L1791.5,1411.8 L1792.0,1416.0 L1792.5,1411.8 L1793.0,1416.6 L1793.5,1411.6 L1794.0,1416.3 L1794.5,1411.5 L1795.0,1416.1 L1795.5,1411.7 L1796.0,1416.5 L1796.5,1412.0 L1797.0,1416.5 L1797.5,1412.2 L1798.0,1416.2 L1798.5,1411.7 L1799.0,1415.9 L1799.5,1411.5 L1800.0,1416.2 L1800.5,1412.0 L1801.0,1416.1 L1801.5,1411.7 L1802.0,1416.2 L1802.5,1412.2 L1803.0,1415.9 L1803.5,1411.6 L1804.0,1415.9 L1804.5,1412.0 L1805.0,1416.4 L1805.5,1411.5 L1806.0,1416.5 L1806.5,1412.0 L1807.0,1415.8 L1807.5,1411.6 L1808.0,1416.3 L1808.5,1411.9 L1809.0,1415.8 L1809.5,1411.8 L1810.0,1416.0 L1810.5,1411.7 L1811.0,1416.6 L1811.5,1412.0 L1812.0,1415.9 L1812.5,1411.6 L1813.0,1415.9 L1813.5,1412.0 L1814.0,1416.2 L1814.5,1411.4 L1815.0,1416.1 L1815.5,1411.9 L1816.0,1416.2 L1816.5,1412.1 L1817.0,1416.1 L1817.5,1411.6 L1818.0,1416.1 L1818.5,1411.6 L1819.0,1416.0 L1819.5,1412.1 L1820.0,1416.3 L1820.5,1411.8 L1821.0,1416.5 L1821.5,1412.1 L1822.0,1416.4 L1822.5,1411.7 L1823.0,1416.1 L1823.5,1412.1 L1824.0,1416.3 L1824.5,1411.6 L1825.0,1416.2 L1825.5,1411.8 L1826.0,1416.4 L1826.5,1411.7 L1827.0,1416.2 L1827.5,1412.0 L1828.0,1416.2 L1828.5,1411.8 L1829.0,1416.5 L1829.5,1411.4 L1830.0,1416.3 L1830.5,1411.9 L1831.0,1416.0 L1831.5,1411.7 L1832.0,1416.4 L1832.5,1412.0 L1833.0,1416.4 L1833.5,1411.4 L1834.0,1416.1 L1834.5,1411.4 L1835.0,1416.2 L1835.5,1411.7 L1836.0,1416.5 L1836.5,1412.0 L1837.0,1416.1 L1837.5,1411.4 L1838.0,1415.9 L1838.5,1411.9 L1839.0,1416.2 L1839.5,1411.6 L1840.0,1416.3 L1840.5,1411.5 L1841.0,1416.3 L1841.5,1412.2 L1842.0,1415.9 L1842.5,1412.2 L1843.0,1416.2 L1843.5,1412.2 L1844.0,1416.2 L1844.5,1411.7 L1845.0,1416.0 L1845.5,1411.4 L1846.0,1416.0 L1846.5,1411.2 L1847.0,1415.8 L1847.5,1411.4 L1848.0,1415.9 L1848.5,1411.5 L1849.0,1415.9 L1849.5,1411.6 L1850.0,1415.4 L1850.5,1411.2 L1851.0,1415.8 L1851.5,1411.0 L1852.0,1415.0 L1852.5,1411.0 L1853.0,1415.3 L1853.5,1410.5 L1854.0,1414.8 L1854.5,1410.4 L1855.0,1414.9 L1855.5,1410.5 L1856.0,1414.8 L1856.5,1410.4 L1857.0,1415.1 L1857.5,1409.9 L1858.0,1414.9 L1858.5,1409.9 L1859.0,1414.6 L1859.5,1410.3 L1860.0,1414.0 L1860.5,1409.6 L1861.0,1414.3 L1861.5,1409.6 L1862.0,1413.9 L1862.5,1409.8 L1863.0,1414.3 L1863.5,1409.5 L1864.0,1413.5 L1864.5,1409.5 L1865.0,1413.6 L1865.5,1409.6 L1866.0,1414.1 L1866.5,1409.0 L1867.0,1414.0 L1867.5,1409.7 L1868.0,1413.6 L1868.5,1409.6 L1869.0,1413.9 L1869.5,1409.0 L1870.0,1413.9 L1870.5,1409.1 L1871.0,1413.4 L1871.5,1409.7 L1872.0,1413.4 L1872.5,1409.0 L1873.0,1414.0 L1873.5,1409.3 L1874.0,1413.5 L1874.5,1409.0 L1875.0,1413.4 L1875.5,1409.4 L1876.0,1413.3 L1876.5,1408.9 L1877.0,1413.6 L1877.5,1409.1 L1878.0,1413.9 L1878.5,1409.2 L1879.0,1414.1 L1879.5,1409.1 L1880.0,1414.0 L1880.5,1408.9 L1881.0,1413.4 L1881.5,1409.1 L1882.0,1413.5 L1882.5,1409.4 L1883.0,1413.6 L1883.5,1408.9 L1884.0,1413.4 L1884.5,1409.3 L1885.0,1413.4 L1885.5,1409.0 L1886.0,1413.9 L1886.5,1409.4 L1887.0,1414.1 L1887.5,1409.5 L1888.0,1414.1 L1888.5,1409.9 L1889.0,1414.6 L1889.5,1409.9 L1890.0,1414.8 L1890.5,1410.4 L1891.0,1415.0 L1891.5,1410.2 L1892.0,1414.9 L1892.5,1410.6 L1893.0,1415.1 L1893.5,1411.0 L1894.0,1414.9 L1894.5,1411.0 L1895.0,1415.1 L1895.5,1411.4 L1896.0,1415.7 L1896.5,1411.0 L1897.0,1415.8 L1897.5,1411.6 L1898.0,1416.0 L1898.5,1411.3 L1899.0,1416.1 L1899.5,1411.9 L1900.0,1416.3 L1900.5,1411.9 L1901.0,1416.0 L1901.5,1412.1 L1902.0,1416.5 L1902.5,1411.7 L1903.0,1416.5 L1903.5,1412.0 L1904.0,1416.0 L1904.5,1411.8 L1905.0,1415.9 L1905.5,1411.9 L1906.0,1416.2 L1906.5,1411.8 L1907.0,1416.5 L1907.5,1411.7 L1908.0,1416.3 L1908.5,1411.7 L1909.0,1416.4 L1909.5,1411.9 L1910.0,1415.8 L1910.5,1411.4 L1911.0,1416.4 L1911.5,1412.1 L1912.0,1415.9 L1912.5,1412.0 L1913.0,1416.3 L1913.5,1412.1 L1914.0,1415.8 L1914.5,1411.8 L1915.0,1415.8 L1915.5,1412.0 L1916.0,1416.1 L1916.5,1412.0 L1917.0,1415.8 L1917.5,1412.0 L1918.0,1416.0 L1918.5,1411.9 L1919.0,1416.1 L1919.5,1411.9 L1920.0,1416.1 L1920.5,1412.2 L1921.0,1416.5 L1921.5,1411.6 L1922.0,1416.2 L1922.5,1412.2 L1923.0,1416.0 L1923.5,1411.5 L1924.0,1416.2 L1924.5,1412.0 L1925.0,1416.5 L1925.5,1411.5 L1926.0,1415.9 L1926.5,1411.8 L1927.0,1416.3 L1927.5,1412.1 L1928.0,1416.1 L1928.5,1411.7 L1929.0,1416.3 L1929.5,1411.7 L1930.0,1416.3 L1930.5,1411.9 L1931.0,1415.9 L1931.5,1412.2 L1932.0,1416.5 L1932.5,1411.5 L1933.0,1416.5 L1933.5,1412.1 L1934.0,1416.4 L1934.5,1412.0 L1935.0,1416.1 L1935.5,1412.0 L1936.0,1416.5 L1936.5,1411.5 L1937.0,1416.5 L1937.5,1411.9 L1938.0,1416.6 L1938.5,1412.0 L1939.0,1416.3 L1939.5,1411.7 L1940.0,1416.0 L1940.5,1411.9 L1941.0,1415.9 L1941.5,1411.6 L1942.0,1416.0 L1942.5,1412.1 L1943.0,1416.0 L1943.5,1411.7 L1944.0,1416.3 L1944.5,1411.8 L1945.0,1416.5 L1945.5,1411.6 L1946.0,1416.0 L1946.5,1411.8 L1947.0,1416.0 L1947.5,1412.0 L1948.0,1415.9 L1948.5,1412.1 L1949.0,1416.1 L1949.5,1411.5 L1950.0,1416.3 L1950.5,1412.1 L1951.0,1416.0 L1951.5,1411.7 L1952.0,1416.2 L1952.5,1412.2 L1953.0,1415.9 L1953.5,1411.7 L1954.0,1416.3 L1954.5,1412.1 L1955.0,1416.4 L1955.5,1412.0 L1956.0,1416.3 L1956.5,1411.8 L1957.0,1416.1 L1957.5,1411.4 L1958.0,1416.1 L1958.5,1411.8 L1959.0,1416.2 L1959.5,1411.5 L1960.0,1416.6 L1960.5,1411.6 L1961.0,1416.2 L1961.5,1411.6 L1962.0,1416.3 L1962.5,1411.4 L1963.0,1416.6 L1963.5,1411.6 L1964.0,1416.0 L1964.5,1411.7 L1965.0,1416.2 L1965.5,1412.0 L1966.0,1416.4 L1966.5,1412.0 L1967.0,1416.4 L1967.5,1411.8 L1968.0,1416.2 L1968.5,1411.6 L1969.0,1416.4 L1969.5,1411.4 L1970.0,1416.6 L1970.5,1411.6 L1971.0,1416.0 L1971.5,1411.7 L1972.0,1416.2 L1972.5,1411.4 L1973.0,1416.2 L1973.5,1411.9 L1974.0,1415.8 L1974.5,1411.8 L1975.0,1416.2 L1975.5,1411.9 L1976.0,1415.9 L1976.5,1411.8 L1977.0,1415.9 L1977.5,1412.0 L1978.0,1416.2 L1978.5,1411.9 L1979.0,1416.2 L1979.5,1411.8 L1980.0,1416.1 L1980.5,1412.1 L1981.0,1415.8 L1981.5,1411.7 L1982.0,1416.6 L1982.5,1412.0 L1983.0,1416.1 L1983.5,1411.9 L1984.0,1416.4 L1984.5,1411.8 L1985.0,1416.4 L1985.5,1412.2 L1986.0,1415.9 L1986.5,1412.0 L1987.0,1416.1 L1987.5,1411.9 L1988.0,1416.1 L1988.5,1411.4 L1989.0,1416.2 L1989.5,1411.7 L1990.0,1416.6 L1990.5,1411.7 L1991.0,1416.3 L1991.5,1411.5 L1992.0,1416.1 L1992.5,1412.2 L1993.0,1416.6 L1993.5,1411.8 L1994.0,1416.3 L1994.5,1412.1 L1995.0,1416.4 L1995.5,1411.9 L1996.0,1416.3 L1996.5,1412.0 L1997.0,1416.5 L1997.5,1411.9 L1998.0,1416.0 L1998.5,1411.5 L1999.0,1416.0 L1999.5,1412.0 L2000.0,1416.2 L2000.5,1411.4 L2001.0,1415.9 L2001.5,1412.0 L2002.0,1416.4 L2002.5,1412.1 L2003.0,1416.1 L2003.5,1411.6 L2004.0,1416.4 L2004.5,1411.6 L2005.0,1415.9 L2005.5,1411.5 L2006.0,1416.1 L2006.5,1411.5 L2007.0,1416.2 L2007.5,1411.5 L2008.0,1416.2 L2008.5,1412.0 L2009.0,1415.9 L2009.5,1411.8 L2010.0,1415.9 L2010.5,1412.1 L2011.0,1416.5 L2011.5,1411.7 L2012.0,1416.5 L2012.5,1412.1 L2013.0,1416.2 L2013.5,1411.8 L2014.0,1415.9 L2014.5,1412.0 L2015.0,1416.5 L2015.5,1411.6 L2016.0,1416.2 L2016.5,1411.7 L2017.0,1416.5 L2017.5,1411.4 L2018.0,1416.3 L2018.5,1412.1 L2019.0,1416.5 L2019.5,1412.1 L2020.0,1416.0 L2020.5,1412.1 L2021.0,1416.2 L2021.5,1411.7 L2022.0,1416.2 L2022.5,1411.8 L2023.0,1415.9 L2023.5,1411.6 L2024.0,1416.2 L2024.5,1411.9 L2025.0,1416.5 L2025.5,1411.4 L2026.0,1416.5 L2026.5,1411.4 L2027.0,1415.9 L2027.5,1411.9 L2028.0,1416.2 L2028.5,1412.0 L2029.0,1416.4 L2029.5,1411.5 L2030.0,1415.9 L2030.5,1411.8 L2031.0,1416.6 L2031.5,1411.5 L2032.0,1416.2 L2032.5,1412.1 L2033.0,1416.2 L2033.5,1411.8 L2034.0,1416.4 L2034.5,1412.0 L2035.0,1416.0 L2035.5,1411.4 L2036.0,1415.8 L2036.5,1411.7 L2037.0,1415.9 L2037.5,1411.6 L2038.0,1416.2 L2038.5,1411.5 L2039.0,1416.0 L2039.5,1411.5 L2040.0,1416.0 L2040.5,1412.1 L2041.0,1415.9 L2041.5,1412.1 L2042.0,1416.1 L2042.5,1411.4 L2043.0,1416.1 L2043.5,1411.6 L2044.0,1415.8 L2044.5,1411.8 L2045.0,1416.2 L2045.5,1412.1 L2046.0,1416.3 L2046.5,1411.8 L2047.0,1416.1 L2047.5,1411.5 L2048.0,1416.4 L2048.5,1412.1 L2049.0,1415.9 L2049.5,1412.1 L2050.0,1416.0 L2050.5,1411.7 L2051.0,1416.6 L2051.5,1411.4 L2052.0,1416.5 L2052.5,1412.1 L2053.0,1416.4 L2053.5,1411.6 L2054.0,1416.2 L2054.5,1411.4 L2055.0,1416.3 L2055.5,1412.1 L2056.0,1416.0 L2056.5,1412.1 L2057.0,1416.3 L2057.5,1411.7 L2058.0,1416.5 L2058.5,1412.2 L2059.0,1415.8 L2059.5,1411.4 L2060.0,1416.0 L2060.5,1412.0 L2061.0,1416.5 L2061.5,1412.1 L2062.0,1416.4 L2062.5,1411.5 L2063.0,1416.3 L2063.5,1411.7 L2064.0,1415.8 L2064.5,1411.7 L2065.0,1416.3 L2065.5,1411.6 L2066.0,1416.2 L2066.5,1412.1 L2067.0,1416.0 L2067.5,1411.7 L2068.0,1415.9 L2068.5,1412.1 L2069.0,1416.0 L2069.5,1411.6 L2070.0,1416.2 L2070.5,1411.9 L2071.0,1416.6 L2071.5,1411.7 L2072.0,1416.0 L2072.5,1411.7 L2073.0,1416.5 L2073.5,1411.9 L2074.0,1416.2 L2074.5,1411.7 L2075.0,1416.6 L2075.5,1411.7 L2076.0,1416.0 L2076.5,1411.7 L2077.0,1416.1 L2077.5,1411.8 L2078.0,1416.4 L2078.5,1412.2 L2079.0,1416.2 L2079.5,1411.9 L2080.0,1416.3 L2080.5,1411.5 L2081.0,1416.2 L2081.5,1411.7 L2082.0,1416.0 L2082.5,1412.0 L2083.0,1416.2 L2083.5,1411.8 L2084.0,1416.0 L2084.5,1411.6 L2085.0,1416.2 L2085.5,1411.9 L2086.0,1416.0 L2086.5,1411.5 L2087.0,1416.5 L2087.5,1411.4 L2088.0,1416.0 L2088.5,1412.1 L2089.0,1416.3 L2089.5,1412.2 L2090.0,1416.5 L2090.5,1411.7 L2091.0,1416.1 L2091.5,1411.8 L2092.0,1416.4 L2092.5,1412.1 L2093.0,1416.1 L2093.5,1411.6 L2094.0,1416.4 L2094.5,1411.7 L2095.0,1415.9 L2095.5,1412.0 L2096.0,1416.0 L2096.5,1412.2 L2097.0,1416.3 L2097.5,1411.7 L2098.0,1416.5 L2098.5,1411.7 L2099.0,1416.5 L2099.5,1411.8 L2100.0,1416.2 L2100.5,1412.0 L2101.0,1416.2 L2101.5,1411.4 L2102.0,1416.2 L2102.5,1412.2 L2103.0,1416.1 L2103.5,1412.0 L2104.0,1416.3 L2104.5,1411.8 L2105.0,1416.2 L2105.5,1411.5 L2106.0,1416.4 L2106.5,1412.1 L2107.0,1415.8 L2107.5,1411.6 L2108.0,1416.3 L2108.5,1411.7 L2109.0,1416.2 L2109.5,1412.2 L2110.0,1416.2 L2110.5,1411.5 L2111.0,1416.3 L2111.5,1412.1 L2112.0,1415.9 L2112.5,1411.5 L2113.0,1416.2 L2113.5,1412.1 L2114.0,1416.4 L2114.5,1411.5 L2115.0,1416.5 L2115.5,1411.7 L2116.0,1416.4" fill="none" stroke="#00f" stroke-width="7" stroke-linejoin="round"/><path d="M286.0,1414.0 L289.5,1408.0 L291.5,1400.0 L293.4,1395.0 L295.5,1398.0 L298.0,1404.0 L301.5,1409.0 L306.0,1412.0 L312.0,1414.0 L334.0,1414.0 L337.5,1409.0 L341.0,1405.5 L346.0,1405.0 L352.0,1406.0 L357.5,1405.0 L361.5,1408.0 L365.0,1412.0 L370.0,1414.0 L432.0,1414.0 L436.0,1410.0 L439.0,1404.0 L441.5,1393.0 L443.5,1380.0 L445.5,1370.0 L447.3,1365.5 L449.3,1371.0 L451.5,1381.0 L454.0,1392.0 L457.5,1401.0 L462.0,1407.0 L468.0,1410.5 L478.0,1412.5 L500.0,1414.0 L505.0,1412.0 L510.0,1410.0 L517.0,1409.5 L523.0,1410.0 L528.0,1410.5 L533.0,1413.0 L540.0,1414.0 L582.0,1414.0 L586.0,1411.0 L589.5,1405.0 L592.5,1393.0 L595.0,1382.0 L597.0,1372.0 L598.8,1368.5 L600.8,1373.0 L603.0,1383.0 L606.0,1394.0 L610.0,1402.0 L615.0,1406.5 L622.0,1410.0 L632.0,1412.5 L805.0,1414.0 L811.0,1413.0 L815.0,1410.0 L818.5,1401.0 L821.5,1385.0 L824.0,1365.0 L826.5,1343.0 L828.5,1330.0 L830.8,1324.0 L833.0,1330.0 L835.0,1340.0 L836.9,1351.0 L838.5,1340.0 L841.0,1330.0 L843.5,1326.0 L845.7,1324.5 L848.0,1331.0 L850.5,1343.0 L853.5,1358.0 L856.5,1370.0 L860.0,1382.0 L864.0,1393.0 L868.0,1400.5 L872.5,1405.0 L878.0,1409.0 L885.0,1411.5 L895.0,1413.5 L905.0,1414.0 L1206.0,1414.0 L1211.0,1412.0 L1214.5,1408.0 L1217.5,1397.0 L1220.5,1378.0 L1223.5,1352.0 L1226.5,1338.0 L1229.7,1327.0 L1231.2,1318.0 L1232.8,1315.5 L1234.5,1318.0 L1236.5,1325.0 L1238.6,1333.0 L1240.5,1322.0 L1242.5,1305.0 L1244.0,1296.0 L1245.8,1292.0 L1248.3,1300.0 L1250.8,1318.0 L1253.7,1338.0 L1257.0,1357.0 L1260.5,1372.0 L1264.0,1384.0 L1267.4,1392.0 L1272.0,1399.0 L1278.0,1404.5 L1286.0,1408.5 L1296.0,1411.5 L1310.0,1413.5 L1325.0,1414.0 L1440.0,1414.0 L1460.0,1412.5 L1480.0,1412.5 L1500.0,1414.0 L1845.0,1414.0 L1865.0,1411.5 L1885.0,1411.5 L1900.0,1414.0" fill="none" stroke="#00f" stroke-width="7" stroke-linejoin="round"/><path d="M193.5,41.3h1934v9.9h-1934z M193.5,1418.5h1934v9.6h-1934z M193.5,41.3h11.4v1386.8h-11.4z M2116.4,41.3h11.1v1386.8h-11.1z M193.5,729.6h1934v9.6h-1934z" fill="#000"/><path d="M1150.5,1106.8 L1150.8,1083.0 L1151.0,1104.2 L1151.2,1080.7 L1151.5,1105.3 L1151.8,1080.9 L1152.0,1103.7 L1152.2,1075.8 L1152.5,1108.3 L1152.8,1082.8 L1153.0,1106.6 L1153.2,1082.4 L1153.5,1110.4 L1153.8,1084.0 L1154.0,1106.8 L1154.2,1084.0 L1154.5,1117.2 L1154.8,1079.9 L1155.0,1103.3 L1155.2,1081.7 L1155.5,1103.0 L1155.8,1076.2 L1156.0,1111.8 L1156.2,1083.1 L1156.5,1117.3 L1156.8,1079.0 L1157.0,1104.1 L1157.2,1073.6 L1157.5,1106.8 L1157.8,1077.3 L1158.0,1104.8 L1158.2,1081.5 L1158.5,1107.0 L1158.8,1081.7 L1159.0,1107.4 L1159.2,1079.2 L1159.5,1111.9 L1159.8,1082.2 L1160.0,1104.2 L1160.2,1082.8 L1160.5,1104.2 L1160.8,1079.4 L1161.0,1106.6 L1161.2,1079.3 L1161.5,1102.8 L1161.8,1082.3 L1162.0,1107.3 L1162.2,1077.5 L1162.5,1103.4 L1162.8,1081.3 L1163.0,1103.9 L1163.2,1080.7 L1163.5,1103.7 L1163.8,1074.1 L1164.0,1104.1 L1164.2,1073.5 L1164.5,1118.2 L1164.8,1081.4 L1165.0,1102.9 L1165.2,1078.1 L1165.5,1103.8 L1165.8,1077.0 L1166.0,1104.0 L1166.2,1078.1 L1166.5,1103.0 L1166.8,1081.7 L1167.0,1107.8 L1167.2,1081.9 L1167.5,1102.8 L1167.8,1081.5 L1168.0,1124.4 L1168.2,1074.7 L1168.5,1104.0 L1168.8,1076.0 L1169.0,1106.3 L1169.2,1080.7 L1169.5,1102.6 L1169.8,1080.7 L1170.0,1105.7 L1170.2,1079.2 L1170.5,1107.9 L1170.8,1073.3 L1171.0,1104.5 L1171.2,1082.3 L1171.5,1102.9 L1171.8,1078.2 L1172.0,1105.0 L1172.2,1079.4 L1172.5,1107.3 L1172.8,1080.7 L1173.0,1102.5 L1173.2,1081.9 L1173.5,1105.7 L1173.8,1078.4 L1174.0,1109.8 L1174.2,1081.0 L1174.5,1112.6 L1174.8,1078.9 L1175.0,1105.7 L1175.2,1081.5 L1175.5,1112.2 L1175.8,1084.0 L1176.0,1109.3 L1176.2,1082.8 L1176.5,1105.0 L1176.8,1081.9 L1177.0,1106.6 L1177.2,1080.8 L1177.5,1107.3 L1177.8,1083.3 L1178.0,1112.6 L1178.2,1079.0 L1178.5,1127.4 L1178.8,1067.4 L1179.0,1103.6 L1179.2,1081.7 L1179.5,1106.2 L1179.8,1079.0 L1180.0,1110.8 L1180.2,1078.4 L1180.5,1105.2 L1180.8,1082.2 L1181.0,1110.3 L1181.2,1079.2 L1181.5,1110.8 L1181.8,1071.6 L1182.0,1109.4 L1182.2,1082.8 L1182.5,1111.9 L1182.8,1081.8 L1183.0,1104.1 L1183.2,1081.3 L1183.5,1115.4 L1183.8,1084.2 L1184.0,1107.2 L1184.2,1082.8 L1184.5,1109.3 L1184.8,1080.9 L1185.0,1109.4 L1185.2,1081.4 L1185.5,1109.8 L1185.8,1079.4 L1186.0,1104.7 L1186.2,1081.7 L1186.5,1105.1 L1186.8,1070.1 L1187.0,1103.9 L1187.2,1082.4 L1187.5,1105.3 L1187.8,1083.9 L1188.0,1112.2 L1188.2,1081.8 L1188.5,1111.7 L1188.8,1083.8 L1189.0,1106.2 L1189.2,1076.6 L1189.5,1107.5 L1189.8,1084.2 L1190.0,1106.5 L1190.2,1072.8 L1190.5,1104.2 L1190.8,1084.4 L1191.0,1120.1 L1191.2,1084.0 L1191.5,1111.3 L1191.8,1083.6 L1192.0,1109.8 L1192.2,1085.6 L1192.5,1107.8 L1192.8,1077.9 L1193.0,1106.4 L1193.2,1085.9 L1193.5,1109.6 L1193.8,1084.7 L1194.0,1105.2 L1194.2,1083.6 L1194.5,1104.8 L1194.8,1082.9 L1195.0,1106.0 L1195.2,1074.1 L1195.5,1109.8 L1195.8,1085.4 L1196.0,1105.5 L1196.2,1085.2 L1196.5,1107.6 L1196.8,1075.1 L1197.0,1114.0 L1197.2,1081.0 L1197.5,1111.5 L1197.8,1080.0 L1198.0,1105.7 L1198.2,1081.1 L1198.5,1104.3 L1198.8,1077.4 L1199.0,1110.4 L1199.2,1085.8 L1199.5,1105.2 L1199.8,1084.6 L1200.0,1106.8 L1200.2,1083.8 L1200.5,1109.4 L1200.8,1084.8 L1201.0,1105.2 L1201.2,1083.5 L1201.5,1108.5 L1201.8,1081.1 L1202.0,1113.7 L1202.2,1082.6 L1202.5,1113.3 L1202.8,1084.2 L1203.0,1105.4 L1203.2,1078.8 L1203.5,1115.2 L1203.8,1082.9 L1204.0,1114.9 L1204.2,1085.7 L1204.5,1112.2 L1204.8,1083.6 L1205.0,1111.1 L1205.2,1082.0 L1205.5,1112.6 L1205.8,1085.9 L1206.0,1108.0 L1206.2,1080.1 L1206.5,1107.5 L1206.8,1075.9 L1207.0,1112.9 L1207.2,1083.5 L1207.5,1105.5 L1207.8,1085.5 L1208.0,1106.8 L1208.2,1083.9 L1208.5,1110.0 L1208.8,1083.6 L1209.0,1108.1 L1209.2,1085.6 L1209.5,1116.6 L1209.8,1086.0 L1210.0,1111.3 L1210.2,1080.7 L1210.5,1110.7 L1210.8,1085.9 L1211.0,1111.8 L1211.2,1086.9 L1211.5,1111.9 L1211.8,1087.2 L1212.0,1109.2 L1212.2,1083.8 L1212.5,1105.9 L1212.8,1086.2 L1213.0,1108.0 L1213.2,1081.9 L1213.5,1105.0 L1213.8,1074.9 L1214.0,1114.7 L1214.2,1079.7 L1214.5,1112.4 L1214.8,1081.5 L1215.0,1112.1 L1215.2,1072.5 L1215.5,1107.5 L1215.8,1080.8 L1216.0,1113.1 L1216.2,1085.3 L1216.5,1108.2 L1216.8,1084.2 L1217.0,1110.8 L1217.2,1081.5 L1217.5,1111.1 L1217.8,1085.7 L1218.0,1109.0 L1218.2,1085.9 L1218.5,1108.9 L1218.8,1083.5 L1219.0,1108.6 L1219.2,1085.8 L1219.5,1108.8 L1219.8,1087.5 L1220.0,1106.5 L1220.2,1084.3 L1220.5,1109.0 L1220.8,1086.5 L1221.0,1114.7 L1221.2,1086.4 L1221.5,1106.6 L1221.8,1084.8 L1222.0,1116.1 L1222.2,1086.8 L1222.5,1107.1 L1222.8,1082.9 L1223.0,1113.9 L1223.2,1084.5 L1223.5,1106.0 L1223.8,1084.7 L1224.0,1109.7 L1224.2,1081.8 L1224.5,1109.5 L1224.8,1082.3 L1225.0,1104.2 L1225.2,1083.8 L1225.5,1112.0 L1225.8,1085.0 L1226.0,1104.9 L1226.2,1085.0 L1226.5,1106.2 L1226.8,1084.0 L1227.0,1106.3 L1227.2,1083.8 L1227.5,1106.9 L1227.8,1073.4 L1228.0,1105.6 L1228.2,1077.4 L1228.5,1106.6 L1228.8,1076.7 L1229.0,1109.2 L1229.2,1085.4 L1229.5,1105.2 L1229.8,1081.6 L1230.0,1108.4 L1230.2,1084.7 L1230.5,1109.9 L1230.8,1081.1 L1231.0,1111.5 L1231.2,1085.3 L1231.5,1108.8 L1231.8,1068.7 L1232.0,1107.7 L1232.2,1083.7 L1232.5,1107.4 L1232.8,1074.4 L1233.0,1104.7 L1233.2,1078.0 L1233.5,1107.1 L1233.8,1082.6 L1234.0,1104.8 L1234.2,1084.1 L1234.5,1107.2 L1234.8,1084.3 L1235.0,1107.5 L1235.2,1081.9 L1235.5,1110.3 L1235.8,1084.6 L1236.0,1106.6 L1236.2,1083.2 L1236.5,1104.7 L1236.8,1084.7 L1237.0,1113.8 L1237.2,1074.4 L1237.5,1111.3 L1237.8,1086.3 L1238.0,1105.5 L1238.2,1086.2 L1238.5,1108.8 L1238.8,1086.6 L1239.0,1108.1 L1239.2,1086.6 L1239.5,1120.1 L1239.8,1078.7 L1240.0,1105.2 L1240.2,1071.3 L1240.5,1108.7 L1240.8,1083.0 L1241.0,1111.0 L1241.2,1085.1 L1241.5,1106.7 L1241.8,1076.1 L1242.0,1104.0 L1242.2,1075.4 L1242.5,1113.3 L1242.8,1083.3 L1243.0,1105.5 L1243.2,1077.5 L1243.5,1104.5 L1243.8,1078.2 L1244.0,1102.8 L1244.2,1077.1 L1244.5,1103.3 L1244.8,1076.5 L1245.0,1104.0 L1245.2,1078.1 L1245.5,1114.0 L1245.8,1075.3 L1246.0,1103.7 L1246.2,1078.6 L1246.5,1112.8 L1246.8,1075.9 L1247.0,1105.6 L1247.2,1078.4 L1247.5,1112.6 L1247.8,1073.3 L1248.0,1103.2 L1248.2,1072.2 L1248.5,1120.4 L1248.8,1078.6 L1249.0,1106.2 L1249.2,1081.0 L1249.5,1103.3 L1249.8,1082.2 L1250.0,1104.3 L1250.2,1078.2 L1250.5,1115.4 L1250.8,1082.9 L1251.0,1101.5 L1251.2,1082.2 L1251.5,1101.9 L1251.8,1073.3 L1252.0,1102.8 L1252.2,1072.1 L1252.5,1103.2 L1252.8,1081.8 L1253.0,1102.8 L1253.2,1076.7 L1253.5,1106.5 L1253.8,1077.7 L1254.0,1104.2 L1254.2,1077.4 L1254.5,1101.2 L1254.8,1081.6 L1255.0,1101.2 L1255.2,1068.9 L1255.5,1106.7 L1255.8,1081.4 L1256.0,1105.8 L1256.2,1080.0 L1256.5,1100.3 L1256.8,1072.6 L1257.0,1099.5 L1257.2,1078.9 L1257.5,1101.5 L1257.8,1079.2 L1258.0,1100.3 L1258.2,1077.8 L1258.5,1098.6 L1258.8,1075.0 L1259.0,1108.4 L1259.2,1079.7 L1259.5,1102.6 L1259.8,1066.0 L1260.0,1102.0 L1260.2,1072.8 L1260.5,1100.6 L1260.8,1071.2 L1261.0,1098.8 L1261.2,1059.5 L1261.5,1098.1 L1261.8,1071.2 L1262.0,1101.0 L1262.2,1077.4 L1262.5,1113.5 L1262.8,1075.6 L1263.0,1111.9 L1263.2,1070.2 L1263.5,1100.2 L1263.8,1080.1 L1264.0,1098.7 L1264.2,1080.5 L1264.5,1107.2 L1264.8,1081.2 L1265.0,1105.9 L1265.2,1075.7 L1265.5,1100.8 L1265.8,1073.8 L1266.0,1104.8 L1266.2,1078.7 L1266.5,1105.0 L1266.8,1080.9 L1267.0,1105.1 L1267.2,1082.7 L1267.5,1106.8 L1267.8,1074.5 L1268.0,1108.0 L1268.2,1079.0 L1268.5,1103.0 L1268.8,1082.4 L1269.0,1107.5 L1269.2,1079.9 L1269.5,1109.7 L1269.8,1070.1 L1270.0,1103.1 L1270.2,1076.5 L1270.5,1113.3 L1270.8,1074.3 L1271.0,1105.0 L1271.2,1078.7 L1271.5,1102.9 L1271.8,1080.5 L1272.0,1106.0 L1272.2,1080.0 L1272.5,1106.7 L1272.8,1083.6 L1273.0,1103.6 L1273.2,1080.1 L1273.5,1108.7 L1273.8,1082.7 L1274.0,1103.9 L1274.2,1061.1 L1274.5,1104.9 L1274.8,1064.0 L1275.0,1104.6 L1275.2,1075.0 L1275.5,1102.2 L1275.8,1075.9 L1276.0,1104.6 L1276.2,1078.6 L1276.5,1101.9 L1276.8,1064.6 L1277.0,1105.6 L1277.2,1077.9 L1277.5,1103.5 L1277.8,1078.1 L1278.0,1104.4 L1278.2,1083.1 L1278.5,1106.6 L1278.8,1082.2 L1279.0,1103.5 L1279.2,1080.0 L1279.5,1108.5 L1279.8,1079.3 L1280.0,1108.2 L1280.2,1079.0 L1280.5,1108.7 L1280.8,1080.0 L1281.0,1105.1 L1281.2,1081.4 L1281.5,1107.6 L1281.8,1077.3 L1282.0,1110.4 L1282.2,1057.7 L1282.5,1107.6 L1282.8,1080.0 L1283.0,1103.0 L1283.2,1081.4 L1283.5,1102.5 L1283.8,1081.6 L1284.0,1109.1 L1284.2,1076.8 L1284.5,1101.8 L1284.8,1082.2 L1285.0,1104.3 L1285.2,1074.6 L1285.5,1103.8 L1285.8,1081.5 L1286.0,1106.8 L1286.2,1082.5 L1286.5,1103.0 L1286.8,1078.1 L1287.0,1101.3 L1287.2,1079.1 L1287.5,1101.1 L1287.8,1076.3 L1288.0,1107.7 L1288.2,1076.3 L1288.5,1101.6 L1288.8,1081.5 L1289.0,1110.7 L1289.2,1071.0 L1289.5,1102.0 L1289.8,1069.9 L1290.0,1119.4 L1290.2,1078.6 L1290.5,1111.2 L1290.8,1082.4 L1291.0,1103.5 L1291.2,1060.1 L1291.5,1105.0 L1291.8,1080.7 L1292.0,1106.3 L1292.2,1078.0 L1292.5,1105.2 L1292.8,1065.8 L1293.0,1109.2 L1293.2,1076.8 L1293.5,1111.4 L1293.8,1082.3 L1294.0,1114.3 L1294.2,1083.6 L1294.5,1113.1 L1294.8,1078.4 L1295.0,1118.4 L1295.2,1081.5 L1295.5,1106.0 L1295.8,1075.7 L1296.0,1104.8 L1296.2,1081.5 L1296.5,1101.5 L1296.8,1073.9 L1297.0,1110.8 L1297.2,1069.3 L1297.5,1101.8 L1297.8,1079.7 L1298.0,1104.6 L1298.2,1080.6 L1298.5,1104.4 L1298.8,1080.1 L1299.0,1101.8 L1299.2,1078.4 L1299.5,1100.0 L1299.8,1075.2 L1300.0,1100.0 L1300.2,1079.6 L1300.5,1102.7 L1300.8,1078.9 L1301.0,1105.5 L1301.2,1077.2 L1301.5,1098.2 L1301.8,1062.9 L1302.0,1097.6 L1302.2,1070.1 L1302.5,1103.0 L1302.8,1076.3 L1303.0,1101.3 L1303.2,1070.4 L1303.5,1099.5 L1303.8,1072.1 L1304.0,1097.5 L1304.2,1076.1 L1304.5,1098.5 L1304.8,1071.9 L1305.0,1103.7 L1305.2,1063.5 L1305.5,1103.9 L1305.8,1073.7 L1306.0,1101.4 L1306.2,1070.6 L1306.5,1098.6 L1306.8,1072.8 L1307.0,1095.4 L1307.2,1072.4 L1307.5,1098.2 L1307.8,1071.8 L1308.0,1092.1 L1308.2,1067.9 L1308.5,1101.1 L1308.8,1070.0 L1309.0,1091.8 L1309.2,1067.1 L1309.5,1097.7 L1309.8,1069.7 L1310.0,1095.5 L1310.2,1061.5 L1310.5,1091.9 L1310.8,1067.2 L1311.0,1090.7 L1311.2,1072.0 L1311.5,1096.4 L1311.8,1068.9 L1312.0,1095.1 L1312.2,1066.2 L1312.5,1089.9 L1312.8,1070.0 L1313.0,1091.4 L1313.2,1069.9 L1313.5,1093.1 L1313.8,1066.9 L1314.0,1090.6 L1314.2,1065.6 L1314.5,1091.7 L1314.8,1065.3 L1315.0,1095.1 L1315.2,1067.7 L1315.5,1091.2 L1315.8,1065.7 L1316.0,1095.4 L1316.2,1067.5 L1316.5,1095.0 L1316.8,1067.5 L1317.0,1091.9 L1317.2,1061.2 L1317.5,1085.6 L1317.8,1063.7 L1318.0,1087.5 L1318.2,1066.3 L1318.5,1091.8 L1318.8,1066.6 L1319.0,1090.1 L1319.2,1065.4 L1319.5,1087.8 L1319.8,1062.7 L1320.0,1084.7 L1320.2,1061.0 L1320.5,1085.4 L1320.8,1063.6 L1321.0,1087.4 L1321.2,1060.1 L1321.5,1094.1 L1321.8,1065.6 L1322.0,1091.7 L1322.2,1062.2 L1322.5,1095.3 L1322.8,1063.1 L1323.0,1087.0 L1323.2,1058.5 L1323.5,1090.9 L1323.8,1061.0 L1324.0,1083.5 L1324.2,1056.5 L1324.5,1087.7 L1324.8,1060.0 L1325.0,1082.6 L1325.2,1058.1 L1325.5,1083.7 L1325.8,1057.1 L1326.0,1089.9 L1326.2,1064.0 L1326.5,1091.9 L1326.8,1053.6 L1327.0,1083.7 L1327.2,1058.2 L1327.5,1085.0 L1327.8,1044.0 L1328.0,1091.4 L1328.2,1063.2 L1328.5,1088.7 L1328.8,1059.7 L1329.0,1087.4 L1329.2,1056.7 L1329.5,1082.9 L1329.8,1061.3 L1330.0,1088.4 L1330.2,1063.3 L1330.5,1086.2 L1330.8,1054.7 L1331.0,1084.9 L1331.2,1058.6 L1331.5,1089.7 L1331.8,1062.5 L1332.0,1085.3 L1332.2,1062.0 L1332.5,1088.1 L1332.8,1055.3 L1333.0,1083.5 L1333.2,1060.0 L1333.5,1086.6 L1333.8,1058.7 L1334.0,1085.9 L1334.2,1060.0 L1334.5,1085.6 L1334.8,1062.4 L1335.0,1084.0 L1335.2,1065.4 L1335.5,1087.9 L1335.8,1061.6 L1336.0,1092.9 L1336.2,1062.8 L1336.5,1096.0 L1336.8,1065.3 L1337.0,1091.4 L1337.2,1066.0 L1337.5,1085.9 L1337.8,1062.1 L1338.0,1087.7 L1338.2,1063.2 L1338.5,1090.2 L1338.8,1063.8 L1339.0,1085.7 L1339.2,1063.2 L1339.5,1090.0 L1339.8,1060.0 L1340.0,1087.0 L1340.2,1066.2 L1340.5,1085.9 L1340.8,1065.7 L1341.0,1087.7 L1341.2,1064.8 L1341.5,1090.0 L1341.8,1065.0 L1342.0,1091.7 L1342.2,1066.7 L1342.5,1091.5 L1342.8,1066.2 L1343.0,1086.9 L1343.2,1058.5 L1343.5,1107.6 L1343.8,1066.5 L1344.0,1088.1 L1344.2,1065.2 L1344.5,1090.2 L1344.8,1061.2 L1345.0,1089.5 L1345.2,1063.7 L1345.5,1087.7 L1345.8,1057.1 L1346.0,1089.5 L1346.2,1061.9 L1346.5,1086.4 L1346.8,1065.0 L1347.0,1089.5 L1347.2,1041.8 L1347.5,1087.7 L1347.8,1047.0 L1348.0,1086.1 L1348.2,1059.6 L1348.5,1088.3 L1348.8,1053.1 L1349.0,1083.1 L1349.2,1062.6 L1349.5,1089.4 L1349.8,1056.6 L1350.0,1090.8 L1350.2,1062.9 L1350.5,1086.9 L1350.8,1060.7 L1351.0,1087.7 L1351.2,1061.6 L1351.5,1087.8 L1351.8,1061.6 L1352.0,1087.2 L1352.2,1062.0 L1352.5,1094.0 L1352.8,1063.2 L1353.0,1086.9 L1353.2,1064.1 L1353.5,1087.3 L1353.8,1056.8 L1354.0,1084.9 L1354.2,1063.1 L1354.5,1085.3 L1354.8,1053.7 L1355.0,1085.8 L1355.2,1063.5 L1355.5,1084.2 L1355.8,1064.2 L1356.0,1087.9 L1356.2,1059.6 L1356.5,1092.6 L1356.8,1059.4 L1357.0,1088.9 L1357.2,1054.4 L1357.5,1097.6 L1357.8,1063.3 L1358.0,1085.1 L1358.2,1060.2 L1358.5,1085.1 L1358.8,1065.4 L1359.0,1088.5 L1359.2,1050.7 L1359.5,1088.3 L1359.8,1062.8 L1360.0,1085.7 L1360.2,1061.2 L1360.5,1091.9 L1360.8,1060.9 L1361.0,1093.8 L1361.2,1055.7 L1361.5,1089.5 L1361.8,1052.9 L1362.0,1084.8 L1362.2,1064.3 L1362.5,1094.8 L1362.8,1056.5 L1363.0,1089.1 L1363.2,1060.2 L1363.5,1084.7 L1363.8,1062.5 L1364.0,1090.3 L1364.2,1065.5 L1364.5,1087.3 L1364.8,1063.5 L1365.0,1089.5 L1365.2,1063.6 L1365.5,1087.9 L1365.8,1062.9 L1366.0,1098.5 L1366.2,1052.8 L1366.5,1089.4 L1366.8,1054.4 L1367.0,1091.3 L1367.2,1065.8 L1367.5,1088.9 L1367.8,1062.9 L1368.0,1085.7 L1368.2,1063.9 L1368.5,1089.9 L1368.8,1063.7 L1369.0,1092.9 L1369.2,1060.8 L1369.5,1091.3 L1369.8,1064.3 L1370.0,1091.0 L1370.2,1061.0 L1370.5,1088.1 L1370.8,1062.2 L1371.0,1089.2 L1371.2,1053.9 L1371.5,1087.5 L1371.8,1065.9 L1372.0,1094.1 L1372.2,1066.8 L1372.5,1107.6 L1372.8,1065.1 L1373.0,1087.7 L1373.2,1059.2 L1373.5,1087.9 L1373.8,1067.7 L1374.0,1087.4 L1374.2,1063.2 L1374.5,1086.8 L1374.8,1066.8 L1375.0,1086.4 L1375.2,1064.2 L1375.5,1091.3 L1375.8,1063.6 L1376.0,1087.2 L1376.2,1067.1 L1376.5,1097.2 L1376.8,1066.7 L1377.0,1086.4 L1377.2,1063.6 L1377.5,1090.5 L1377.8,1061.2 L1378.0,1100.5 L1378.2,1060.7 L1378.5,1084.7 L1378.8,1064.9 L1379.0,1084.7 L1379.2,1057.6 L1379.5,1085.2 L1379.8,1059.3 L1380.0,1083.5 L1380.2,1059.2 L1380.5,1088.0 L1380.8,1062.8 L1381.0,1084.3 L1381.2,1061.4 L1381.5,1089.0 L1381.8,1058.7 L1382.0,1085.6 L1382.2,1061.7 L1382.5,1086.1 L1382.8,1054.2 L1383.0,1086.0 L1383.2,1061.8 L1383.5,1088.0 L1383.8,1066.4 L1384.0,1090.2 L1384.2,1062.0 L1384.5,1088.9 L1384.8,1059.9 L1385.0,1091.5 L1385.2,1062.3 L1385.5,1088.9 L1385.8,1061.8 L1386.0,1097.4 L1386.2,1064.5 L1386.5,1087.4 L1386.8,1062.4 L1387.0,1087.1 L1387.2,1063.8 L1387.5,1087.9 L1387.8,1059.7 L1388.0,1097.5 L1388.2,1037.7 L1388.5,1090.2 L1388.8,1065.3 L1389.0,1092.6 L1389.2,1059.8 L1389.5,1096.5 L1389.8,1062.8 L1390.0,1098.6 L1390.2,1068.3 L1390.5,1092.5 L1390.8,1057.0 L1391.0,1088.1 L1391.2,1059.3 L1391.5,1107.2 L1391.8,1067.4 L1392.0,1088.1 L1392.2,1060.3 L1392.5,1089.9 L1392.8,1062.1 L1393.0,1096.7 L1393.2,1062.3 L1393.5,1097.5 L1393.8,1065.3 L1394.0,1096.7 L1394.2,1065.5 L1394.5,1095.0 L1394.8,1065.6 L1395.0,1087.5 L1395.2,1067.8 L1395.5,1089.8 L1395.8,1068.3 L1396.0,1088.2 L1396.2,1063.1 L1396.5,1090.9 L1396.8,1062.5 L1397.0,1099.7 L1397.2,1065.2 L1397.5,1093.1 L1397.8,1070.0 L1398.0,1092.9 L1398.2,1065.1 L1398.5,1090.1 L1398.8,1063.8 L1399.0,1089.6 L1399.2,1067.6 L1399.5,1099.2 L1399.8,1064.6 L1400.0,1096.4 L1400.2,1071.3 L1400.5,1093.0 L1400.8,1067.4 L1401.0,1092.7 L1401.2,1068.4 L1401.5,1093.3 L1401.8,1068.8 L1402.0,1096.0 L1402.2,1071.1 L1402.5,1097.7 L1402.8,1072.2 L1403.0,1097.8 L1403.2,1057.3 L1403.5,1100.5 L1403.8,1066.2 L1404.0,1121.1 L1404.2,1073.4 L1404.5,1098.5 L1404.8,1073.3 L1405.0,1095.8 L1405.2,1076.4 L1405.5,1099.6 L1405.8,1065.1 L1406.0,1101.9 L1406.2,1075.6 L1406.5,1097.5 L1406.8,1071.8 L1407.0,1103.4 L1407.2,1077.8 L1407.5,1097.4 L1407.8,1078.3 L1408.0,1105.6 L1408.2,1067.6 L1408.5,1099.7 L1408.8,1079.4 L1409.0,1103.1 L1409.2,1071.6 L1409.5,1112.1 L1409.8,1079.2 L1410.0,1099.8 L1410.2,1067.0 L1410.5,1102.5 L1410.8,1080.3 L1411.0,1106.9 L1411.2,1060.8 L1411.5,1102.8 L1411.8,1069.1 L1412.0,1106.2 L1412.2,1079.4 L1412.5,1106.2 L1412.8,1079.2 L1413.0,1103.6 L1413.2,1075.0 L1413.5,1103.4 L1413.8,1076.3 L1414.0,1100.4 L1414.2,1078.0 L1414.5,1102.3 L1414.8,1080.9 L1415.0,1104.6 L1415.2,1077.8 L1415.5,1102.9 L1415.8,1076.3 L1416.0,1100.7 L1416.2,1079.8 L1416.5,1100.6 L1416.8,1073.7 L1417.0,1105.7 L1417.2,1082.0 L1417.5,1100.8 L1417.8,1081.5 L1418.0,1101.0 L1418.2,1075.5 L1418.5,1103.6 L1418.8,1078.4 L1419.0,1107.0 L1419.2,1081.7 L1419.5,1106.2 L1419.8,1074.7 L1420.0,1104.0 L1420.2,1083.3 L1420.5,1104.2 L1420.8,1082.2 L1421.0,1103.1 L1421.2,1082.9 L1421.5,1105.0 L1421.8,1080.7 L1422.0,1103.6 L1422.2,1069.2 L1422.5,1106.2 L1422.8,1082.5 L1423.0,1108.1 L1423.2,1075.8 L1423.5,1106.7 L1423.8,1084.4 L1424.0,1110.2 L1424.2,1082.9 L1424.5,1105.4 L1424.8,1074.6 L1425.0,1112.8 L1425.2,1076.1 L1425.5,1110.0 L1425.8,1077.7 L1426.0,1102.9 L1426.2,1078.4 L1426.5,1107.2 L1426.8,1080.8 L1427.0,1109.0 L1427.2,1084.9 L1427.5,1107.8 L1427.8,1081.6 L1428.0,1106.2 L1428.2,1081.4 L1428.5,1105.5 L1428.8,1065.0 L1429.0,1104.8 L1429.2,1085.2 L1429.5,1112.7 L1429.8,1079.2 L1430.0,1111.7 L1430.2,1075.9 L1430.5,1108.4 L1430.8,1082.0 L1431.0,1115.2 L1431.2,1084.4 L1431.5,1112.1 L1431.8,1080.2 L1432.0,1111.2 L1432.2,1086.5 L1432.5,1115.7 L1432.8,1083.6 L1433.0,1105.9 L1433.2,1078.3 L1433.5,1109.3 L1433.8,1062.0 L1434.0,1114.5 L1434.2,1084.1 L1434.5,1116.5 L1434.8,1085.8 L1435.0,1116.1 L1435.2,1083.2 L1435.5,1115.2 L1435.8,1081.6 L1436.0,1116.5 L1436.2,1085.4 L1436.5,1106.4 L1436.8,1087.4 L1437.0,1128.1 L1437.2,1079.0 L1437.5,1126.8 L1437.8,1084.5 L1438.0,1119.9 L1438.2,1087.0 L1438.5,1109.0 L1438.8,1082.1 L1439.0,1113.7 L1439.2,1080.8 L1439.5,1108.2 L1439.8,1079.5 L1440.0,1110.5 L1440.2,1085.7 L1440.5,1114.5 L1440.8,1084.6 L1441.0,1106.6 L1441.2,1078.7 L1441.5,1109.4 L1441.8,1075.3 L1442.0,1114.6 L1442.2,1082.0 L1442.5,1112.4 L1442.8,1084.7 L1443.0,1109.7 L1443.2,1084.1 L1443.5,1112.5 L1443.8,1086.1 L1444.0,1117.0 L1444.2,1077.7 L1444.5,1106.6 L1444.8,1084.4 L1445.0,1106.9 L1445.2,1082.2 L1445.5,1106.9 L1445.8,1081.6 L1446.0,1108.7 L1446.2,1085.2 L1446.5,1112.6 L1446.8,1083.9 L1447.0,1112.1 L1447.2,1081.7 L1447.5,1107.2 L1447.8,1085.6 L1448.0,1114.7 L1448.2,1082.5 L1448.5,1117.8 L1448.8,1083.3 L1449.0,1106.5 L1449.2,1083.3 L1449.5,1107.1 L1449.8,1083.4 L1450.0,1109.0 L1450.2,1080.0 L1450.5,1112.3 L1450.8,1081.3 L1451.0,1108.2 L1451.2,1088.1 L1451.5,1114.7 L1451.8,1086.8 L1452.0,1110.1 L1452.2,1087.0 L1452.5,1111.2 L1452.8,1085.4 L1453.0,1112.4 L1453.2,1085.5 L1453.5,1112.3 L1453.8,1087.7 L1454.0,1113.7 L1454.2,1082.3 L1454.5,1119.1 L1454.8,1088.5 L1455.0,1108.3 L1455.2,1084.5 L1455.5,1112.4 L1455.8,1085.4 L1456.0,1116.8 L1456.2,1084.6 L1456.5,1112.8 L1456.8,1088.7 L1457.0,1122.4 L1457.2,1079.0 L1457.5,1111.7 L1457.8,1088.7 L1458.0,1112.0 L1458.2,1074.6 L1458.5,1107.9 L1458.8,1085.3 L1459.0,1120.5 L1459.2,1084.9 L1459.5,1114.6 L1459.8,1089.1 L1460.0,1111.4 L1460.2,1084.8 L1460.5,1110.0 L1460.8,1088.6 L1461.0,1108.1 L1461.2,1076.4 L1461.5,1111.1 L1461.8,1085.4 L1462.0,1107.9 L1462.2,1080.8 L1462.5,1113.3 L1462.8,1069.8 L1463.0,1109.8 L1463.2,1086.7 L1463.5,1109.3 L1463.8,1086.3 L1464.0,1110.5 L1464.2,1086.6 L1464.5,1119.2 L1464.8,1083.4 L1465.0,1109.6 L1465.2,1087.2 L1465.5,1111.1 L1465.8,1085.9 L1466.0,1112.3 L1466.2,1082.4 L1466.5,1108.5 L1466.8,1086.1 L1467.0,1110.3 L1467.2,1085.0 L1467.5,1109.2 L1467.8,1086.2 L1468.0,1109.7 L1468.2,1077.9 L1468.5,1110.3 L1468.8,1088.2 L1469.0,1110.8 L1469.2,1089.3 L1469.5,1108.9 L1469.8,1086.7 L1470.0,1108.9 L1470.2,1087.2 L1470.5,1111.4 L1470.8,1084.4 L1471.0,1113.5 L1471.2,1079.4 L1471.5,1114.1 L1471.8,1086.7 L1472.0,1117.8 L1472.2,1089.8 L1472.5,1113.0 L1472.8,1086.3 L1473.0,1109.6 L1473.2,1079.7 L1473.5,1114.4 L1473.8,1081.5 L1474.0,1109.1 L1474.2,1087.4 L1474.5,1119.4 L1474.8,1085.1 L1475.0,1114.4 L1475.2,1085.4 L1475.5,1112.7 L1475.8,1065.4 L1476.0,1116.6 L1476.2,1085.6 L1476.5,1113.7 L1476.8,1077.8 L1477.0,1111.8 L1477.2,1076.9 L1477.5,1107.5 L1477.8,1085.6 L1478.0,1107.7 L1478.2,1081.3 L1478.5,1114.4 L1478.8,1088.1 L1479.0,1117.1 L1479.2,1083.1 L1479.5,1107.7 L1479.8,1083.9 L1480.0,1109.9 L1480.2,1086.9 L1480.5,1111.3 L1480.8,1088.7 L1481.0,1110.3 L1481.2,1088.0 L1481.5,1114.8 L1481.8,1088.3 L1482.0,1108.2 L1482.2,1089.5 L1482.5,1108.7 L1482.8,1088.2 L1483.0,1110.1 L1483.2,1089.4 L1483.5,1110.9 L1483.8,1087.2 L1484.0,1107.9 L1484.2,1089.8 L1484.5,1111.0 L1484.8,1087.9 L1485.0,1118.2 L1485.2,1086.8 L1485.5,1114.7 L1485.8,1086.9 L1486.0,1111.1 L1486.2,1078.6 L1486.5,1109.9 L1486.8,1088.6 L1487.0,1116.7 L1487.2,1086.7 L1487.5,1125.8 L1487.8,1084.6 L1488.0,1111.8 L1488.2,1081.3 L1488.5,1107.1 L1488.8,1070.7 L1489.0,1106.1 L1489.2,1087.7 L1489.5,1107.3 L1489.8,1083.1 L1490.0,1120.2 L1490.2,1078.6 L1490.5,1112.2 L1490.8,1078.7 L1491.0,1106.0 L1491.2,1081.7 L1491.5,1118.1 L1491.8,1086.0 L1492.0,1113.9 L1492.2,1083.7 L1492.5,1112.6 L1492.8,1084.0 L1493.0,1105.5 L1493.2,1074.3 L1493.5,1118.3 L1493.8,1083.6 L1494.0,1113.0 L1494.2,1084.0 L1494.5,1111.6 L1494.8,1086.8 L1495.0,1105.8 L1495.2,1086.4 L1495.5,1120.7 L1495.8,1082.4 L1496.0,1108.7 L1496.2,1084.7 L1496.5,1106.9 L1496.8,1082.2 L1497.0,1112.6 L1497.2,1084.8 L1497.5,1110.3 L1497.8,1083.3 L1498.0,1107.7 L1498.2,1085.8 L1498.5,1107.2 L1498.8,1082.6 L1499.0,1117.3 L1499.2,1085.5 L1499.5,1111.9 L1499.8,1086.6 L1500.0,1109.4 L1500.2,1086.6 L1500.5,1108.9 L1500.8,1083.2 L1501.0,1109.0 L1501.2,1087.5 L1501.5,1108.5 L1501.8,1087.0 L1502.0,1108.3 L1502.2,1084.4 L1502.5,1120.4 L1502.8,1083.1 L1503.0,1112.5 L1503.2,1086.3 L1503.5,1104.9 L1503.8,1071.4 L1504.0,1110.4 L1504.2,1080.9 L1504.5,1109.3 L1504.8,1083.1 L1505.0,1106.3 L1505.2,1082.7 L1505.5,1107.6 L1505.8,1079.9 L1506.0,1111.9 L1506.2,1081.0 L1506.5,1106.2 L1506.8,1071.4 L1507.0,1106.8 L1507.2,1083.5 L1507.5,1105.4 L1507.8,1081.6 L1508.0,1111.3 L1508.2,1078.2 L1508.5,1104.9 L1508.8,1083.5 L1509.0,1118.1 L1509.2,1085.6 L1509.5,1109.6 L1509.8,1080.1 L1510.0,1106.5 L1510.2,1086.2 L1510.5,1107.1 L1510.8,1081.5 L1511.0,1107.6 L1511.2,1080.3 L1511.5,1107.4 L1511.8,1086.2 L1512.0,1108.9 L1512.2,1083.2 L1512.5,1106.5 L1512.8,1082.7 L1513.0,1106.8 L1513.2,1084.4 L1513.5,1109.8 L1513.8,1088.5 L1514.0,1109.5 L1514.2,1071.3 L1514.5,1110.8 L1514.8,1082.1 L1515.0,1113.9 L1515.2,1080.6 L1515.5,1108.4 L1515.8,1088.1 L1516.0,1111.0 L1516.2,1077.7 L1516.5,1107.5 L1516.8,1086.5 L1517.0,1108.7 L1517.2,1089.1 L1517.5,1108.5 L1517.8,1086.1 L1518.0,1113.8 L1518.2,1084.4 L1518.5,1113.3 L1518.8,1084.2 L1519.0,1110.9 L1519.2,1082.5 L1519.5,1108.8 L1519.8,1080.6 L1520.0,1111.9 L1520.2,1072.1 L1520.5,1107.0 L1520.8,1081.0 L1521.0,1108.2 L1521.2,1086.8 L1521.5,1109.6 L1521.8,1083.6 L1522.0,1123.7 L1522.2,1081.0 L1522.5,1106.9 L1522.8,1080.6 L1523.0,1105.4 L1523.2,1080.6 L1523.5,1119.7 L1523.8,1074.2 L1524.0,1106.9 L1524.2,1073.0 L1524.5,1106.8 L1524.8,1082.6 L1525.0,1104.0 L1525.2,1085.2 L1525.5,1112.1 L1525.8,1082.1 L1526.0,1106.5 L1526.2,1072.0 L1526.5,1109.0 L1526.8,1079.6 L1527.0,1106.5 L1527.2,1084.7 L1527.5,1104.4 L1527.8,1082.0 L1528.0,1106.5 L1528.2,1082.8 L1528.5,1106.7 L1528.8,1056.7 L1529.0,1106.2 L1529.2,1080.4 L1529.5,1107.5 L1529.8,1085.1 L1530.0,1108.6 L1530.2,1083.7 L1530.5,1111.5 L1530.8,1086.8 L1531.0,1106.8 L1531.2,1083.8 L1531.5,1116.2 L1531.8,1085.6 L1532.0,1114.3 L1532.2,1082.8 L1532.5,1105.9 L1532.8,1083.5 L1533.0,1111.9 L1533.2,1084.6 L1533.5,1105.8 L1533.8,1086.0 L1534.0,1110.9 L1534.2,1077.9 L1534.5,1107.6 L1534.8,1084.6 L1535.0,1117.0 L1535.2,1087.6 L1535.5,1114.1 L1535.8,1086.0 L1536.0,1113.5 L1536.2,1081.5 L1536.5,1110.3 L1536.8,1073.1 L1537.0,1109.1 L1537.2,1078.7 L1537.5,1106.9 L1537.8,1085.9 L1538.0,1108.1 L1538.2,1074.3 L1538.5,1112.1 L1538.8,1081.7 L1539.0,1106.1 L1539.2,1083.0 L1539.5,1107.5 L1539.8,1085.7 L1540.0,1108.1 L1540.2,1077.6 L1540.5,1111.5 L1540.8,1086.1 L1541.0,1110.1 L1541.2,1087.8 L1541.5,1117.1 L1541.8,1087.4 L1542.0,1109.6 L1542.2,1086.0 L1542.5,1108.8 L1542.8,1080.2 L1543.0,1107.9 L1543.2,1087.2 L1543.5,1114.7 L1543.8,1086.6 L1544.0,1107.5 L1544.2,1080.1 L1544.5,1116.0 L1544.8,1080.2 L1545.0,1113.0 L1545.2,1082.1 L1545.5,1126.9 L1545.8,1082.6 L1546.0,1132.1 L1546.2,1079.5 L1546.5,1127.3 L1546.8,1084.2 L1547.0,1108.6 L1547.2,1086.8 L1547.5,1111.4 L1547.8,1080.4 L1548.0,1108.3 L1548.2,1085.8 L1548.5,1109.7 L1548.8,1085.3 L1549.0,1109.7 L1549.2,1081.1 L1549.5,1109.2 L1549.8,1083.9 L1550.0,1107.8 L1550.2,1080.4 L1550.5,1108.4 L1550.8,1082.8 L1551.0,1111.1 L1551.2,1079.0 L1551.5,1107.1 L1551.8,1075.1 L1552.0,1110.8 L1552.2,1075.7 L1552.5,1113.1 L1552.8,1076.7 L1553.0,1105.8 L1553.2,1077.6 L1553.5,1110.6 L1553.8,1059.2 L1554.0,1110.2 L1554.2,1083.8 L1554.5,1109.6 L1554.8,1086.2 L1555.0,1113.3 L1555.2,1072.1 L1555.5,1111.1 L1555.8,1082.6 L1556.0,1110.6 L1556.2,1082.5 L1556.5,1120.6 L1556.8,1086.1 L1557.0,1106.4 L1557.2,1077.4 L1557.5,1107.3 L1557.8,1084.5 L1558.0,1111.2 L1558.2,1087.3 L1558.5,1112.7 L1558.8,1080.7 L1559.0,1107.4 L1559.2,1083.3 L1559.5,1108.3 L1559.8,1087.0 L1560.0,1106.0 L1560.2,1081.8 L1560.5,1112.6 L1560.8,1078.4 L1561.0,1110.8 L1561.2,1082.5 L1561.5,1108.3 L1561.8,1086.9 L1562.0,1106.9 L1562.2,1080.3 L1562.5,1105.3 L1562.8,1085.2 L1563.0,1106.3 L1563.2,1084.9 L1563.5,1109.4 L1563.8,1079.8 L1564.0,1109.5 L1564.2,1082.0 L1564.5,1107.6 L1564.8,1085.3 L1565.0,1110.0 L1565.2,1070.8 L1565.5,1105.4 L1565.8,1075.6 L1566.0,1109.0 L1566.2,1077.7 L1566.5,1111.5 L1566.8,1082.2 L1567.0,1124.7 L1567.2,1081.3 L1567.5,1104.4 L1567.8,1076.1 L1568.0,1104.9 L1568.2,1083.1 L1568.5,1108.0 L1568.8,1082.6 L1569.0,1119.2 L1569.2,1070.8 L1569.5,1111.2" fill="none" stroke="#00f" stroke-width="1.0"/><rect x="1148.7" y="866.2" width="422.1" height="289.8" fill="none" stroke="#000" stroke-width="3.2"/><line x1="1219" y1="1156" x2="1219" y2="1149.5" stroke="#000" stroke-width="3"/><line x1="1359.3" y1="1156" x2="1359.3" y2="1149.5" stroke="#000" stroke-width="3"/><line x1="1500.6" y1="1156" x2="1500.6" y2="1149.5" stroke="#000" stroke-width="3"/><text x="1219.5" y="1181.5" text-anchor="middle" style="font-family:'Liberation Serif','Times New Roman',serif;font-size:25px" fill="#111">150</text><text x="1360" y="1181.5" text-anchor="middle" style="font-family:'Liberation Serif','Times New Roman',serif;font-size:25px" fill="#111">160</text><text x="1501" y="1181.5" text-anchor="middle" style="font-family:'Liberation Serif','Times New Roman',serif;font-size:25px" fill="#111">170</text><path d="M1619.5,1113.9 L1619.8,1090.2 L1620.0,1111.2 L1620.2,1087.3 L1620.5,1118.1 L1620.8,1078.6 L1621.0,1112.7 L1621.2,1089.9 L1621.5,1113.1 L1621.8,1087.7 L1622.0,1112.5 L1622.2,1084.2 L1622.5,1109.1 L1622.8,1088.1 L1623.0,1108.1 L1623.2,1084.6 L1623.5,1110.4 L1623.8,1081.5 L1624.0,1117.0 L1624.2,1084.7 L1624.5,1119.0 L1624.8,1088.5 L1625.0,1107.8 L1625.2,1085.3 L1625.5,1109.6 L1625.8,1081.7 L1626.0,1117.1 L1626.2,1068.4 L1626.5,1113.1 L1626.8,1087.1 L1627.0,1108.0 L1627.2,1080.9 L1627.5,1114.0 L1627.8,1085.9 L1628.0,1112.9 L1628.2,1085.0 L1628.5,1110.7 L1628.8,1088.6 L1629.0,1117.4 L1629.2,1087.4 L1629.5,1114.1 L1629.8,1081.6 L1630.0,1114.2 L1630.2,1087.7 L1630.5,1110.3 L1630.8,1080.0 L1631.0,1109.9 L1631.2,1079.0 L1631.5,1111.7 L1631.8,1085.3 L1632.0,1131.9 L1632.2,1068.3 L1632.5,1110.1 L1632.8,1076.4 L1633.0,1115.8 L1633.2,1087.9 L1633.5,1109.4 L1633.8,1088.2 L1634.0,1114.3 L1634.2,1089.1 L1634.5,1110.4 L1634.8,1082.2 L1635.0,1127.2 L1635.2,1073.8 L1635.5,1114.0 L1635.8,1090.3 L1636.0,1116.5 L1636.2,1090.4 L1636.5,1114.0 L1636.8,1091.4 L1637.0,1111.0 L1637.2,1090.9 L1637.5,1115.0 L1637.8,1080.6 L1638.0,1113.1 L1638.2,1081.9 L1638.5,1122.5 L1638.8,1087.7 L1639.0,1116.9 L1639.2,1080.0 L1639.5,1110.7 L1639.8,1077.5 L1640.0,1114.4 L1640.2,1086.7 L1640.5,1112.6 L1640.8,1086.4 L1641.0,1110.0 L1641.2,1086.1 L1641.5,1109.5 L1641.8,1080.1 L1642.0,1116.0 L1642.2,1087.3 L1642.5,1109.9 L1642.8,1087.6 L1643.0,1113.2 L1643.2,1085.0 L1643.5,1116.4 L1643.8,1089.1 L1644.0,1115.2 L1644.2,1086.2 L1644.5,1114.0 L1644.8,1079.2 L1645.0,1113.9 L1645.2,1091.0 L1645.5,1119.6 L1645.8,1082.8 L1646.0,1111.5 L1646.2,1091.0 L1646.5,1110.6 L1646.8,1090.3 L1647.0,1112.6 L1647.2,1090.7 L1647.5,1112.4 L1647.8,1089.8 L1648.0,1109.9 L1648.2,1085.6 L1648.5,1117.2 L1648.8,1082.4 L1649.0,1109.9 L1649.2,1083.6 L1649.5,1111.3 L1649.8,1089.6 L1650.0,1111.3 L1650.2,1088.1 L1650.5,1111.1 L1650.8,1084.0 L1651.0,1112.4 L1651.2,1089.1 L1651.5,1110.6 L1651.8,1089.1 L1652.0,1111.4 L1652.2,1083.6 L1652.5,1108.8 L1652.8,1085.9 L1653.0,1112.1 L1653.2,1086.1 L1653.5,1114.3 L1653.8,1085.0 L1654.0,1111.1 L1654.2,1083.3 L1654.5,1110.6 L1654.8,1086.6 L1655.0,1110.4 L1655.2,1082.7 L1655.5,1124.3 L1655.8,1090.1 L1656.0,1113.3 L1656.2,1087.8 L1656.5,1111.7 L1656.8,1086.6 L1657.0,1121.8 L1657.2,1090.4 L1657.5,1114.4 L1657.8,1089.2 L1658.0,1114.0 L1658.2,1078.4 L1658.5,1114.4 L1658.8,1087.9 L1659.0,1117.3 L1659.2,1091.1 L1659.5,1116.9 L1659.8,1090.1 L1660.0,1120.6 L1660.2,1090.4 L1660.5,1115.2 L1660.8,1085.7 L1661.0,1110.9 L1661.2,1087.2 L1661.5,1111.6 L1661.8,1091.9 L1662.0,1121.7 L1662.2,1085.8 L1662.5,1113.1 L1662.8,1087.7 L1663.0,1111.5 L1663.2,1089.9 L1663.5,1115.9 L1663.8,1082.6 L1664.0,1116.7 L1664.2,1090.6 L1664.5,1127.5 L1664.8,1087.7 L1665.0,1113.9 L1665.2,1092.1 L1665.5,1114.9 L1665.8,1081.2 L1666.0,1119.2 L1666.2,1091.7 L1666.5,1112.0 L1666.8,1083.6 L1667.0,1120.9 L1667.2,1089.8 L1667.5,1111.4 L1667.8,1087.5 L1668.0,1111.6 L1668.2,1083.6 L1668.5,1115.1 L1668.8,1091.3 L1669.0,1112.9 L1669.2,1078.7 L1669.5,1118.8 L1669.8,1085.4 L1670.0,1117.1 L1670.2,1089.7 L1670.5,1112.6 L1670.8,1085.2 L1671.0,1111.5 L1671.2,1090.9 L1671.5,1113.5 L1671.8,1091.2 L1672.0,1111.5 L1672.2,1081.8 L1672.5,1113.8 L1672.8,1075.1 L1673.0,1110.7 L1673.2,1088.1 L1673.5,1117.4 L1673.8,1081.4 L1674.0,1110.4 L1674.2,1089.8 L1674.5,1111.8 L1674.8,1078.2 L1675.0,1109.8 L1675.2,1085.4 L1675.5,1108.6 L1675.8,1080.7 L1676.0,1112.5 L1676.2,1087.9 L1676.5,1112.6 L1676.8,1085.9 L1677.0,1122.9 L1677.2,1079.0 L1677.5,1110.0 L1677.8,1091.2 L1678.0,1114.9 L1678.2,1089.2 L1678.5,1111.5 L1678.8,1090.2 L1679.0,1110.7 L1679.2,1081.5 L1679.5,1118.2 L1679.8,1087.8 L1680.0,1114.4 L1680.2,1090.8 L1680.5,1113.4 L1680.8,1075.3 L1681.0,1111.0 L1681.2,1085.3 L1681.5,1110.4 L1681.8,1087.1 L1682.0,1115.3 L1682.2,1089.1 L1682.5,1109.7 L1682.8,1086.3 L1683.0,1109.1 L1683.2,1086.4 L1683.5,1110.1 L1683.8,1083.3 L1684.0,1111.6 L1684.2,1072.5 L1684.5,1110.5 L1684.8,1089.1 L1685.0,1113.0 L1685.2,1087.8 L1685.5,1124.9 L1685.8,1077.2 L1686.0,1111.4 L1686.2,1088.9 L1686.5,1108.8 L1686.8,1083.4 L1687.0,1112.6 L1687.2,1085.8 L1687.5,1120.7 L1687.8,1087.2 L1688.0,1113.9 L1688.2,1090.3 L1688.5,1118.2 L1688.8,1080.7 L1689.0,1115.3 L1689.2,1090.4 L1689.5,1109.4 L1689.8,1086.0 L1690.0,1114.3 L1690.2,1081.1 L1690.5,1112.7 L1690.8,1088.0 L1691.0,1111.7 L1691.2,1085.7 L1691.5,1111.1 L1691.8,1085.0 L1692.0,1115.3 L1692.2,1088.1 L1692.5,1134.3 L1692.8,1084.0 L1693.0,1110.1 L1693.2,1085.9 L1693.5,1109.9 L1693.8,1086.9 L1694.0,1110.4 L1694.2,1062.7 L1694.5,1107.1 L1694.8,1077.9 L1695.0,1108.4 L1695.2,1080.1 L1695.5,1109.5 L1695.8,1086.1 L1696.0,1111.8 L1696.2,1082.4 L1696.5,1111.6 L1696.8,1084.0 L1697.0,1107.1 L1697.2,1085.7 L1697.5,1112.6 L1697.8,1085.4 L1698.0,1109.5 L1698.2,1085.6 L1698.5,1113.5 L1698.8,1087.1 L1699.0,1115.3 L1699.2,1084.6 L1699.5,1110.8 L1699.8,1082.7 L1700.0,1111.7 L1700.2,1087.5 L1700.5,1108.9 L1700.8,1087.8 L1701.0,1111.8 L1701.2,1090.4 L1701.5,1109.4 L1701.8,1089.8 L1702.0,1111.5 L1702.2,1088.2 L1702.5,1114.7 L1702.8,1088.1 L1703.0,1113.8 L1703.2,1087.4 L1703.5,1115.4 L1703.8,1083.9 L1704.0,1113.8 L1704.2,1090.4 L1704.5,1123.4 L1704.8,1085.4 L1705.0,1110.0 L1705.2,1078.9 L1705.5,1114.9 L1705.8,1087.3 L1706.0,1111.3 L1706.2,1088.2 L1706.5,1113.6 L1706.8,1090.4 L1707.0,1113.8 L1707.2,1084.7 L1707.5,1125.9 L1707.8,1084.2 L1708.0,1110.1 L1708.2,1084.1 L1708.5,1114.2 L1708.8,1086.4 L1709.0,1110.4 L1709.2,1084.9 L1709.5,1116.1 L1709.8,1089.9 L1710.0,1112.4 L1710.2,1091.2 L1710.5,1123.2 L1710.8,1085.8 L1711.0,1116.1 L1711.2,1090.2 L1711.5,1112.3 L1711.8,1087.6 L1712.0,1114.3 L1712.2,1088.3 L1712.5,1131.7 L1712.8,1088.5 L1713.0,1115.1 L1713.2,1088.3 L1713.5,1111.8 L1713.8,1091.4 L1714.0,1114.9 L1714.2,1088.7 L1714.5,1122.5 L1714.8,1090.2 L1715.0,1112.8 L1715.2,1090.7 L1715.5,1131.4 L1715.8,1089.6 L1716.0,1116.5 L1716.2,1087.9 L1716.5,1117.7 L1716.8,1090.7 L1717.0,1112.3 L1717.2,1088.7 L1717.5,1114.2 L1717.8,1086.3 L1718.0,1123.1 L1718.2,1088.3 L1718.5,1115.1 L1718.8,1083.5 L1719.0,1111.5 L1719.2,1090.2 L1719.5,1117.9 L1719.8,1089.1 L1720.0,1117.0 L1720.2,1085.2 L1720.5,1109.8 L1720.8,1086.7 L1721.0,1109.3 L1721.2,1082.3 L1721.5,1134.2 L1721.8,1089.8 L1722.0,1108.8 L1722.2,1086.9 L1722.5,1124.7 L1722.8,1087.3 L1723.0,1115.1 L1723.2,1081.4 L1723.5,1115.0 L1723.8,1066.3 L1724.0,1115.3 L1724.2,1087.6 L1724.5,1119.2 L1724.8,1084.9 L1725.0,1112.1 L1725.2,1075.5 L1725.5,1113.9 L1725.8,1079.6 L1726.0,1112.6 L1726.2,1082.3 L1726.5,1113.3 L1726.8,1079.2 L1727.0,1115.6 L1727.2,1075.8 L1727.5,1108.5 L1727.8,1086.4 L1728.0,1108.8 L1728.2,1084.0 L1728.5,1107.3 L1728.8,1082.5 L1729.0,1108.7 L1729.2,1086.4 L1729.5,1109.6 L1729.8,1078.5 L1730.0,1107.6 L1730.2,1086.6 L1730.5,1107.0 L1730.8,1078.1 L1731.0,1106.9 L1731.2,1083.4 L1731.5,1106.7 L1731.8,1072.2 L1732.0,1109.2 L1732.2,1079.2 L1732.5,1108.5 L1732.8,1084.3 L1733.0,1105.8 L1733.2,1084.8 L1733.5,1108.5 L1733.8,1086.4 L1734.0,1112.8 L1734.2,1086.5 L1734.5,1106.4 L1734.8,1085.0 L1735.0,1107.5 L1735.2,1070.8 L1735.5,1110.4 L1735.8,1084.4 L1736.0,1113.2 L1736.2,1070.9 L1736.5,1110.7 L1736.8,1086.9 L1737.0,1109.4 L1737.2,1082.7 L1737.5,1108.0 L1737.8,1087.7 L1738.0,1110.3 L1738.2,1086.2 L1738.5,1109.9 L1738.8,1088.0 L1739.0,1115.3 L1739.2,1082.6 L1739.5,1111.9 L1739.8,1088.0 L1740.0,1110.5 L1740.2,1083.9 L1740.5,1111.5 L1740.8,1087.5 L1741.0,1110.7 L1741.2,1090.3 L1741.5,1110.7 L1741.8,1080.7 L1742.0,1109.1 L1742.2,1089.3 L1742.5,1110.2 L1742.8,1070.7 L1743.0,1110.3 L1743.2,1080.1 L1743.5,1114.7 L1743.8,1085.9 L1744.0,1109.5 L1744.2,1088.7 L1744.5,1121.4 L1744.8,1087.9 L1745.0,1114.7 L1745.2,1087.8 L1745.5,1114.5 L1745.8,1086.8 L1746.0,1115.2 L1746.2,1088.6 L1746.5,1112.2 L1746.8,1087.4 L1747.0,1117.4 L1747.2,1076.1 L1747.5,1112.5 L1747.8,1088.6 L1748.0,1110.5 L1748.2,1086.5 L1748.5,1118.6 L1748.8,1089.2 L1749.0,1114.5 L1749.2,1087.9 L1749.5,1110.1 L1749.8,1090.3 L1750.0,1112.6 L1750.2,1084.1 L1750.5,1117.4 L1750.8,1090.1 L1751.0,1118.6 L1751.2,1089.6 L1751.5,1113.9 L1751.8,1089.7 L1752.0,1113.4 L1752.2,1088.7 L1752.5,1111.1 L1752.8,1070.5 L1753.0,1121.1 L1753.2,1079.6 L1753.5,1109.1 L1753.8,1087.4 L1754.0,1109.2 L1754.2,1070.2 L1754.5,1114.4 L1754.8,1088.2 L1755.0,1115.8 L1755.2,1088.1 L1755.5,1113.1 L1755.8,1080.7 L1756.0,1110.6 L1756.2,1089.1 L1756.5,1113.3 L1756.8,1088.1 L1757.0,1118.3 L1757.2,1086.0 L1757.5,1111.2 L1757.8,1087.3 L1758.0,1115.3 L1758.2,1089.4 L1758.5,1114.7 L1758.8,1090.5 L1759.0,1111.6 L1759.2,1083.5 L1759.5,1123.8 L1759.8,1081.0 L1760.0,1114.4 L1760.2,1076.5 L1760.5,1109.9 L1760.8,1083.3 L1761.0,1110.5 L1761.2,1090.2 L1761.5,1109.6 L1761.8,1082.7 L1762.0,1112.4 L1762.2,1088.8 L1762.5,1109.2 L1762.8,1084.3 L1763.0,1110.8 L1763.2,1086.7 L1763.5,1109.4 L1763.8,1072.1 L1764.0,1110.7 L1764.2,1085.4 L1764.5,1125.2 L1764.8,1080.3 L1765.0,1108.5 L1765.2,1086.2 L1765.5,1110.0 L1765.8,1085.9 L1766.0,1109.6 L1766.2,1086.3 L1766.5,1114.4 L1766.8,1083.6 L1767.0,1108.3 L1767.2,1088.6 L1767.5,1109.8 L1767.8,1086.3 L1768.0,1108.6 L1768.2,1079.6 L1768.5,1108.1 L1768.8,1084.5 L1769.0,1109.6 L1769.2,1080.7 L1769.5,1106.5 L1769.8,1082.6 L1770.0,1108.8 L1770.2,1081.5 L1770.5,1111.2 L1770.8,1084.5 L1771.0,1113.9 L1771.2,1078.9 L1771.5,1114.5 L1771.8,1068.0 L1772.0,1114.8 L1772.2,1080.8 L1772.5,1117.7 L1772.8,1084.5 L1773.0,1107.7 L1773.2,1083.7 L1773.5,1106.9 L1773.8,1082.1 L1774.0,1108.5 L1774.2,1081.6 L1774.5,1106.3 L1774.8,1082.9 L1775.0,1111.1 L1775.2,1082.1 L1775.5,1107.1 L1775.8,1081.5 L1776.0,1117.4 L1776.2,1086.2 L1776.5,1108.6 L1776.8,1083.1 L1777.0,1106.0 L1777.2,1085.4 L1777.5,1109.0 L1777.8,1083.8 L1778.0,1104.6 L1778.2,1079.0 L1778.5,1105.5 L1778.8,1085.2 L1779.0,1103.9 L1779.2,1083.5 L1779.5,1107.0 L1779.8,1069.4 L1780.0,1102.7 L1780.2,1070.7 L1780.5,1109.2 L1780.8,1072.3 L1781.0,1104.5 L1781.2,1082.0 L1781.5,1110.3 L1781.8,1079.1 L1782.0,1107.0 L1782.2,1079.8 L1782.5,1106.6 L1782.8,1080.3 L1783.0,1107.8 L1783.2,1079.6 L1783.5,1104.2 L1783.8,1075.5 L1784.0,1104.9 L1784.2,1078.7 L1784.5,1109.4 L1784.8,1081.9 L1785.0,1103.5 L1785.2,1081.2 L1785.5,1109.4 L1785.8,1081.9 L1786.0,1102.9 L1786.2,1057.3 L1786.5,1106.0 L1786.8,1073.8 L1787.0,1101.3 L1787.2,1074.0 L1787.5,1103.0 L1787.8,1048.0 L1788.0,1104.2 L1788.2,1078.4 L1788.5,1100.8 L1788.8,1076.9 L1789.0,1100.8 L1789.2,1075.8 L1789.5,1103.2 L1789.8,1068.0 L1790.0,1102.6 L1790.2,1071.4 L1790.5,1097.3 L1790.8,1075.5 L1791.0,1099.1 L1791.2,1074.8 L1791.5,1098.6 L1791.8,1072.2 L1792.0,1100.6 L1792.2,1077.9 L1792.5,1114.1 L1792.8,1077.8 L1793.0,1096.4 L1793.2,1073.2 L1793.5,1099.9 L1793.8,1056.1 L1794.0,1099.9 L1794.2,1074.6 L1794.5,1103.1 L1794.8,1076.2 L1795.0,1097.4 L1795.2,1064.3 L1795.5,1094.8 L1795.8,1073.7 L1796.0,1100.7 L1796.2,1074.3 L1796.5,1099.7 L1796.8,1075.4 L1797.0,1097.8 L1797.2,1069.7 L1797.5,1097.2 L1797.8,1070.4 L1798.0,1098.8 L1798.2,1070.0 L1798.5,1093.9 L1798.8,1073.1 L1799.0,1096.4 L1799.2,1067.8 L1799.5,1097.5 L1799.8,1069.4 L1800.0,1097.6 L1800.2,1069.4 L1800.5,1093.1 L1800.8,1069.3 L1801.0,1091.5 L1801.2,1066.8 L1801.5,1095.7 L1801.8,1069.3 L1802.0,1091.2 L1802.2,1066.2 L1802.5,1091.4 L1802.8,1066.5 L1803.0,1091.4 L1803.2,1066.5 L1803.5,1090.4 L1803.8,1063.8 L1804.0,1089.6 L1804.2,1055.0 L1804.5,1111.3 L1804.8,1063.0 L1805.0,1089.7 L1805.2,1064.6 L1805.5,1085.6 L1805.8,1063.7 L1806.0,1085.3 L1806.2,1062.0 L1806.5,1088.5 L1806.8,1063.1 L1807.0,1090.1 L1807.2,1058.3 L1807.5,1085.0 L1807.8,1058.3 L1808.0,1088.2 L1808.2,1059.4 L1808.5,1080.5 L1808.8,1058.2 L1809.0,1086.1 L1809.2,1052.7 L1809.5,1080.2 L1809.8,1044.6 L1810.0,1078.8 L1810.2,1057.3 L1810.5,1084.2 L1810.8,1053.1 L1811.0,1079.0 L1811.2,1055.4 L1811.5,1088.8 L1811.8,1048.5 L1812.0,1083.1 L1812.2,1054.1 L1812.5,1077.7 L1812.8,1048.9 L1813.0,1079.3 L1813.2,1055.7 L1813.5,1077.6 L1813.8,1055.7 L1814.0,1084.2 L1814.2,1038.1 L1814.5,1073.5 L1814.8,1044.6 L1815.0,1079.3 L1815.2,1054.3 L1815.5,1075.8 L1815.8,1050.8 L1816.0,1078.6 L1816.2,1049.0 L1816.5,1073.1 L1816.8,1051.3 L1817.0,1073.1 L1817.2,1049.1 L1817.5,1075.7 L1817.8,1041.1 L1818.0,1074.0 L1818.2,1051.5 L1818.5,1084.7 L1818.8,1040.1 L1819.0,1074.5 L1819.2,1049.7 L1819.5,1084.1 L1819.8,1047.2 L1820.0,1074.8 L1820.2,1042.2 L1820.5,1070.8 L1820.8,1049.6 L1821.0,1074.4 L1821.2,1036.6 L1821.5,1072.7 L1821.8,1050.4 L1822.0,1075.3 L1822.2,1047.9 L1822.5,1076.2 L1822.8,1050.2 L1823.0,1073.7 L1823.2,1049.3 L1823.5,1073.3 L1823.8,1047.3 L1824.0,1074.2 L1824.2,1041.9 L1824.5,1073.0 L1824.8,1044.6 L1825.0,1070.9 L1825.2,1032.9 L1825.5,1090.6 L1825.8,1043.3 L1826.0,1079.8 L1826.2,1049.0 L1826.5,1072.2 L1826.8,1051.1 L1827.0,1075.5 L1827.2,1048.9 L1827.5,1075.0 L1827.8,1050.3 L1828.0,1074.1 L1828.2,1046.5 L1828.5,1089.9 L1828.8,1051.5 L1829.0,1086.3 L1829.2,1047.9 L1829.5,1078.2 L1829.8,1048.7 L1830.0,1075.6 L1830.2,1047.7 L1830.5,1073.9 L1830.8,1050.2 L1831.0,1075.0 L1831.2,1050.7 L1831.5,1080.5 L1831.8,1047.2 L1832.0,1072.0 L1832.2,1042.8 L1832.5,1076.1 L1832.8,1047.8 L1833.0,1075.4 L1833.2,1042.6 L1833.5,1076.5 L1833.8,1049.6 L1834.0,1076.5 L1834.2,1049.6 L1834.5,1081.0 L1834.8,1054.4 L1835.0,1078.1 L1835.2,1044.9 L1835.5,1077.8 L1835.8,1044.8 L1836.0,1080.3 L1836.2,1046.4 L1836.5,1073.9 L1836.8,1043.8 L1837.0,1076.6 L1837.2,1055.2 L1837.5,1081.9 L1837.8,1050.3 L1838.0,1082.5 L1838.2,1052.0 L1838.5,1082.8 L1838.8,1054.7 L1839.0,1079.6 L1839.2,1055.7 L1839.5,1077.3 L1839.8,1054.4 L1840.0,1079.5 L1840.2,1058.3 L1840.5,1077.6 L1840.8,1058.4 L1841.0,1084.6 L1841.2,1055.9 L1841.5,1087.4 L1841.8,1056.1 L1842.0,1087.5 L1842.2,1058.9 L1842.5,1082.7 L1842.8,1058.2 L1843.0,1085.5 L1843.2,1058.2 L1843.5,1080.5 L1843.8,1060.9 L1844.0,1081.4 L1844.2,1055.2 L1844.5,1093.5 L1844.8,1055.2 L1845.0,1082.3 L1845.2,1060.3 L1845.5,1083.5 L1845.8,1045.8 L1846.0,1082.0 L1846.2,1058.4 L1846.5,1089.9 L1846.8,1055.7 L1847.0,1084.1 L1847.2,1060.7 L1847.5,1102.1 L1847.8,1062.6 L1848.0,1089.3 L1848.2,1056.9 L1848.5,1094.7 L1848.8,1066.4 L1849.0,1093.4 L1849.2,1061.3 L1849.5,1086.8 L1849.8,1064.2 L1850.0,1088.7 L1850.2,1066.6 L1850.5,1090.7 L1850.8,1046.1 L1851.0,1090.0 L1851.2,1063.9 L1851.5,1089.7 L1851.8,1063.0 L1852.0,1091.5 L1852.2,1066.2 L1852.5,1093.1 L1852.8,1068.8 L1853.0,1090.8 L1853.2,1062.5 L1853.5,1090.9 L1853.8,1063.8 L1854.0,1092.8 L1854.2,1069.3 L1854.5,1093.6 L1854.8,1049.8 L1855.0,1095.6 L1855.2,1071.7 L1855.5,1093.7 L1855.8,1067.6 L1856.0,1098.6 L1856.2,1070.8 L1856.5,1093.4 L1856.8,1073.0 L1857.0,1094.1 L1857.2,1074.7 L1857.5,1096.6 L1857.8,1071.6 L1858.0,1095.8 L1858.2,1075.8 L1858.5,1099.8 L1858.8,1069.4 L1859.0,1098.3 L1859.2,1076.9 L1859.5,1097.8 L1859.8,1071.3 L1860.0,1097.5 L1860.2,1076.8 L1860.5,1096.3 L1860.8,1072.0 L1861.0,1105.7 L1861.2,1058.9 L1861.5,1102.4 L1861.8,1077.1 L1862.0,1099.6 L1862.2,1075.5 L1862.5,1097.3 L1862.8,1071.5 L1863.0,1109.4 L1863.2,1071.3 L1863.5,1099.8 L1863.8,1075.8 L1864.0,1097.9 L1864.2,1079.7 L1864.5,1103.4 L1864.8,1071.9 L1865.0,1103.9 L1865.2,1080.5 L1865.5,1104.8 L1865.8,1077.6 L1866.0,1102.0 L1866.2,1076.9 L1866.5,1115.3 L1866.8,1080.8 L1867.0,1104.4 L1867.2,1075.6 L1867.5,1104.3 L1867.8,1063.8 L1868.0,1102.8 L1868.2,1076.2 L1868.5,1104.1 L1868.8,1083.1 L1869.0,1107.5 L1869.2,1080.7 L1869.5,1103.4 L1869.8,1081.9 L1870.0,1103.5 L1870.2,1072.7 L1870.5,1102.9 L1870.8,1083.5 L1871.0,1103.4 L1871.2,1081.6 L1871.5,1107.0 L1871.8,1083.9 L1872.0,1104.3 L1872.2,1074.5 L1872.5,1112.4 L1872.8,1084.8 L1873.0,1108.0 L1873.2,1085.3 L1873.5,1105.8 L1873.8,1085.5 L1874.0,1108.3 L1874.2,1077.1 L1874.5,1111.0 L1874.8,1082.5 L1875.0,1111.1 L1875.2,1068.6 L1875.5,1108.3 L1875.8,1083.2 L1876.0,1107.4 L1876.2,1077.9 L1876.5,1118.9 L1876.8,1088.5 L1877.0,1124.3 L1877.2,1080.2 L1877.5,1113.5 L1877.8,1089.6 L1878.0,1111.0 L1878.2,1081.4 L1878.5,1112.2 L1878.8,1080.5 L1879.0,1114.9 L1879.2,1082.2 L1879.5,1113.5 L1879.8,1087.0 L1880.0,1107.7 L1880.2,1086.8 L1880.5,1108.3 L1880.8,1083.9 L1881.0,1120.5 L1881.2,1082.3 L1881.5,1109.0 L1881.8,1082.4 L1882.0,1113.2 L1882.2,1066.8 L1882.5,1116.6 L1882.8,1086.3 L1883.0,1109.6 L1883.2,1082.7 L1883.5,1118.8 L1883.8,1064.9 L1884.0,1128.2 L1884.2,1083.7 L1884.5,1114.5 L1884.8,1082.8 L1885.0,1111.8 L1885.2,1072.0 L1885.5,1117.8 L1885.8,1085.4 L1886.0,1112.6 L1886.2,1089.4 L1886.5,1114.6 L1886.8,1089.3 L1887.0,1110.0 L1887.2,1082.1 L1887.5,1112.1 L1887.8,1088.2 L1888.0,1111.5 L1888.2,1086.1 L1888.5,1112.0 L1888.8,1087.7 L1889.0,1111.7 L1889.2,1081.9 L1889.5,1108.8 L1889.8,1086.9 L1890.0,1111.8 L1890.2,1085.5 L1890.5,1119.1 L1890.8,1087.9 L1891.0,1110.3 L1891.2,1085.0 L1891.5,1109.3 L1891.8,1088.0 L1892.0,1112.7 L1892.2,1080.7 L1892.5,1132.4 L1892.8,1084.9 L1893.0,1116.6 L1893.2,1088.2 L1893.5,1110.1 L1893.8,1088.1 L1894.0,1110.2 L1894.2,1089.9 L1894.5,1110.6 L1894.8,1076.7 L1895.0,1108.8 L1895.2,1082.7 L1895.5,1110.7 L1895.8,1088.4 L1896.0,1110.5 L1896.2,1086.4 L1896.5,1108.9 L1896.8,1082.0 L1897.0,1115.4 L1897.2,1080.7 L1897.5,1111.6 L1897.8,1090.3 L1898.0,1110.0 L1898.2,1087.9 L1898.5,1111.9 L1898.8,1088.4 L1899.0,1110.1 L1899.2,1084.7 L1899.5,1114.5 L1899.8,1084.3 L1900.0,1110.9 L1900.2,1086.6 L1900.5,1110.1 L1900.8,1070.1 L1901.0,1115.3 L1901.2,1085.6 L1901.5,1110.2 L1901.8,1089.1 L1902.0,1115.0 L1902.2,1088.6 L1902.5,1117.2 L1902.8,1088.0 L1903.0,1109.1 L1903.2,1089.9 L1903.5,1121.3 L1903.8,1084.9 L1904.0,1116.8 L1904.2,1087.1 L1904.5,1108.1 L1904.8,1080.0 L1905.0,1109.8 L1905.2,1087.6 L1905.5,1109.9 L1905.8,1084.7 L1906.0,1107.3 L1906.2,1084.7 L1906.5,1111.3 L1906.8,1074.1 L1907.0,1107.3 L1907.2,1085.2 L1907.5,1111.8 L1907.8,1087.2 L1908.0,1110.7 L1908.2,1086.3 L1908.5,1107.8 L1908.8,1083.5 L1909.0,1116.2 L1909.2,1084.3 L1909.5,1107.8 L1909.8,1067.1 L1910.0,1117.4 L1910.2,1080.9 L1910.5,1117.9 L1910.8,1079.6 L1911.0,1113.7 L1911.2,1086.8 L1911.5,1113.3 L1911.8,1084.1 L1912.0,1109.2 L1912.2,1088.6 L1912.5,1114.1 L1912.8,1088.4 L1913.0,1112.4 L1913.2,1087.4 L1913.5,1107.3 L1913.8,1088.1 L1914.0,1118.0 L1914.2,1085.4 L1914.5,1107.0 L1914.8,1084.3 L1915.0,1107.8 L1915.2,1085.5 L1915.5,1113.1 L1915.8,1088.4 L1916.0,1112.5 L1916.2,1082.1 L1916.5,1108.8 L1916.8,1084.5 L1917.0,1113.0 L1917.2,1086.6 L1917.5,1120.2 L1917.8,1061.4 L1918.0,1107.9 L1918.2,1082.4 L1918.5,1112.6 L1918.8,1074.3 L1919.0,1109.1 L1919.2,1088.5 L1919.5,1112.0 L1919.8,1088.1 L1920.0,1109.9 L1920.2,1085.5 L1920.5,1108.9 L1920.8,1076.7 L1921.0,1108.2 L1921.2,1085.3 L1921.5,1112.3 L1921.8,1083.8 L1922.0,1116.0 L1922.2,1086.0 L1922.5,1111.2 L1922.8,1084.9 L1923.0,1110.7 L1923.2,1077.8 L1923.5,1108.3 L1923.8,1082.7 L1924.0,1108.9 L1924.2,1083.8 L1924.5,1127.6 L1924.8,1087.5 L1925.0,1115.9 L1925.2,1080.1 L1925.5,1108.9 L1925.8,1084.2 L1926.0,1113.7 L1926.2,1088.1 L1926.5,1109.4 L1926.8,1086.6 L1927.0,1115.7 L1927.2,1086.5 L1927.5,1117.2 L1927.8,1083.9 L1928.0,1117.9 L1928.2,1087.9 L1928.5,1116.3 L1928.8,1087.2 L1929.0,1109.2 L1929.2,1086.7 L1929.5,1116.5 L1929.8,1089.9 L1930.0,1113.7 L1930.2,1084.4 L1930.5,1113.2 L1930.8,1086.5 L1931.0,1112.3 L1931.2,1071.0 L1931.5,1116.1 L1931.8,1083.7 L1932.0,1108.8 L1932.2,1086.8 L1932.5,1117.7 L1932.8,1088.4 L1933.0,1108.2 L1933.2,1086.4 L1933.5,1109.8 L1933.8,1089.2 L1934.0,1108.1 L1934.2,1079.8 L1934.5,1115.2 L1934.8,1088.0 L1935.0,1110.7 L1935.2,1087.9 L1935.5,1108.9 L1935.8,1085.9 L1936.0,1110.2 L1936.2,1088.8 L1936.5,1108.7 L1936.8,1078.4 L1937.0,1113.1 L1937.2,1089.3 L1937.5,1118.2 L1937.8,1083.1 L1938.0,1112.0 L1938.2,1077.5 L1938.5,1113.3 L1938.8,1089.4 L1939.0,1108.7 L1939.2,1087.7 L1939.5,1109.1 L1939.8,1089.1 L1940.0,1111.8 L1940.2,1084.1 L1940.5,1120.7 L1940.8,1080.6 L1941.0,1111.2 L1941.2,1081.9 L1941.5,1113.5 L1941.8,1083.9 L1942.0,1110.0 L1942.2,1087.0 L1942.5,1110.0 L1942.8,1085.6 L1943.0,1109.1 L1943.2,1082.9 L1943.5,1111.9 L1943.8,1085.7 L1944.0,1112.0 L1944.2,1079.4 L1944.5,1114.5 L1944.8,1082.0 L1945.0,1114.1 L1945.2,1085.9 L1945.5,1108.1 L1945.8,1079.7 L1946.0,1114.9 L1946.2,1084.8 L1946.5,1108.4 L1946.8,1081.9 L1947.0,1110.3 L1947.2,1082.3 L1947.5,1110.4 L1947.8,1086.1 L1948.0,1114.7 L1948.2,1079.3 L1948.5,1117.6 L1948.8,1085.7 L1949.0,1116.2 L1949.2,1084.8 L1949.5,1107.7 L1949.8,1086.4 L1950.0,1118.7 L1950.2,1089.3 L1950.5,1112.3 L1950.8,1078.1 L1951.0,1123.9 L1951.2,1086.7 L1951.5,1114.4 L1951.8,1083.5 L1952.0,1123.9 L1952.2,1086.4 L1952.5,1110.5 L1952.8,1086.7 L1953.0,1108.5 L1953.2,1082.4 L1953.5,1118.2 L1953.8,1089.8 L1954.0,1108.2 L1954.2,1084.9 L1954.5,1110.0 L1954.8,1085.0 L1955.0,1110.4 L1955.2,1087.6 L1955.5,1111.1 L1955.8,1083.9 L1956.0,1116.6 L1956.2,1086.5 L1956.5,1124.7 L1956.8,1079.4 L1957.0,1109.9 L1957.2,1082.9 L1957.5,1110.6 L1957.8,1087.4 L1958.0,1109.0 L1958.2,1082.4 L1958.5,1119.4 L1958.8,1087.0 L1959.0,1111.7 L1959.2,1072.4 L1959.5,1107.6 L1959.8,1078.5 L1960.0,1112.8 L1960.2,1067.6 L1960.5,1116.3 L1960.8,1086.1 L1961.0,1108.7 L1961.2,1088.1 L1961.5,1115.7 L1961.8,1086.6 L1962.0,1109.0 L1962.2,1085.6 L1962.5,1110.1 L1962.8,1081.8 L1963.0,1125.9 L1963.2,1082.9 L1963.5,1107.5 L1963.8,1085.3 L1964.0,1119.7 L1964.2,1080.1 L1964.5,1108.6 L1964.8,1080.1 L1965.0,1106.7 L1965.2,1086.1 L1965.5,1107.3 L1965.8,1076.5 L1966.0,1110.9 L1966.2,1077.1 L1966.5,1117.4 L1966.8,1084.4 L1967.0,1111.4 L1967.2,1084.1 L1967.5,1114.2 L1967.8,1081.6 L1968.0,1114.3 L1968.2,1079.0 L1968.5,1109.7 L1968.8,1083.3 L1969.0,1108.2 L1969.2,1083.5 L1969.5,1106.5 L1969.8,1084.6 L1970.0,1104.9 L1970.2,1078.3 L1970.5,1108.4 L1970.8,1083.1 L1971.0,1120.8 L1971.2,1083.6 L1971.5,1105.2 L1971.8,1084.1 L1972.0,1112.7 L1972.2,1084.1 L1972.5,1106.2 L1972.8,1079.9 L1973.0,1106.3 L1973.2,1064.4 L1973.5,1105.3 L1973.8,1083.2 L1974.0,1109.8 L1974.2,1076.9 L1974.5,1110.3 L1974.8,1077.9 L1975.0,1104.2 L1975.2,1079.5 L1975.5,1105.9 L1975.8,1083.4 L1976.0,1105.8 L1976.2,1084.0 L1976.5,1110.2 L1976.8,1074.7 L1977.0,1105.9 L1977.2,1081.6 L1977.5,1109.5 L1977.8,1083.5 L1978.0,1114.5 L1978.2,1075.8 L1978.5,1108.7 L1978.8,1083.2 L1979.0,1113.1 L1979.2,1080.2 L1979.5,1113.5 L1979.8,1085.3 L1980.0,1123.1 L1980.2,1084.7 L1980.5,1110.0 L1980.8,1068.4 L1981.0,1105.0 L1981.2,1083.5 L1981.5,1105.7 L1981.8,1080.8 L1982.0,1104.2 L1982.2,1073.4 L1982.5,1106.2 L1982.8,1084.9 L1983.0,1110.8 L1983.2,1080.7 L1983.5,1107.7 L1983.8,1083.5 L1984.0,1105.3 L1984.2,1084.7 L1984.5,1106.6 L1984.8,1079.0 L1985.0,1104.8 L1985.2,1080.9 L1985.5,1108.2 L1985.8,1085.4 L1986.0,1110.4 L1986.2,1080.9 L1986.5,1105.8 L1986.8,1080.3 L1987.0,1111.2 L1987.2,1081.2 L1987.5,1108.3 L1987.8,1079.4 L1988.0,1104.8 L1988.2,1083.7 L1988.5,1123.6 L1988.8,1085.2 L1989.0,1118.7 L1989.2,1084.7 L1989.5,1116.4 L1989.8,1077.8 L1990.0,1105.3 L1990.2,1077.5 L1990.5,1107.7 L1990.8,1080.9 L1991.0,1115.0 L1991.2,1079.5 L1991.5,1117.3 L1991.8,1084.8 L1992.0,1116.4 L1992.2,1076.5 L1992.5,1108.7 L1992.8,1084.8 L1993.0,1103.1 L1993.2,1084.1 L1993.5,1105.5 L1993.8,1068.1 L1994.0,1106.6 L1994.2,1080.0 L1994.5,1113.4 L1994.8,1082.9 L1995.0,1103.1 L1995.2,1079.3 L1995.5,1110.5 L1995.8,1081.6 L1996.0,1102.5 L1996.2,1081.1 L1996.5,1110.2 L1996.8,1077.5 L1997.0,1107.4 L1997.2,1080.4 L1997.5,1105.2 L1997.8,1078.2 L1998.0,1109.2 L1998.2,1083.0 L1998.5,1108.3 L1998.8,1077.6 L1999.0,1106.0 L1999.2,1083.6 L1999.5,1109.5 L1999.8,1083.5 L2000.0,1107.7 L2000.2,1079.1 L2000.5,1105.6 L2000.8,1079.2 L2001.0,1106.4 L2001.2,1087.3 L2001.5,1114.1 L2001.8,1083.7 L2002.0,1107.3 L2002.2,1088.3 L2002.5,1110.1 L2002.8,1084.1 L2003.0,1107.2 L2003.2,1086.6 L2003.5,1113.9 L2003.8,1078.9 L2004.0,1109.6 L2004.2,1081.0 L2004.5,1115.0 L2004.8,1068.5 L2005.0,1131.4 L2005.2,1088.7 L2005.5,1113.4 L2005.8,1078.9 L2006.0,1110.0 L2006.2,1082.8 L2006.5,1119.2 L2006.8,1085.5 L2007.0,1114.5 L2007.2,1087.6 L2007.5,1112.9 L2007.8,1083.8 L2008.0,1110.2 L2008.2,1081.7 L2008.5,1109.5 L2008.8,1076.2 L2009.0,1110.1 L2009.2,1085.2 L2009.5,1119.1 L2009.8,1081.2 L2010.0,1109.2 L2010.2,1080.7 L2010.5,1111.9 L2010.8,1086.3 L2011.0,1118.4 L2011.2,1084.2 L2011.5,1113.6 L2011.8,1075.5 L2012.0,1107.9 L2012.2,1080.7 L2012.5,1104.4 L2012.8,1080.5 L2013.0,1108.8 L2013.2,1080.8 L2013.5,1104.0 L2013.8,1083.3 L2014.0,1103.3 L2014.2,1078.6 L2014.5,1104.2 L2014.8,1077.9 L2015.0,1104.3 L2015.2,1083.0 L2015.5,1108.6 L2015.8,1080.6 L2016.0,1106.0 L2016.2,1083.5 L2016.5,1104.4 L2016.8,1081.4 L2017.0,1106.3 L2017.2,1060.7 L2017.5,1115.5 L2017.8,1081.8 L2018.0,1106.5 L2018.2,1076.5 L2018.5,1108.6 L2018.8,1081.9 L2019.0,1111.7 L2019.2,1084.2 L2019.5,1107.0 L2019.8,1084.0 L2020.0,1108.1 L2020.2,1079.5 L2020.5,1113.0 L2020.8,1085.3 L2021.0,1110.7 L2021.2,1083.3 L2021.5,1111.2 L2021.8,1053.5 L2022.0,1106.7 L2022.2,1082.4 L2022.5,1116.0 L2022.8,1080.6 L2023.0,1107.7 L2023.2,1077.0 L2023.5,1107.7 L2023.8,1087.4 L2024.0,1111.8 L2024.2,1085.3 L2024.5,1118.1 L2024.8,1087.2 L2025.0,1115.1 L2025.2,1076.1 L2025.5,1108.7 L2025.8,1083.2 L2026.0,1112.2 L2026.2,1087.5 L2026.5,1111.5 L2026.8,1086.5 L2027.0,1110.3 L2027.2,1089.8 L2027.5,1109.8 L2027.8,1091.1 L2028.0,1115.3 L2028.2,1086.6 L2028.5,1111.5 L2028.8,1088.4 L2029.0,1115.9 L2029.2,1083.9 L2029.5,1113.7 L2029.8,1087.6 L2030.0,1112.0 L2030.2,1078.7 L2030.5,1112.6 L2030.8,1081.4 L2031.0,1118.3 L2031.2,1087.3 L2031.5,1117.6 L2031.8,1084.2 L2032.0,1110.1 L2032.2,1087.8 L2032.5,1113.2 L2032.8,1087.9 L2033.0,1109.4 L2033.2,1089.3 L2033.5,1118.9 L2033.8,1084.8 L2034.0,1114.3 L2034.2,1080.6 L2034.5,1107.5 L2034.8,1080.4 L2035.0,1107.5 L2035.2,1085.5 L2035.5,1112.4 L2035.8,1075.6 L2036.0,1114.0 L2036.2,1083.7 L2036.5,1118.5 L2036.8,1085.9 L2037.0,1112.4 L2037.2,1084.8 L2037.5,1107.3" fill="none" stroke="#00f" stroke-width="1.0"/><rect x="1617.7" y="866.2" width="421.6" height="289.8" fill="none" stroke="#000" stroke-width="3.2"/><line x1="1686.5" y1="1156" x2="1686.5" y2="1149.5" stroke="#000" stroke-width="3"/><line x1="1827.8" y1="1156" x2="1827.8" y2="1149.5" stroke="#000" stroke-width="3"/><line x1="1969.5" y1="1156" x2="1969.5" y2="1149.5" stroke="#000" stroke-width="3"/><line x1="1617.5" y1="1156" x2="1617.5" y2="1160" stroke="#000" stroke-width="2.5"/><line x1="1757.5" y1="1156" x2="1757.5" y2="1160" stroke="#000" stroke-width="2.5"/><line x1="1898.5" y1="1156" x2="1898.5" y2="1160" stroke="#000" stroke-width="2.5"/><line x1="2039" y1="1156" x2="2039" y2="1160" stroke="#000" stroke-width="2.5"/><text x="1687" y="1181.5" text-anchor="middle" style="font-family:'Liberation Serif','Times New Roman',serif;font-size:25px" fill="#111">200</text><text x="1828.5" y="1181.5" text-anchor="middle" style="font-family:'Liberation Serif','Times New Roman',serif;font-size:25px" fill="#111">210</text><text x="1970" y="1181.5" text-anchor="middle" style="font-family:'Liberation Serif','Times New Roman',serif;font-size:25px" fill="#111">220</text><line x1="1475.0" y1="1396.0" x2="1425.2" y2="1227.6" stroke="#000" stroke-width="4.2"/><polygon points="1415.8,1196.0 1437.3,1228.2 1415.3,1234.7" fill="#000"/><line x1="1876.5" y1="1397.4" x2="1829.8" y2="1227.8" stroke="#000" stroke-width="4.2"/><polygon points="1821.0,1196.0 1841.9,1228.6 1819.7,1234.7" fill="#000"/><line x1="1712" y1="123.3" x2="1879" y2="123.3" stroke="#f00" stroke-width="5.8" stroke-linecap="round"/><text x="1896" y="149" style="font-family:'Liberation Serif','Times New Roman',serif;font-size:73px" fill="#000">800nm</text><line x1="1712" y1="807" x2="1879" y2="807" stroke="#00f" stroke-width="5.8" stroke-linecap="round"/><text x="1896" y="832" style="font-family:'Liberation Serif','Times New Roman',serif;font-size:73px" fill="#000">400nm</text><text x="219.5" y="148.2" style="font-family:'Liberation Serif','Times New Roman',serif;font-size:94px;font-weight:bold" fill="#000">(a)</text><text x="220.5" y="831" style="font-family:'Liberation Serif','Times New Roman',serif;font-size:94px;font-weight:bold" fill="#000">(b)</text><text x="1233.5" y="1638.5" text-anchor="end" style="font-family:'Liberation Serif','Times New Roman',serif;font-size:92px;font-weight:bold" fill="#000" transform="">m/z</text><text transform="translate(129.5,1062.3) rotate(-90)" style="font-family:'Liberation Serif','Times New Roman',serif;font-size:93.8px;font-weight:bold" fill="#000">Yields(arb.units)</text><text x="200.0" y="1504" text-anchor="middle" style="font-family:'Liberation Serif','Times New Roman',serif;font-size:67px" fill="#000">0</text><text x="360.2" y="1504" text-anchor="middle" style="font-family:'Liberation Serif','Times New Roman',serif;font-size:67px" fill="#000">20</text><text x="520.4" y="1504" text-anchor="middle" style="font-family:'Liberation Serif','Times New Roman',serif;font-size:67px" fill="#000">40</text><text x="680.5999999999999" y="1504" text-anchor="middle" style="font-family:'Liberation Serif','Times New Roman',serif;font-size:67px" fill="#000">60</text><text x="840.8" y="1504" text-anchor="middle" style="font-family:'Liberation Serif','Times New Roman',serif;font-size:67px" fill="#000">80</text><text x="1001.0" y="1504" text-anchor="middle" style="font-family:'Liberation Serif','Times New Roman',serif;font-size:67px" fill="#000">100</text><text x="1161.1999999999998" y="1504" text-anchor="middle" style="font-family:'Liberation Serif','Times New Roman',serif;font-size:67px" fill="#000">120</text><text x="1321.3999999999999" y="1504" text-anchor="middle" style="font-family:'Liberation Serif','Times New Roman',serif;font-size:67px" fill="#000">140</text><text x="1481.6" y="1504" text-anchor="middle" style="font-family:'Liberation Serif','Times New Roman',serif;font-size:67px" fill="#000">160</text><text x="1641.8" y="1504" text-anchor="middle" style="font-family:'Liberation Serif','Times New Roman',serif;font-size:67px" fill="#000">180</text><text x="1802.0" y="1504" text-anchor="middle" style="font-family:'Liberation Serif','Times New Roman',serif;font-size:67px" fill="#000">200</text><text x="1962.2" y="1504" text-anchor="middle" style="font-family:'Liberation Serif','Times New Roman',serif;font-size:67px" fill="#000">220</text><text x="2122.3999999999996" y="1504" text-anchor="middle" style="font-family:'Liberation Serif','Times New Roman',serif;font-size:67px" fill="#000">240</text><text x="279" y="674.5" style="font-family:'Liberation Serif','Times New Roman',serif;font-size:60px" fill="#000"><tspan>C</tspan><tspan dy="-24.6" dx="-2.5" style="font-size:44px">+</tspan></text><text x="350" y="674.5" style="font-family:'Liberation Serif','Times New Roman',serif;font-size:60px" fill="#000"><tspan>F</tspan><tspan dy="-24.6" dx="-2.5" style="font-size:44px">+</tspan></text><text x="424" y="569.5" style="font-family:'Liberation Serif','Times New Roman',serif;font-size:60px" fill="#000"><tspan>CF</tspan><tspan dy="-24.6" dx="-2.5" style="font-size:44px">+</tspan></text><text x="491" y="675" style="font-family:'Liberation Serif','Times New Roman',serif;font-size:60px" fill="#000"><tspan>Ar</tspan><tspan dy="-24.6" dx="-2.5" style="font-size:44px">+</tspan></text><text x="573.5" y="569.9" style="font-family:'Liberation Serif','Times New Roman',serif;font-size:60px" fill="#000"><tspan>CF</tspan><tspan dy="16" style="font-size:42px">2</tspan><tspan dy="-40.6" dx="-2.5" style="font-size:44px">+</tspan></text><text x="811" y="395.4" style="font-family:'Liberation Serif','Times New Roman',serif;font-size:60px" fill="#000"><tspan>Br</tspan><tspan dy="-24.6" dx="-2.5" style="font-size:44px">+</tspan></text><text x="1183" y="241.9" style="font-family:'Liberation Serif','Times New Roman',serif;font-size:60px" fill="#000"><tspan>CF</tspan><tspan dy="16" dx="-1.5" style="font-size:42px">2</tspan><tspan dy="-16" style="font-size:60px">Br</tspan><tspan dy="-24.6" dx="-1.5" style="font-size:44px">+</tspan></text><text x="263" y="1377.2" style="font-family:'Liberation Serif','Times New Roman',serif;font-size:60px" fill="#000"><tspan>C</tspan><tspan dy="-24.6" dx="-2.5" style="font-size:44px">+</tspan></text><text x="342" y="1377.2" style="font-family:'Liberation Serif','Times New Roman',serif;font-size:60px" fill="#000"><tspan>F</tspan><tspan dy="-24.6" dx="-2.5" style="font-size:44px">+</tspan></text><text x="407.5" y="1259" style="font-family:'Liberation Serif','Times New Roman',serif;font-size:60px" fill="#000"><tspan>CF</tspan><tspan dy="-24.6" dx="-2.5" style="font-size:44px">+</tspan></text><text x="491" y="1377" style="font-family:'Liberation Serif','Times New Roman',serif;font-size:60px" fill="#000"><tspan>Ar</tspan><tspan dy="-24.6" dx="-2.5" style="font-size:44px">+</tspan></text><text x="562.5" y="1259" style="font-family:'Liberation Serif','Times New Roman',serif;font-size:60px" fill="#000"><tspan>CF</tspan><tspan dy="16" style="font-size:42px">2</tspan><tspan dy="-40.6" dx="-2.5" style="font-size:44px">+</tspan></text><text x="811.5" y="1259" style="font-family:'Liberation Serif','Times New Roman',serif;font-size:60px" fill="#000"><tspan>Br</tspan><tspan dy="-24.6" dx="-2.5" style="font-size:44px">+</tspan></text><text x="1148.5" y="1258.4" style="font-family:'Liberation Serif','Times New Roman',serif;font-size:60px" fill="#000"><tspan>CF</tspan><tspan dy="16" dx="-1.5" style="font-size:42px">2</tspan><tspan dy="-16" style="font-size:60px">Br</tspan><tspan dy="-24.6" dx="-1.5" style="font-size:44px">+</tspan></text><text x="1476" y="932" style="font-family:'Liberation Serif','Times New Roman',serif;font-size:59px" fill="#000">×30</text><text x="1943.5" y="932" style="font-family:'Liberation Serif','Times New Roman',serif;font-size:59px" fill="#000">×30</text><text x="1330" y="1017.6" style="font-family:'Liberation Serif','Times New Roman',serif;font-size:31px" fill="#000"><tspan>Br</tspan><tspan dy="10.3" style="font-size:24px">2</tspan><tspan dy="-23.1" style="font-size:24px">+</tspan></text><text x="1761.1" y="1006.1" style="font-family:'Liberation Serif','Times New Roman',serif;font-size:33px" fill="#000"><tspan>CF</tspan><tspan dy="17" style="font-size:34px">2</tspan><tspan dy="-17" style="font-size:33px">Br</tspan><tspan dy="17" style="font-size:34px">2</tspan><tspan dy="-40.1" style="font-size:37px">+</tspan></text>
</svg></body></html>
